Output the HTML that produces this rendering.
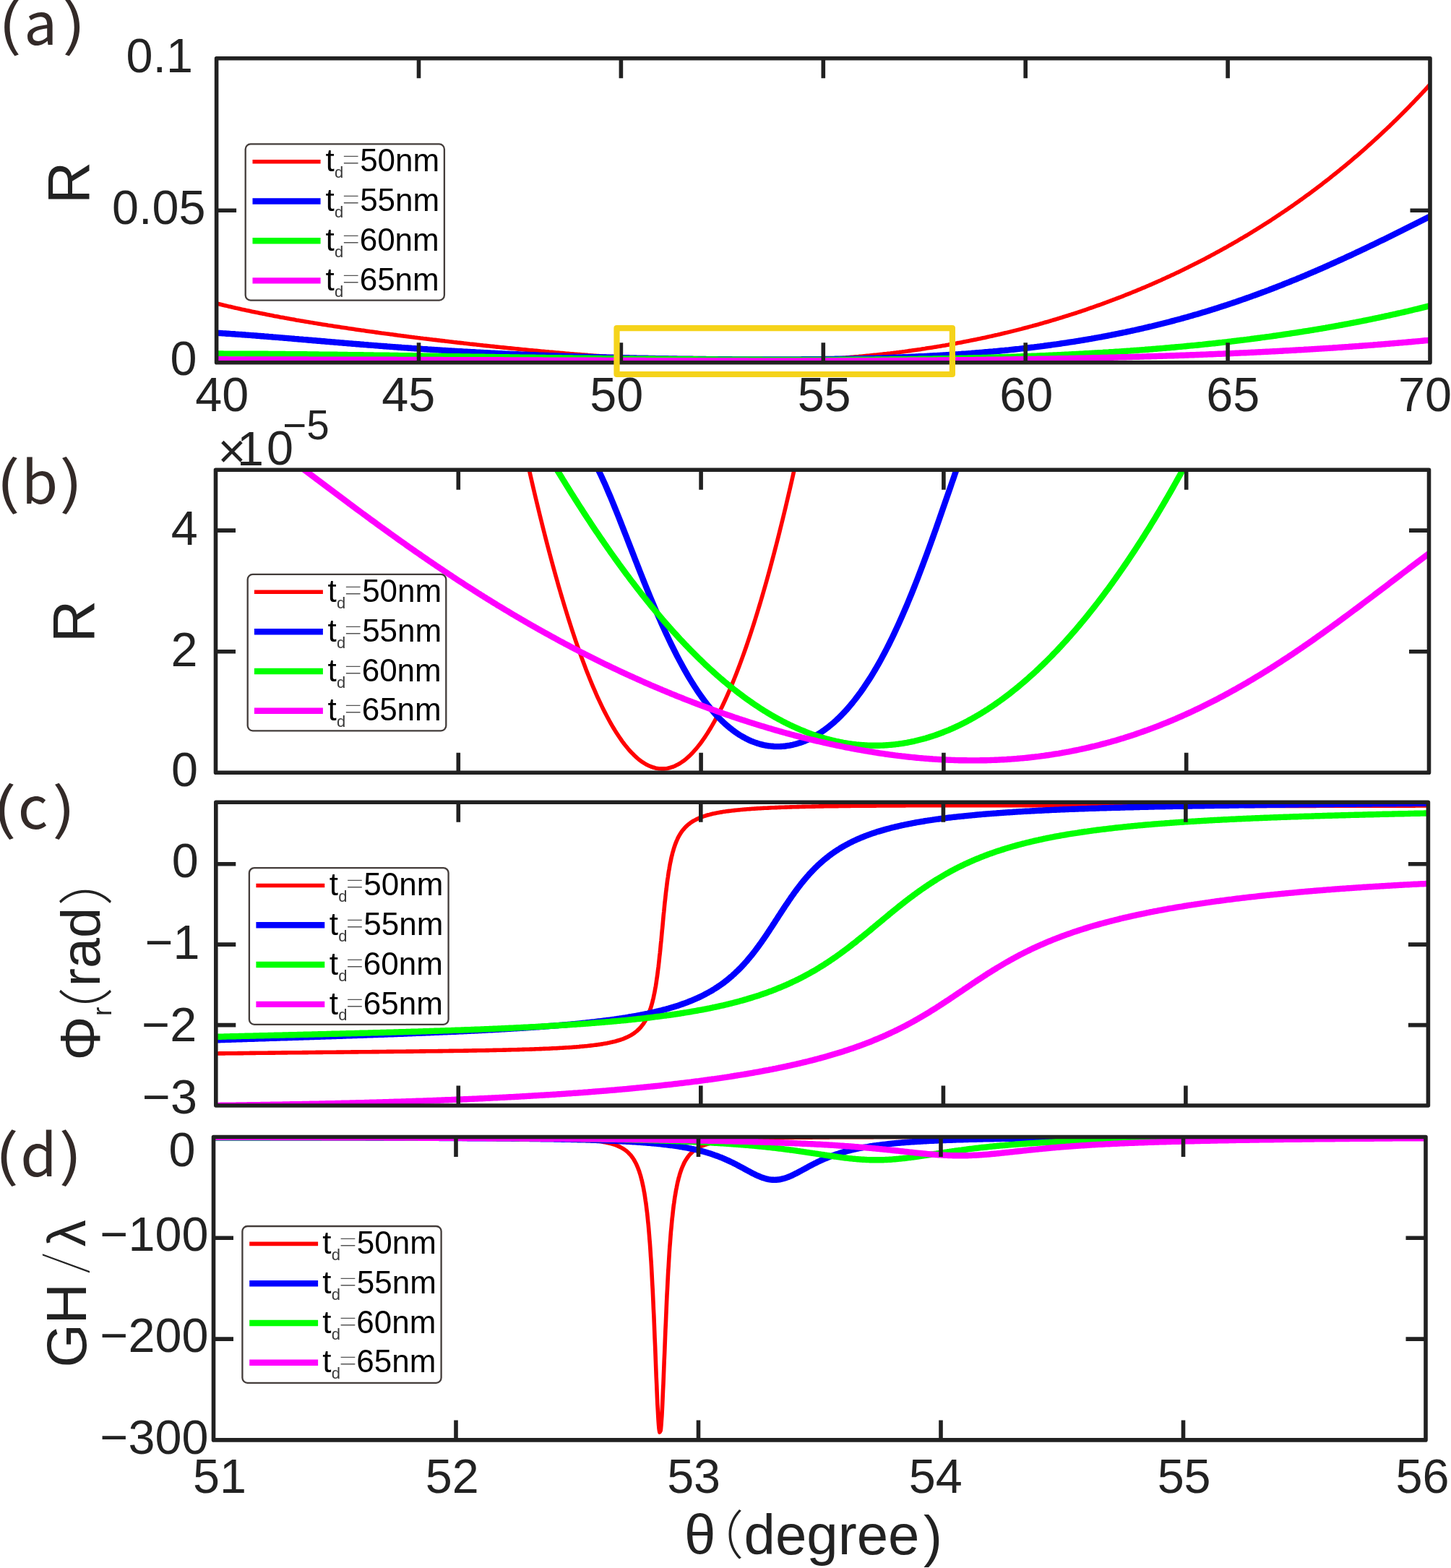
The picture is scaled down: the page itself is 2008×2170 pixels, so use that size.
<!DOCTYPE html>
<html><head><meta charset="utf-8"><title>figure</title>
<style>html,body{margin:0;padding:0;background:#fff;overflow:hidden}svg{display:block}</style>
</head><body>
<svg xmlns="http://www.w3.org/2000/svg" width="2008" height="2170" viewBox="0 0 2008 2170"><rect width="2008" height="2170" fill="#ffffff"/>
<clipPath id="clipa"><rect x="299.6" y="80.8" width="1679.4" height="420.9"/></clipPath>
<g clip-path="url(#clipa)" fill="none" stroke-linejoin="round" stroke-linecap="round">
<path d="M296.0 419.0L298.0 419.5L300.0 420.0L302.0 420.5L304.0 421.0L306.0 421.5L308.0 422.0L310.0 422.5L312.0 422.9L314.0 423.4L316.0 423.9L318.0 424.3L320.0 424.8L322.0 425.3L324.0 425.7L326.0 426.2L328.0 426.6L330.0 427.1L332.0 427.5L334.0 428.0L336.0 428.4L338.0 428.8L340.0 429.3L342.0 429.7L344.0 430.1L346.0 430.5L348.0 431.0L350.0 431.4L352.0 431.8L354.0 432.2L356.0 432.6L358.0 433.0L360.0 433.4L362.0 433.8L364.0 434.2L366.0 434.6L368.0 435.0L370.0 435.4L372.0 435.8L374.0 436.2L376.0 436.6L378.0 437.0L380.0 437.4L382.0 437.7L384.0 438.1L386.0 438.5L388.0 438.9L390.0 439.2L392.0 439.6L394.0 440.0L396.0 440.3L398.0 440.7L400.0 441.1L402.0 441.4L404.0 441.8L406.0 442.1L408.0 442.5L410.0 442.9L412.0 443.2L414.0 443.6L416.0 443.9L418.0 444.2L420.0 444.6L422.0 444.9L424.0 445.3L426.0 445.6L428.0 445.9L430.0 446.3L432.0 446.6L434.0 446.9L436.0 447.3L438.0 447.6L440.0 447.9L442.0 448.2L444.0 448.6L446.0 448.9L448.0 449.2L450.0 449.5L452.0 449.8L454.0 450.2L456.0 450.5L458.0 450.8L460.0 451.1L462.0 451.4L464.0 451.7L466.0 452.0L468.0 452.3L470.0 452.6L472.0 452.9L474.0 453.2L476.0 453.5L478.0 453.8L480.0 454.1L482.0 454.4L484.0 454.7L486.0 455.0L488.0 455.3L490.0 455.6L492.0 455.9L494.0 456.2L496.0 456.5L498.0 456.8L500.0 457.1L502.0 457.3L504.0 457.6L506.0 457.9L508.0 458.2L510.0 458.5L512.0 458.8L514.0 459.0L516.0 459.3L518.0 459.6L520.0 459.9L522.0 460.1L524.0 460.4L526.0 460.7L528.0 461.0L530.0 461.2L532.0 461.5L534.0 461.8L536.0 462.0L538.0 462.3L540.0 462.6L542.0 462.8L544.0 463.1L546.0 463.4L548.0 463.6L550.0 463.9L552.0 464.2L554.0 464.4L556.0 464.7L558.0 464.9L560.0 465.2L562.0 465.4L564.0 465.7L566.0 466.0L568.0 466.2L570.0 466.5L572.0 466.7L574.0 467.0L576.0 467.2L578.0 467.5L580.0 467.7L582.0 468.0L584.0 468.2L586.0 468.5L588.0 468.7L590.0 468.9L592.0 469.2L594.0 469.4L596.0 469.7L598.0 469.9L600.0 470.2L602.0 470.4L604.0 470.6L606.0 470.9L608.0 471.1L610.0 471.4L612.0 471.6L614.0 471.8L616.0 472.1L618.0 472.3L620.0 472.5L622.0 472.8L624.0 473.0L626.0 473.2L628.0 473.5L630.0 473.7L632.0 473.9L634.0 474.2L636.0 474.4L638.0 474.6L640.0 474.8L642.0 475.1L644.0 475.3L646.0 475.5L648.0 475.7L650.0 476.0L652.0 476.2L654.0 476.4L656.0 476.6L658.0 476.8L660.0 477.1L662.0 477.3L664.0 477.5L666.0 477.7L668.0 477.9L670.0 478.2L672.0 478.4L674.0 478.6L676.0 478.8L678.0 479.0L680.0 479.2L682.0 479.4L684.0 479.6L686.0 479.9L688.0 480.1L690.0 480.3L692.0 480.5L694.0 480.7L696.0 480.9L698.0 481.1L700.0 481.3L702.0 481.5L704.0 481.7L706.0 481.9L708.0 482.1L710.0 482.3L712.0 482.5L714.0 482.7L716.0 482.9L718.0 483.1L720.0 483.3L722.0 483.5L724.0 483.7L726.0 483.9L728.0 484.1L730.0 484.3L732.0 484.5L734.0 484.7L736.0 484.8L738.0 485.0L740.0 485.2L742.0 485.4L744.0 485.6L746.0 485.8L748.0 486.0L750.0 486.2L752.0 486.3L754.0 486.5L756.0 486.7L758.0 486.9L760.0 487.1L762.0 487.2L764.0 487.4L766.0 487.6L768.0 487.8L770.0 488.0L772.0 488.1L774.0 488.3L776.0 488.5L778.0 488.6L780.0 488.8L782.0 489.0L784.0 489.2L786.0 489.3L788.0 489.5L790.0 489.7L792.0 489.8L794.0 490.0L796.0 490.2L798.0 490.3L800.0 490.5L802.0 490.6L804.0 490.8L806.0 491.0L808.0 491.1L810.0 491.3L812.0 491.4L814.0 491.6L816.0 491.7L818.0 491.9L820.0 492.0L822.0 492.2L824.0 492.3L826.0 492.5L828.0 492.6L830.0 492.8L832.0 492.9L834.0 493.1L836.0 493.2L838.0 493.3L840.0 493.5L842.0 493.6L844.0 493.8L846.0 493.9L848.0 494.0L850.0 494.2L852.0 494.3L854.0 494.4L856.0 494.6L858.0 494.7L860.0 494.8L862.0 494.9L864.0 495.1L866.0 495.2L868.0 495.3L870.0 495.4L872.0 495.6L874.0 495.7L876.0 495.8L878.0 495.9L880.0 496.0L882.0 496.1L884.0 496.3L886.0 496.4L888.0 496.5L890.0 496.6L892.0 496.7L894.0 496.8L896.0 496.9L898.0 497.0L900.0 497.1L902.0 497.2L904.0 497.3L906.0 497.4L908.0 497.5L910.0 497.6L912.0 497.7L914.0 497.8L916.0 497.9L918.0 498.0L920.0 498.1L922.0 498.2L924.0 498.2L926.0 498.3L928.0 498.4L930.0 498.5L932.0 498.6L934.0 498.7L936.0 498.7L938.0 498.8L940.0 498.9L942.0 499.0L944.0 499.0L946.0 499.1L948.0 499.2L950.0 499.2L952.0 499.3L954.0 499.4L956.0 499.4L958.0 499.5L960.0 499.5L962.0 499.6L964.0 499.6L966.0 499.7L968.0 499.8L970.0 499.8L972.0 499.9L974.0 499.9L976.0 499.9L978.0 500.0L980.0 500.0L982.0 500.1L984.0 500.1L986.0 500.1L988.0 500.2L990.0 500.2L992.0 500.2L994.0 500.3L996.0 500.3L998.0 500.3L1000.0 500.4L1002.0 500.4L1004.0 500.4L1006.0 500.4L1008.0 500.4L1010.0 500.4L1012.0 500.5L1014.0 500.5L1016.0 500.5L1018.0 500.5L1020.0 500.5L1022.0 500.5L1024.0 500.5L1026.0 500.5L1028.0 500.5L1030.0 500.5L1032.0 500.5L1034.0 500.5L1036.0 500.5L1038.0 500.5L1040.0 500.5L1042.0 500.4L1044.0 500.4L1046.0 500.4L1048.0 500.4L1050.0 500.4L1052.0 500.3L1054.0 500.3L1056.0 500.3L1058.0 500.3L1060.0 500.2L1062.0 500.2L1064.0 500.2L1066.0 500.1L1068.0 500.1L1070.0 500.0L1072.0 500.0L1074.0 499.9L1076.0 499.9L1078.0 499.8L1080.0 499.8L1082.0 499.7L1084.0 499.7L1086.0 499.6L1088.0 499.6L1090.0 499.5L1092.0 499.4L1094.0 499.4L1096.0 499.3L1098.0 499.2L1100.0 499.1L1102.0 499.1L1104.0 499.0L1106.0 498.9L1108.0 498.8L1110.0 498.7L1112.0 498.6L1114.0 498.6L1116.0 498.5L1118.0 498.4L1120.0 498.3L1122.0 498.2L1124.0 498.1L1126.0 498.0L1128.0 497.9L1130.0 497.8L1132.0 497.6L1134.0 497.5L1136.0 497.4L1138.0 497.3L1140.0 497.2L1142.0 497.1L1144.0 496.9L1146.0 496.8L1148.0 496.7L1150.0 496.5L1152.0 496.4L1154.0 496.3L1156.0 496.1L1158.0 496.0L1160.0 495.8L1162.0 495.7L1164.0 495.5L1166.0 495.4L1168.0 495.2L1170.0 495.1L1172.0 494.9L1174.0 494.8L1176.0 494.6L1178.0 494.4L1180.0 494.3L1182.0 494.1L1184.0 493.9L1186.0 493.7L1188.0 493.6L1190.0 493.4L1192.0 493.2L1194.0 493.0L1196.0 492.8L1198.0 492.6L1200.0 492.4L1202.0 492.2L1204.0 492.0L1206.0 491.8L1208.0 491.6L1210.0 491.4L1212.0 491.2L1214.0 491.0L1216.0 490.8L1218.0 490.6L1220.0 490.4L1222.0 490.1L1224.0 489.9L1226.0 489.7L1228.0 489.4L1230.0 489.2L1232.0 489.0L1234.0 488.7L1236.0 488.5L1238.0 488.2L1240.0 488.0L1242.0 487.7L1244.0 487.5L1246.0 487.2L1248.0 487.0L1250.0 486.7L1252.0 486.5L1254.0 486.2L1256.0 485.9L1258.0 485.6L1260.0 485.4L1262.0 485.1L1264.0 484.8L1266.0 484.5L1268.0 484.2L1270.0 483.9L1272.0 483.7L1274.0 483.4L1276.0 483.1L1278.0 482.8L1280.0 482.5L1282.0 482.1L1284.0 481.8L1286.0 481.5L1288.0 481.2L1290.0 480.9L1292.0 480.6L1294.0 480.2L1296.0 479.9L1298.0 479.6L1300.0 479.3L1302.0 478.9L1304.0 478.6L1306.0 478.2L1308.0 477.9L1310.0 477.5L1312.0 477.2L1314.0 476.8L1316.0 476.5L1318.0 476.1L1320.0 475.8L1322.0 475.4L1324.0 475.0L1326.0 474.6L1328.0 474.3L1330.0 473.9L1332.0 473.5L1334.0 473.1L1336.0 472.7L1338.0 472.3L1340.0 471.9L1342.0 471.5L1344.0 471.1L1346.0 470.7L1348.0 470.3L1350.0 469.9L1352.0 469.5L1354.0 469.1L1356.0 468.7L1358.0 468.2L1360.0 467.8L1362.0 467.4L1364.0 467.0L1366.0 466.5L1368.0 466.1L1370.0 465.6L1372.0 465.2L1374.0 464.7L1376.0 464.3L1378.0 463.8L1380.0 463.4L1382.0 462.9L1384.0 462.5L1386.0 462.0L1388.0 461.5L1390.0 461.0L1392.0 460.6L1394.0 460.1L1396.0 459.6L1398.0 459.1L1400.0 458.6L1402.0 458.1L1404.0 457.6L1406.0 457.1L1408.0 456.6L1410.0 456.1L1412.0 455.6L1414.0 455.1L1416.0 454.5L1418.0 454.0L1420.0 453.5L1422.0 453.0L1424.0 452.4L1426.0 451.9L1428.0 451.4L1430.0 450.8L1432.0 450.3L1434.0 449.7L1436.0 449.2L1438.0 448.6L1440.0 448.0L1442.0 447.5L1444.0 446.9L1446.0 446.3L1448.0 445.7L1450.0 445.2L1452.0 444.6L1454.0 444.0L1456.0 443.4L1458.0 442.8L1460.0 442.2L1462.0 441.6L1464.0 441.0L1466.0 440.4L1468.0 439.8L1470.0 439.2L1472.0 438.5L1474.0 437.9L1476.0 437.3L1478.0 436.7L1480.0 436.0L1482.0 435.4L1484.0 434.7L1486.0 434.1L1488.0 433.5L1490.0 432.8L1492.0 432.1L1494.0 431.5L1496.0 430.8L1498.0 430.1L1500.0 429.5L1502.0 428.8L1504.0 428.1L1506.0 427.4L1508.0 426.7L1510.0 426.0L1512.0 425.3L1514.0 424.6L1516.0 423.9L1518.0 423.2L1520.0 422.5L1522.0 421.8L1524.0 421.1L1526.0 420.4L1528.0 419.6L1530.0 418.9L1532.0 418.2L1534.0 417.4L1536.0 416.7L1538.0 415.9L1540.0 415.2L1542.0 414.4L1544.0 413.7L1546.0 412.9L1548.0 412.1L1550.0 411.3L1552.0 410.6L1554.0 409.8L1556.0 409.0L1558.0 408.2L1560.0 407.4L1562.0 406.6L1564.0 405.8L1566.0 405.0L1568.0 404.2L1570.0 403.4L1572.0 402.6L1574.0 401.7L1576.0 400.9L1578.0 400.1L1580.0 399.2L1582.0 398.4L1584.0 397.6L1586.0 396.7L1588.0 395.8L1590.0 395.0L1592.0 394.1L1594.0 393.3L1596.0 392.4L1598.0 391.5L1600.0 390.6L1602.0 389.7L1604.0 388.8L1606.0 388.0L1608.0 387.1L1610.0 386.1L1612.0 385.2L1614.0 384.3L1616.0 383.4L1618.0 382.5L1620.0 381.6L1622.0 380.6L1624.0 379.7L1626.0 378.7L1628.0 377.8L1630.0 376.9L1632.0 375.9L1634.0 374.9L1636.0 374.0L1638.0 373.0L1640.0 372.0L1642.0 371.0L1644.0 370.1L1646.0 369.1L1648.0 368.1L1650.0 367.1L1652.0 366.1L1654.0 365.1L1656.0 364.1L1658.0 363.0L1660.0 362.0L1662.0 361.0L1664.0 359.9L1666.0 358.9L1668.0 357.9L1670.0 356.8L1672.0 355.8L1674.0 354.7L1676.0 353.6L1678.0 352.6L1680.0 351.5L1682.0 350.4L1684.0 349.3L1686.0 348.2L1688.0 347.1L1690.0 346.0L1692.0 344.9L1694.0 343.8L1696.0 342.7L1698.0 341.6L1700.0 340.4L1702.0 339.3L1704.0 338.2L1706.0 337.0L1708.0 335.9L1710.0 334.7L1712.0 333.6L1714.0 332.4L1716.0 331.2L1718.0 330.0L1720.0 328.9L1722.0 327.7L1724.0 326.5L1726.0 325.3L1728.0 324.1L1730.0 322.9L1732.0 321.6L1734.0 320.4L1736.0 319.2L1738.0 318.0L1740.0 316.7L1742.0 315.5L1744.0 314.2L1746.0 313.0L1748.0 311.7L1750.0 310.4L1752.0 309.1L1754.0 307.9L1756.0 306.6L1758.0 305.3L1760.0 304.0L1762.0 302.7L1764.0 301.4L1766.0 300.0L1768.0 298.7L1770.0 297.4L1772.0 296.0L1774.0 294.7L1776.0 293.3L1778.0 292.0L1780.0 290.6L1782.0 289.3L1784.0 287.9L1786.0 286.5L1788.0 285.1L1790.0 283.7L1792.0 282.3L1794.0 280.9L1796.0 279.5L1798.0 278.1L1800.0 276.6L1802.0 275.2L1804.0 273.8L1806.0 272.3L1808.0 270.8L1810.0 269.4L1812.0 267.9L1814.0 266.4L1816.0 264.9L1818.0 263.5L1820.0 262.0L1822.0 260.5L1824.0 258.9L1826.0 257.4L1828.0 255.9L1830.0 254.4L1832.0 252.8L1834.0 251.3L1836.0 249.7L1838.0 248.2L1840.0 246.6L1842.0 245.0L1844.0 243.4L1846.0 241.8L1848.0 240.2L1850.0 238.6L1852.0 237.0L1854.0 235.4L1856.0 233.7L1858.0 232.1L1860.0 230.5L1862.0 228.8L1864.0 227.1L1866.0 225.5L1868.0 223.8L1870.0 222.1L1872.0 220.4L1874.0 218.7L1876.0 217.0L1878.0 215.3L1880.0 213.6L1882.0 211.8L1884.0 210.1L1886.0 208.3L1888.0 206.6L1890.0 204.8L1892.0 203.0L1894.0 201.2L1896.0 199.5L1898.0 197.7L1900.0 195.8L1902.0 194.0L1904.0 192.2L1906.0 190.4L1908.0 188.5L1910.0 186.7L1912.0 184.8L1914.0 182.9L1916.0 181.0L1918.0 179.2L1920.0 177.3L1922.0 175.4L1924.0 173.4L1926.0 171.5L1928.0 169.6L1930.0 167.6L1932.0 165.7L1934.0 163.7L1936.0 161.7L1938.0 159.8L1940.0 157.8L1942.0 155.8L1944.0 153.8L1946.0 151.7L1948.0 149.7L1950.0 147.7L1952.0 145.6L1954.0 143.6L1956.0 141.5L1958.0 139.4L1960.0 137.3L1962.0 135.2L1964.0 133.1L1966.0 131.0L1968.0 128.9L1970.0 126.7L1972.0 124.6L1974.0 122.4L1976.0 120.2L1978.0 118.0L1980.0 115.9L1982.0 113.6" stroke="#ff0000" stroke-width="5.6"/>
<path d="M296.0 460.5L298.0 460.7L300.0 460.8L302.0 460.9L304.0 461.0L306.0 461.1L308.0 461.3L310.0 461.4L312.0 461.5L314.0 461.7L316.0 461.8L318.0 461.9L320.0 462.1L322.0 462.2L324.0 462.3L326.0 462.5L328.0 462.6L330.0 462.8L332.0 462.9L334.0 463.0L336.0 463.2L338.0 463.3L340.0 463.5L342.0 463.6L344.0 463.8L346.0 463.9L348.0 464.1L350.0 464.2L352.0 464.4L354.0 464.5L356.0 464.7L358.0 464.9L360.0 465.0L362.0 465.2L364.0 465.3L366.0 465.5L368.0 465.6L370.0 465.8L372.0 466.0L374.0 466.1L376.0 466.3L378.0 466.5L380.0 466.6L382.0 466.8L384.0 466.9L386.0 467.1L388.0 467.3L390.0 467.4L392.0 467.6L394.0 467.8L396.0 467.9L398.0 468.1L400.0 468.3L402.0 468.4L404.0 468.6L406.0 468.8L408.0 469.0L410.0 469.1L412.0 469.3L414.0 469.5L416.0 469.6L418.0 469.8L420.0 470.0L422.0 470.1L424.0 470.3L426.0 470.5L428.0 470.7L430.0 470.8L432.0 471.0L434.0 471.2L436.0 471.3L438.0 471.5L440.0 471.7L442.0 471.8L444.0 472.0L446.0 472.2L448.0 472.3L450.0 472.5L452.0 472.7L454.0 472.9L456.0 473.0L458.0 473.2L460.0 473.4L462.0 473.5L464.0 473.7L466.0 473.9L468.0 474.0L470.0 474.2L472.0 474.4L474.0 474.5L476.0 474.7L478.0 474.9L480.0 475.0L482.0 475.2L484.0 475.4L486.0 475.5L488.0 475.7L490.0 475.9L492.0 476.0L494.0 476.2L496.0 476.3L498.0 476.5L500.0 476.7L502.0 476.8L504.0 477.0L506.0 477.1L508.0 477.3L510.0 477.5L512.0 477.6L514.0 477.8L516.0 477.9L518.0 478.1L520.0 478.2L522.0 478.4L524.0 478.6L526.0 478.7L528.0 478.9L530.0 479.0L532.0 479.2L534.0 479.3L536.0 479.5L538.0 479.6L540.0 479.8L542.0 479.9L544.0 480.1L546.0 480.2L548.0 480.4L550.0 480.5L552.0 480.7L554.0 480.8L556.0 481.0L558.0 481.1L560.0 481.3L562.0 481.4L564.0 481.5L566.0 481.7L568.0 481.8L570.0 482.0L572.0 482.1L574.0 482.2L576.0 482.4L578.0 482.5L580.0 482.7L582.0 482.8L584.0 482.9L586.0 483.1L588.0 483.2L590.0 483.3L592.0 483.5L594.0 483.6L596.0 483.7L598.0 483.9L600.0 484.0L602.0 484.1L604.0 484.2L606.0 484.4L608.0 484.5L610.0 484.6L612.0 484.8L614.0 484.9L616.0 485.0L618.0 485.1L620.0 485.3L622.0 485.4L624.0 485.5L626.0 485.6L628.0 485.7L630.0 485.9L632.0 486.0L634.0 486.1L636.0 486.2L638.0 486.3L640.0 486.4L642.0 486.6L644.0 486.7L646.0 486.8L648.0 486.9L650.0 487.0L652.0 487.1L654.0 487.2L656.0 487.3L658.0 487.4L660.0 487.6L662.0 487.7L664.0 487.8L666.0 487.9L668.0 488.0L670.0 488.1L672.0 488.2L674.0 488.3L676.0 488.4L678.0 488.5L680.0 488.6L682.0 488.7L684.0 488.8L686.0 488.9L688.0 489.0L690.0 489.1L692.0 489.2L694.0 489.3L696.0 489.4L698.0 489.5L700.0 489.6L702.0 489.7L704.0 489.8L706.0 489.9L708.0 489.9L710.0 490.0L712.0 490.1L714.0 490.2L716.0 490.3L718.0 490.4L720.0 490.5L722.0 490.6L724.0 490.7L726.0 490.7L728.0 490.8L730.0 490.9L732.0 491.0L734.0 491.1L736.0 491.2L738.0 491.2L740.0 491.3L742.0 491.4L744.0 491.5L746.0 491.6L748.0 491.6L750.0 491.7L752.0 491.8L754.0 491.9L756.0 491.9L758.0 492.0L760.0 492.1L762.0 492.2L764.0 492.2L766.0 492.3L768.0 492.4L770.0 492.4L772.0 492.5L774.0 492.6L776.0 492.7L778.0 492.7L780.0 492.8L782.0 492.9L784.0 492.9L786.0 493.0L788.0 493.1L790.0 493.1L792.0 493.2L794.0 493.3L796.0 493.3L798.0 493.4L800.0 493.4L802.0 493.5L804.0 493.6L806.0 493.6L808.0 493.7L810.0 493.8L812.0 493.8L814.0 493.9L816.0 493.9L818.0 494.0L820.0 494.0L822.0 494.1L824.0 494.2L826.0 494.2L828.0 494.3L830.0 494.3L832.0 494.4L834.0 494.4L836.0 494.5L838.0 494.5L840.0 494.6L842.0 494.6L844.0 494.7L846.0 494.7L848.0 494.8L850.0 494.8L852.0 494.9L854.0 494.9L856.0 495.0L858.0 495.0L860.0 495.1L862.0 495.1L864.0 495.2L866.0 495.2L868.0 495.3L870.0 495.3L872.0 495.4L874.0 495.4L876.0 495.4L878.0 495.5L880.0 495.5L882.0 495.6L884.0 495.6L886.0 495.6L888.0 495.7L890.0 495.7L892.0 495.8L894.0 495.8L896.0 495.8L898.0 495.9L900.0 495.9L902.0 496.0L904.0 496.0L906.0 496.0L908.0 496.1L910.0 496.1L912.0 496.1L914.0 496.2L916.0 496.2L918.0 496.2L920.0 496.3L922.0 496.3L924.0 496.3L926.0 496.4L928.0 496.4L930.0 496.4L932.0 496.5L934.0 496.5L936.0 496.5L938.0 496.6L940.0 496.6L942.0 496.6L944.0 496.6L946.0 496.7L948.0 496.7L950.0 496.7L952.0 496.8L954.0 496.8L956.0 496.8L958.0 496.8L960.0 496.9L962.0 496.9L964.0 496.9L966.0 496.9L968.0 496.9L970.0 497.0L972.0 497.0L974.0 497.0L976.0 497.0L978.0 497.1L980.0 497.1L982.0 497.1L984.0 497.1L986.0 497.1L988.0 497.2L990.0 497.2L992.0 497.2L994.0 497.2L996.0 497.2L998.0 497.2L1000.0 497.3L1002.0 497.3L1004.0 497.3L1006.0 497.3L1008.0 497.3L1010.0 497.3L1012.0 497.3L1014.0 497.4L1016.0 497.4L1018.0 497.4L1020.0 497.4L1022.0 497.4L1024.0 497.4L1026.0 497.4L1028.0 497.4L1030.0 497.4L1032.0 497.4L1034.0 497.5L1036.0 497.5L1038.0 497.5L1040.0 497.5L1042.0 497.5L1044.0 497.5L1046.0 497.5L1048.0 497.5L1050.0 497.5L1052.0 497.5L1054.0 497.5L1056.0 497.5L1058.0 497.5L1060.0 497.5L1062.0 497.5L1064.0 497.5L1066.0 497.5L1068.0 497.5L1070.0 497.5L1072.0 497.5L1074.0 497.5L1076.0 497.5L1078.0 497.5L1080.0 497.5L1082.0 497.5L1084.0 497.5L1086.0 497.5L1088.0 497.5L1090.0 497.5L1092.0 497.4L1094.0 497.4L1096.0 497.4L1098.0 497.4L1100.0 497.4L1102.0 497.4L1104.0 497.4L1106.0 497.4L1108.0 497.4L1110.0 497.3L1112.0 497.3L1114.0 497.3L1116.0 497.3L1118.0 497.3L1120.0 497.3L1122.0 497.3L1124.0 497.2L1126.0 497.2L1128.0 497.2L1130.0 497.2L1132.0 497.2L1134.0 497.1L1136.0 497.1L1138.0 497.1L1140.0 497.1L1142.0 497.0L1144.0 497.0L1146.0 497.0L1148.0 497.0L1150.0 496.9L1152.0 496.9L1154.0 496.9L1156.0 496.8L1158.0 496.8L1160.0 496.8L1162.0 496.7L1164.0 496.7L1166.0 496.7L1168.0 496.6L1170.0 496.6L1172.0 496.6L1174.0 496.5L1176.0 496.5L1178.0 496.4L1180.0 496.4L1182.0 496.4L1184.0 496.3L1186.0 496.3L1188.0 496.2L1190.0 496.2L1192.0 496.1L1194.0 496.1L1196.0 496.0L1198.0 496.0L1200.0 495.9L1202.0 495.9L1204.0 495.8L1206.0 495.8L1208.0 495.7L1210.0 495.7L1212.0 495.6L1214.0 495.5L1216.0 495.5L1218.0 495.4L1220.0 495.4L1222.0 495.3L1224.0 495.2L1226.0 495.2L1228.0 495.1L1230.0 495.0L1232.0 495.0L1234.0 494.9L1236.0 494.8L1238.0 494.8L1240.0 494.7L1242.0 494.6L1244.0 494.5L1246.0 494.5L1248.0 494.4L1250.0 494.3L1252.0 494.2L1254.0 494.1L1256.0 494.1L1258.0 494.0L1260.0 493.9L1262.0 493.8L1264.0 493.7L1266.0 493.6L1268.0 493.5L1270.0 493.4L1272.0 493.3L1274.0 493.3L1276.0 493.2L1278.0 493.1L1280.0 493.0L1282.0 492.9L1284.0 492.8L1286.0 492.7L1288.0 492.5L1290.0 492.4L1292.0 492.3L1294.0 492.2L1296.0 492.1L1298.0 492.0L1300.0 491.9L1302.0 491.8L1304.0 491.7L1306.0 491.5L1308.0 491.4L1310.0 491.3L1312.0 491.2L1314.0 491.0L1316.0 490.9L1318.0 490.8L1320.0 490.7L1322.0 490.5L1324.0 490.4L1326.0 490.3L1328.0 490.1L1330.0 490.0L1332.0 489.8L1334.0 489.7L1336.0 489.6L1338.0 489.4L1340.0 489.3L1342.0 489.1L1344.0 489.0L1346.0 488.8L1348.0 488.7L1350.0 488.5L1352.0 488.3L1354.0 488.2L1356.0 488.0L1358.0 487.9L1360.0 487.7L1362.0 487.5L1364.0 487.3L1366.0 487.2L1368.0 487.0L1370.0 486.8L1372.0 486.6L1374.0 486.5L1376.0 486.3L1378.0 486.1L1380.0 485.9L1382.0 485.7L1384.0 485.5L1386.0 485.3L1388.0 485.1L1390.0 485.0L1392.0 484.8L1394.0 484.6L1396.0 484.4L1398.0 484.1L1400.0 483.9L1402.0 483.7L1404.0 483.5L1406.0 483.3L1408.0 483.1L1410.0 482.9L1412.0 482.6L1414.0 482.4L1416.0 482.2L1418.0 482.0L1420.0 481.7L1422.0 481.5L1424.0 481.3L1426.0 481.0L1428.0 480.8L1430.0 480.6L1432.0 480.3L1434.0 480.1L1436.0 479.8L1438.0 479.6L1440.0 479.3L1442.0 479.1L1444.0 478.8L1446.0 478.5L1448.0 478.3L1450.0 478.0L1452.0 477.7L1454.0 477.5L1456.0 477.2L1458.0 476.9L1460.0 476.6L1462.0 476.4L1464.0 476.1L1466.0 475.8L1468.0 475.5L1470.0 475.2L1472.0 474.9L1474.0 474.6L1476.0 474.3L1478.0 474.0L1480.0 473.7L1482.0 473.4L1484.0 473.1L1486.0 472.8L1488.0 472.5L1490.0 472.1L1492.0 471.8L1494.0 471.5L1496.0 471.2L1498.0 470.8L1500.0 470.5L1502.0 470.2L1504.0 469.8L1506.0 469.5L1508.0 469.1L1510.0 468.8L1512.0 468.4L1514.0 468.1L1516.0 467.7L1518.0 467.4L1520.0 467.0L1522.0 466.6L1524.0 466.3L1526.0 465.9L1528.0 465.5L1530.0 465.2L1532.0 464.8L1534.0 464.4L1536.0 464.0L1538.0 463.6L1540.0 463.2L1542.0 462.8L1544.0 462.4L1546.0 462.0L1548.0 461.6L1550.0 461.2L1552.0 460.8L1554.0 460.4L1556.0 460.0L1558.0 459.6L1560.0 459.1L1562.0 458.7L1564.0 458.3L1566.0 457.8L1568.0 457.4L1570.0 457.0L1572.0 456.5L1574.0 456.1L1576.0 455.6L1578.0 455.2L1580.0 454.7L1582.0 454.3L1584.0 453.8L1586.0 453.3L1588.0 452.9L1590.0 452.4L1592.0 451.9L1594.0 451.5L1596.0 451.0L1598.0 450.5L1600.0 450.0L1602.0 449.5L1604.0 449.0L1606.0 448.5L1608.0 448.0L1610.0 447.5L1612.0 447.0L1614.0 446.5L1616.0 446.0L1618.0 445.5L1620.0 444.9L1622.0 444.4L1624.0 443.9L1626.0 443.3L1628.0 442.8L1630.0 442.3L1632.0 441.7L1634.0 441.2L1636.0 440.6L1638.0 440.1L1640.0 439.5L1642.0 439.0L1644.0 438.4L1646.0 437.8L1648.0 437.3L1650.0 436.7L1652.0 436.1L1654.0 435.5L1656.0 435.0L1658.0 434.4L1660.0 433.8L1662.0 433.2L1664.0 432.6L1666.0 432.0L1668.0 431.4L1670.0 430.8L1672.0 430.2L1674.0 429.5L1676.0 428.9L1678.0 428.3L1680.0 427.7L1682.0 427.0L1684.0 426.4L1686.0 425.8L1688.0 425.1L1690.0 424.5L1692.0 423.8L1694.0 423.2L1696.0 422.5L1698.0 421.9L1700.0 421.2L1702.0 420.6L1704.0 419.9L1706.0 419.2L1708.0 418.5L1710.0 417.9L1712.0 417.2L1714.0 416.5L1716.0 415.8L1718.0 415.1L1720.0 414.4L1722.0 413.7L1724.0 413.0L1726.0 412.3L1728.0 411.6L1730.0 410.9L1732.0 410.2L1734.0 409.4L1736.0 408.7L1738.0 408.0L1740.0 407.3L1742.0 406.5L1744.0 405.8L1746.0 405.0L1748.0 404.3L1750.0 403.6L1752.0 402.8L1754.0 402.1L1756.0 401.3L1758.0 400.5L1760.0 399.8L1762.0 399.0L1764.0 398.2L1766.0 397.5L1768.0 396.7L1770.0 395.9L1772.0 395.1L1774.0 394.3L1776.0 393.5L1778.0 392.7L1780.0 391.9L1782.0 391.1L1784.0 390.3L1786.0 389.5L1788.0 388.7L1790.0 387.9L1792.0 387.1L1794.0 386.3L1796.0 385.4L1798.0 384.6L1800.0 383.8L1802.0 382.9L1804.0 382.1L1806.0 381.3L1808.0 380.4L1810.0 379.6L1812.0 378.7L1814.0 377.9L1816.0 377.0L1818.0 376.2L1820.0 375.3L1822.0 374.4L1824.0 373.6L1826.0 372.7L1828.0 371.8L1830.0 371.0L1832.0 370.1L1834.0 369.2L1836.0 368.3L1838.0 367.4L1840.0 366.5L1842.0 365.6L1844.0 364.7L1846.0 363.8L1848.0 362.9L1850.0 362.0L1852.0 361.1L1854.0 360.2L1856.0 359.3L1858.0 358.4L1860.0 357.5L1862.0 356.6L1864.0 355.6L1866.0 354.7L1868.0 353.8L1870.0 352.9L1872.0 351.9L1874.0 351.0L1876.0 350.1L1878.0 349.1L1880.0 348.2L1882.0 347.2L1884.0 346.3L1886.0 345.3L1888.0 344.4L1890.0 343.4L1892.0 342.5L1894.0 341.5L1896.0 340.6L1898.0 339.6L1900.0 338.7L1902.0 337.7L1904.0 336.7L1906.0 335.8L1908.0 334.8L1910.0 333.8L1912.0 332.8L1914.0 331.9L1916.0 330.9L1918.0 329.9L1920.0 328.9L1922.0 328.0L1924.0 327.0L1926.0 326.0L1928.0 325.0L1930.0 324.0L1932.0 323.0L1934.0 322.0L1936.0 321.0L1938.0 320.0L1940.0 319.1L1942.0 318.1L1944.0 317.1L1946.0 316.1L1948.0 315.1L1950.0 314.1L1952.0 313.1L1954.0 312.1L1956.0 311.1L1958.0 310.1L1960.0 309.0L1962.0 308.0L1964.0 307.0L1966.0 306.0L1968.0 305.0L1970.0 304.0L1972.0 303.0L1974.0 302.0L1976.0 301.0L1978.0 300.0L1980.0 299.0L1982.0 298.0" stroke="#0000ff" stroke-width="8.4"/>
<path d="M296.0 489.5L298.0 489.5L300.0 489.5L302.0 489.5L304.0 489.5L306.0 489.5L308.0 489.5L310.0 489.6L312.0 489.6L314.0 489.6L316.0 489.6L318.0 489.6L320.0 489.6L322.0 489.6L324.0 489.6L326.0 489.6L328.0 489.6L330.0 489.6L332.0 489.6L334.0 489.6L336.0 489.6L338.0 489.6L340.0 489.7L342.0 489.7L344.0 489.7L346.0 489.7L348.0 489.7L350.0 489.7L352.0 489.7L354.0 489.7L356.0 489.7L358.0 489.8L360.0 489.8L362.0 489.8L364.0 489.8L366.0 489.8L368.0 489.8L370.0 489.8L372.0 489.9L374.0 489.9L376.0 489.9L378.0 489.9L380.0 489.9L382.0 489.9L384.0 490.0L386.0 490.0L388.0 490.0L390.0 490.0L392.0 490.0L394.0 490.0L396.0 490.1L398.0 490.1L400.0 490.1L402.0 490.1L404.0 490.1L406.0 490.2L408.0 490.2L410.0 490.2L412.0 490.2L414.0 490.2L416.0 490.3L418.0 490.3L420.0 490.3L422.0 490.3L424.0 490.3L426.0 490.4L428.0 490.4L430.0 490.4L432.0 490.4L434.0 490.5L436.0 490.5L438.0 490.5L440.0 490.5L442.0 490.6L444.0 490.6L446.0 490.6L448.0 490.6L450.0 490.6L452.0 490.7L454.0 490.7L456.0 490.7L458.0 490.7L460.0 490.8L462.0 490.8L464.0 490.8L466.0 490.8L468.0 490.9L470.0 490.9L472.0 490.9L474.0 491.0L476.0 491.0L478.0 491.0L480.0 491.0L482.0 491.1L484.0 491.1L486.0 491.1L488.0 491.1L490.0 491.2L492.0 491.2L494.0 491.2L496.0 491.3L498.0 491.3L500.0 491.3L502.0 491.3L504.0 491.4L506.0 491.4L508.0 491.4L510.0 491.4L512.0 491.5L514.0 491.5L516.0 491.5L518.0 491.6L520.0 491.6L522.0 491.6L524.0 491.6L526.0 491.7L528.0 491.7L530.0 491.7L532.0 491.8L534.0 491.8L536.0 491.8L538.0 491.8L540.0 491.9L542.0 491.9L544.0 491.9L546.0 492.0L548.0 492.0L550.0 492.0L552.0 492.1L554.0 492.1L556.0 492.1L558.0 492.1L560.0 492.2L562.0 492.2L564.0 492.2L566.0 492.3L568.0 492.3L570.0 492.3L572.0 492.4L574.0 492.4L576.0 492.4L578.0 492.4L580.0 492.5L582.0 492.5L584.0 492.5L586.0 492.6L588.0 492.6L590.0 492.6L592.0 492.7L594.0 492.7L596.0 492.7L598.0 492.7L600.0 492.8L602.0 492.8L604.0 492.8L606.0 492.9L608.0 492.9L610.0 492.9L612.0 493.0L614.0 493.0L616.0 493.0L618.0 493.1L620.0 493.1L622.0 493.1L624.0 493.1L626.0 493.2L628.0 493.2L630.0 493.2L632.0 493.3L634.0 493.3L636.0 493.3L638.0 493.4L640.0 493.4L642.0 493.4L644.0 493.4L646.0 493.5L648.0 493.5L650.0 493.5L652.0 493.6L654.0 493.6L656.0 493.6L658.0 493.7L660.0 493.7L662.0 493.7L664.0 493.7L666.0 493.8L668.0 493.8L670.0 493.8L672.0 493.9L674.0 493.9L676.0 493.9L678.0 493.9L680.0 494.0L682.0 494.0L684.0 494.0L686.0 494.1L688.0 494.1L690.0 494.1L692.0 494.2L694.0 494.2L696.0 494.2L698.0 494.2L700.0 494.3L702.0 494.3L704.0 494.3L706.0 494.4L708.0 494.4L710.0 494.4L712.0 494.4L714.0 494.5L716.0 494.5L718.0 494.5L720.0 494.6L722.0 494.6L724.0 494.6L726.0 494.6L728.0 494.7L730.0 494.7L732.0 494.7L734.0 494.8L736.0 494.8L738.0 494.8L740.0 494.8L742.0 494.9L744.0 494.9L746.0 494.9L748.0 495.0L750.0 495.0L752.0 495.0L754.0 495.0L756.0 495.1L758.0 495.1L760.0 495.1L762.0 495.1L764.0 495.2L766.0 495.2L768.0 495.2L770.0 495.2L772.0 495.3L774.0 495.3L776.0 495.3L778.0 495.4L780.0 495.4L782.0 495.4L784.0 495.4L786.0 495.5L788.0 495.5L790.0 495.5L792.0 495.5L794.0 495.6L796.0 495.6L798.0 495.6L800.0 495.6L802.0 495.7L804.0 495.7L806.0 495.7L808.0 495.7L810.0 495.8L812.0 495.8L814.0 495.8L816.0 495.8L818.0 495.9L820.0 495.9L822.0 495.9L824.0 495.9L826.0 496.0L828.0 496.0L830.0 496.0L832.0 496.0L834.0 496.1L836.0 496.1L838.0 496.1L840.0 496.1L842.0 496.2L844.0 496.2L846.0 496.2L848.0 496.2L850.0 496.2L852.0 496.3L854.0 496.3L856.0 496.3L858.0 496.3L860.0 496.4L862.0 496.4L864.0 496.4L866.0 496.4L868.0 496.4L870.0 496.5L872.0 496.5L874.0 496.5L876.0 496.5L878.0 496.6L880.0 496.6L882.0 496.6L884.0 496.6L886.0 496.6L888.0 496.7L890.0 496.7L892.0 496.7L894.0 496.7L896.0 496.7L898.0 496.8L900.0 496.8L902.0 496.8L904.0 496.8L906.0 496.8L908.0 496.9L910.0 496.9L912.0 496.9L914.0 496.9L916.0 496.9L918.0 497.0L920.0 497.0L922.0 497.0L924.0 497.0L926.0 497.0L928.0 497.0L930.0 497.1L932.0 497.1L934.0 497.1L936.0 497.1L938.0 497.1L940.0 497.2L942.0 497.2L944.0 497.2L946.0 497.2L948.0 497.2L950.0 497.2L952.0 497.3L954.0 497.3L956.0 497.3L958.0 497.3L960.0 497.3L962.0 497.3L964.0 497.3L966.0 497.4L968.0 497.4L970.0 497.4L972.0 497.4L974.0 497.4L976.0 497.4L978.0 497.4L980.0 497.5L982.0 497.5L984.0 497.5L986.0 497.5L988.0 497.5L990.0 497.5L992.0 497.5L994.0 497.6L996.0 497.6L998.0 497.6L1000.0 497.6L1002.0 497.6L1004.0 497.6L1006.0 497.6L1008.0 497.6L1010.0 497.7L1012.0 497.7L1014.0 497.7L1016.0 497.7L1018.0 497.7L1020.0 497.7L1022.0 497.7L1024.0 497.7L1026.0 497.7L1028.0 497.7L1030.0 497.8L1032.0 497.8L1034.0 497.8L1036.0 497.8L1038.0 497.8L1040.0 497.8L1042.0 497.8L1044.0 497.8L1046.0 497.8L1048.0 497.8L1050.0 497.8L1052.0 497.8L1054.0 497.8L1056.0 497.9L1058.0 497.9L1060.0 497.9L1062.0 497.9L1064.0 497.9L1066.0 497.9L1068.0 497.9L1070.0 497.9L1072.0 497.9L1074.0 497.9L1076.0 497.9L1078.0 497.9L1080.0 497.9L1082.0 497.9L1084.0 497.9L1086.0 497.9L1088.0 497.9L1090.0 497.9L1092.0 497.9L1094.0 497.9L1096.0 497.9L1098.0 497.9L1100.0 497.9L1102.0 497.9L1104.0 497.9L1106.0 497.9L1108.0 497.9L1110.0 497.9L1112.0 497.9L1114.0 497.9L1116.0 497.9L1118.0 497.9L1120.0 497.9L1122.0 497.9L1124.0 497.9L1126.0 497.9L1128.0 497.9L1130.0 497.9L1132.0 497.9L1134.0 497.9L1136.0 497.9L1138.0 497.9L1140.0 497.9L1142.0 497.9L1144.0 497.9L1146.0 497.9L1148.0 497.9L1150.0 497.9L1152.0 497.9L1154.0 497.9L1156.0 497.9L1158.0 497.9L1160.0 497.9L1162.0 497.8L1164.0 497.8L1166.0 497.8L1168.0 497.8L1170.0 497.8L1172.0 497.8L1174.0 497.8L1176.0 497.8L1178.0 497.8L1180.0 497.8L1182.0 497.7L1184.0 497.7L1186.0 497.7L1188.0 497.7L1190.0 497.7L1192.0 497.7L1194.0 497.7L1196.0 497.7L1198.0 497.6L1200.0 497.6L1202.0 497.6L1204.0 497.6L1206.0 497.6L1208.0 497.6L1210.0 497.6L1212.0 497.5L1214.0 497.5L1216.0 497.5L1218.0 497.5L1220.0 497.5L1222.0 497.4L1224.0 497.4L1226.0 497.4L1228.0 497.4L1230.0 497.4L1232.0 497.3L1234.0 497.3L1236.0 497.3L1238.0 497.3L1240.0 497.3L1242.0 497.2L1244.0 497.2L1246.0 497.2L1248.0 497.2L1250.0 497.1L1252.0 497.1L1254.0 497.1L1256.0 497.1L1258.0 497.0L1260.0 497.0L1262.0 497.0L1264.0 497.0L1266.0 496.9L1268.0 496.9L1270.0 496.9L1272.0 496.8L1274.0 496.8L1276.0 496.8L1278.0 496.8L1280.0 496.7L1282.0 496.7L1284.0 496.7L1286.0 496.6L1288.0 496.6L1290.0 496.6L1292.0 496.5L1294.0 496.5L1296.0 496.5L1298.0 496.4L1300.0 496.4L1302.0 496.3L1304.0 496.3L1306.0 496.3L1308.0 496.2L1310.0 496.2L1312.0 496.2L1314.0 496.1L1316.0 496.1L1318.0 496.0L1320.0 496.0L1322.0 495.9L1324.0 495.9L1326.0 495.9L1328.0 495.8L1330.0 495.8L1332.0 495.7L1334.0 495.7L1336.0 495.6L1338.0 495.6L1340.0 495.5L1342.0 495.5L1344.0 495.4L1346.0 495.4L1348.0 495.3L1350.0 495.3L1352.0 495.2L1354.0 495.2L1356.0 495.1L1358.0 495.1L1360.0 495.0L1362.0 495.0L1364.0 494.9L1366.0 494.9L1368.0 494.8L1370.0 494.7L1372.0 494.7L1374.0 494.6L1376.0 494.6L1378.0 494.5L1380.0 494.5L1382.0 494.4L1384.0 494.3L1386.0 494.3L1388.0 494.2L1390.0 494.1L1392.0 494.1L1394.0 494.0L1396.0 493.9L1398.0 493.9L1400.0 493.8L1402.0 493.7L1404.0 493.7L1406.0 493.6L1408.0 493.5L1410.0 493.5L1412.0 493.4L1414.0 493.3L1416.0 493.2L1418.0 493.2L1420.0 493.1L1422.0 493.0L1424.0 492.9L1426.0 492.9L1428.0 492.8L1430.0 492.7L1432.0 492.6L1434.0 492.6L1436.0 492.5L1438.0 492.4L1440.0 492.3L1442.0 492.2L1444.0 492.1L1446.0 492.1L1448.0 492.0L1450.0 491.9L1452.0 491.8L1454.0 491.7L1456.0 491.6L1458.0 491.5L1460.0 491.4L1462.0 491.4L1464.0 491.3L1466.0 491.2L1468.0 491.1L1470.0 491.0L1472.0 490.9L1474.0 490.8L1476.0 490.7L1478.0 490.6L1480.0 490.5L1482.0 490.4L1484.0 490.3L1486.0 490.2L1488.0 490.1L1490.0 490.0L1492.0 489.9L1494.0 489.8L1496.0 489.7L1498.0 489.6L1500.0 489.4L1502.0 489.3L1504.0 489.2L1506.0 489.1L1508.0 489.0L1510.0 488.9L1512.0 488.8L1514.0 488.7L1516.0 488.5L1518.0 488.4L1520.0 488.3L1522.0 488.2L1524.0 488.1L1526.0 488.0L1528.0 487.8L1530.0 487.7L1532.0 487.6L1534.0 487.5L1536.0 487.3L1538.0 487.2L1540.0 487.1L1542.0 486.9L1544.0 486.8L1546.0 486.7L1548.0 486.6L1550.0 486.4L1552.0 486.3L1554.0 486.1L1556.0 486.0L1558.0 485.9L1560.0 485.7L1562.0 485.6L1564.0 485.5L1566.0 485.3L1568.0 485.2L1570.0 485.0L1572.0 484.9L1574.0 484.7L1576.0 484.6L1578.0 484.4L1580.0 484.3L1582.0 484.1L1584.0 484.0L1586.0 483.8L1588.0 483.7L1590.0 483.5L1592.0 483.4L1594.0 483.2L1596.0 483.0L1598.0 482.9L1600.0 482.7L1602.0 482.5L1604.0 482.4L1606.0 482.2L1608.0 482.1L1610.0 481.9L1612.0 481.7L1614.0 481.5L1616.0 481.4L1618.0 481.2L1620.0 481.0L1622.0 480.8L1624.0 480.7L1626.0 480.5L1628.0 480.3L1630.0 480.1L1632.0 479.9L1634.0 479.8L1636.0 479.6L1638.0 479.4L1640.0 479.2L1642.0 479.0L1644.0 478.8L1646.0 478.6L1648.0 478.4L1650.0 478.2L1652.0 478.1L1654.0 477.9L1656.0 477.7L1658.0 477.5L1660.0 477.3L1662.0 477.1L1664.0 476.9L1666.0 476.6L1668.0 476.4L1670.0 476.2L1672.0 476.0L1674.0 475.8L1676.0 475.6L1678.0 475.4L1680.0 475.2L1682.0 475.0L1684.0 474.7L1686.0 474.5L1688.0 474.3L1690.0 474.1L1692.0 473.8L1694.0 473.6L1696.0 473.4L1698.0 473.2L1700.0 472.9L1702.0 472.7L1704.0 472.5L1706.0 472.2L1708.0 472.0L1710.0 471.8L1712.0 471.5L1714.0 471.3L1716.0 471.0L1718.0 470.8L1720.0 470.6L1722.0 470.3L1724.0 470.1L1726.0 469.8L1728.0 469.6L1730.0 469.3L1732.0 469.0L1734.0 468.8L1736.0 468.5L1738.0 468.3L1740.0 468.0L1742.0 467.7L1744.0 467.5L1746.0 467.2L1748.0 466.9L1750.0 466.7L1752.0 466.4L1754.0 466.1L1756.0 465.9L1758.0 465.6L1760.0 465.3L1762.0 465.0L1764.0 464.7L1766.0 464.5L1768.0 464.2L1770.0 463.9L1772.0 463.6L1774.0 463.3L1776.0 463.0L1778.0 462.7L1780.0 462.4L1782.0 462.1L1784.0 461.8L1786.0 461.5L1788.0 461.2L1790.0 460.9L1792.0 460.6L1794.0 460.3L1796.0 460.0L1798.0 459.7L1800.0 459.4L1802.0 459.1L1804.0 458.7L1806.0 458.4L1808.0 458.1L1810.0 457.8L1812.0 457.5L1814.0 457.1L1816.0 456.8L1818.0 456.5L1820.0 456.1L1822.0 455.8L1824.0 455.5L1826.0 455.1L1828.0 454.8L1830.0 454.5L1832.0 454.1L1834.0 453.8L1836.0 453.4L1838.0 453.1L1840.0 452.7L1842.0 452.4L1844.0 452.0L1846.0 451.7L1848.0 451.3L1850.0 450.9L1852.0 450.6L1854.0 450.2L1856.0 449.8L1858.0 449.5L1860.0 449.1L1862.0 448.7L1864.0 448.4L1866.0 448.0L1868.0 447.6L1870.0 447.2L1872.0 446.8L1874.0 446.4L1876.0 446.1L1878.0 445.7L1880.0 445.3L1882.0 444.9L1884.0 444.5L1886.0 444.1L1888.0 443.7L1890.0 443.3L1892.0 442.9L1894.0 442.5L1896.0 442.1L1898.0 441.7L1900.0 441.2L1902.0 440.8L1904.0 440.4L1906.0 440.0L1908.0 439.6L1910.0 439.2L1912.0 438.7L1914.0 438.3L1916.0 437.9L1918.0 437.4L1920.0 437.0L1922.0 436.6L1924.0 436.1L1926.0 435.7L1928.0 435.2L1930.0 434.8L1932.0 434.4L1934.0 433.9L1936.0 433.4L1938.0 433.0L1940.0 432.5L1942.0 432.1L1944.0 431.6L1946.0 431.2L1948.0 430.7L1950.0 430.2L1952.0 429.7L1954.0 429.3L1956.0 428.8L1958.0 428.3L1960.0 427.8L1962.0 427.4L1964.0 426.9L1966.0 426.4L1968.0 425.9L1970.0 425.4L1972.0 424.9L1974.0 424.4L1976.0 423.9L1978.0 423.4L1980.0 422.9L1982.0 422.4" stroke="#00ff00" stroke-width="8.4"/>
<path d="M296.0 497.3L298.0 497.3L300.0 497.3L302.0 497.3L304.0 497.3L306.0 497.3L308.0 497.3L310.0 497.3L312.0 497.3L314.0 497.3L316.0 497.4L318.0 497.4L320.0 497.4L322.0 497.4L324.0 497.4L326.0 497.4L328.0 497.4L330.0 497.4L332.0 497.4L334.0 497.4L336.0 497.4L338.0 497.4L340.0 497.4L342.0 497.4L344.0 497.4L346.0 497.4L348.0 497.4L350.0 497.4L352.0 497.4L354.0 497.4L356.0 497.4L358.0 497.4L360.0 497.4L362.0 497.4L364.0 497.4L366.0 497.4L368.0 497.4L370.0 497.4L372.0 497.4L374.0 497.4L376.0 497.5L378.0 497.5L380.0 497.5L382.0 497.5L384.0 497.5L386.0 497.5L388.0 497.5L390.0 497.5L392.0 497.5L394.0 497.5L396.0 497.5L398.0 497.5L400.0 497.5L402.0 497.5L404.0 497.5L406.0 497.5L408.0 497.5L410.0 497.5L412.0 497.5L414.0 497.5L416.0 497.5L418.0 497.5L420.0 497.5L422.0 497.5L424.0 497.5L426.0 497.5L428.0 497.6L430.0 497.6L432.0 497.6L434.0 497.6L436.0 497.6L438.0 497.6L440.0 497.6L442.0 497.6L444.0 497.6L446.0 497.6L448.0 497.6L450.0 497.6L452.0 497.6L454.0 497.6L456.0 497.6L458.0 497.6L460.0 497.6L462.0 497.6L464.0 497.6L466.0 497.6L468.0 497.6L470.0 497.6L472.0 497.6L474.0 497.7L476.0 497.7L478.0 497.7L480.0 497.7L482.0 497.7L484.0 497.7L486.0 497.7L488.0 497.7L490.0 497.7L492.0 497.7L494.0 497.7L496.0 497.7L498.0 497.7L500.0 497.7L502.0 497.7L504.0 497.7L506.0 497.7L508.0 497.7L510.0 497.7L512.0 497.7L514.0 497.8L516.0 497.8L518.0 497.8L520.0 497.8L522.0 497.8L524.0 497.8L526.0 497.8L528.0 497.8L530.0 497.8L532.0 497.8L534.0 497.8L536.0 497.8L538.0 497.8L540.0 497.8L542.0 497.8L544.0 497.8L546.0 497.8L548.0 497.8L550.0 497.9L552.0 497.9L554.0 497.9L556.0 497.9L558.0 497.9L560.0 497.9L562.0 497.9L564.0 497.9L566.0 497.9L568.0 497.9L570.0 497.9L572.0 497.9L574.0 497.9L576.0 497.9L578.0 497.9L580.0 497.9L582.0 498.0L584.0 498.0L586.0 498.0L588.0 498.0L590.0 498.0L592.0 498.0L594.0 498.0L596.0 498.0L598.0 498.0L600.0 498.0L602.0 498.0L604.0 498.0L606.0 498.0L608.0 498.0L610.0 498.0L612.0 498.0L614.0 498.1L616.0 498.1L618.0 498.1L620.0 498.1L622.0 498.1L624.0 498.1L626.0 498.1L628.0 498.1L630.0 498.1L632.0 498.1L634.0 498.1L636.0 498.1L638.0 498.1L640.0 498.1L642.0 498.1L644.0 498.2L646.0 498.2L648.0 498.2L650.0 498.2L652.0 498.2L654.0 498.2L656.0 498.2L658.0 498.2L660.0 498.2L662.0 498.2L664.0 498.2L666.0 498.2L668.0 498.2L670.0 498.2L672.0 498.3L674.0 498.3L676.0 498.3L678.0 498.3L680.0 498.3L682.0 498.3L684.0 498.3L686.0 498.3L688.0 498.3L690.0 498.3L692.0 498.3L694.0 498.3L696.0 498.3L698.0 498.4L700.0 498.4L702.0 498.4L704.0 498.4L706.0 498.4L708.0 498.4L710.0 498.4L712.0 498.4L714.0 498.4L716.0 498.4L718.0 498.4L720.0 498.4L722.0 498.4L724.0 498.4L726.0 498.5L728.0 498.5L730.0 498.5L732.0 498.5L734.0 498.5L736.0 498.5L738.0 498.5L740.0 498.5L742.0 498.5L744.0 498.5L746.0 498.5L748.0 498.5L750.0 498.5L752.0 498.6L754.0 498.6L756.0 498.6L758.0 498.6L760.0 498.6L762.0 498.6L764.0 498.6L766.0 498.6L768.0 498.6L770.0 498.6L772.0 498.6L774.0 498.6L776.0 498.6L778.0 498.6L780.0 498.7L782.0 498.7L784.0 498.7L786.0 498.7L788.0 498.7L790.0 498.7L792.0 498.7L794.0 498.7L796.0 498.7L798.0 498.7L800.0 498.7L802.0 498.7L804.0 498.7L806.0 498.8L808.0 498.8L810.0 498.8L812.0 498.8L814.0 498.8L816.0 498.8L818.0 498.8L820.0 498.8L822.0 498.8L824.0 498.8L826.0 498.8L828.0 498.8L830.0 498.8L832.0 498.8L834.0 498.9L836.0 498.9L838.0 498.9L840.0 498.9L842.0 498.9L844.0 498.9L846.0 498.9L848.0 498.9L850.0 498.9L852.0 498.9L854.0 498.9L856.0 498.9L858.0 498.9L860.0 498.9L862.0 498.9L864.0 499.0L866.0 499.0L868.0 499.0L870.0 499.0L872.0 499.0L874.0 499.0L876.0 499.0L878.0 499.0L880.0 499.0L882.0 499.0L884.0 499.0L886.0 499.0L888.0 499.0L890.0 499.0L892.0 499.0L894.0 499.1L896.0 499.1L898.0 499.1L900.0 499.1L902.0 499.1L904.0 499.1L906.0 499.1L908.0 499.1L910.0 499.1L912.0 499.1L914.0 499.1L916.0 499.1L918.0 499.1L920.0 499.1L922.0 499.1L924.0 499.1L926.0 499.1L928.0 499.1L930.0 499.2L932.0 499.2L934.0 499.2L936.0 499.2L938.0 499.2L940.0 499.2L942.0 499.2L944.0 499.2L946.0 499.2L948.0 499.2L950.0 499.2L952.0 499.2L954.0 499.2L956.0 499.2L958.0 499.2L960.0 499.2L962.0 499.2L964.0 499.2L966.0 499.2L968.0 499.2L970.0 499.2L972.0 499.3L974.0 499.3L976.0 499.3L978.0 499.3L980.0 499.3L982.0 499.3L984.0 499.3L986.0 499.3L988.0 499.3L990.0 499.3L992.0 499.3L994.0 499.3L996.0 499.3L998.0 499.3L1000.0 499.3L1002.0 499.3L1004.0 499.3L1006.0 499.3L1008.0 499.3L1010.0 499.3L1012.0 499.3L1014.0 499.3L1016.0 499.3L1018.0 499.3L1020.0 499.3L1022.0 499.3L1024.0 499.3L1026.0 499.3L1028.0 499.3L1030.0 499.3L1032.0 499.3L1034.0 499.3L1036.0 499.4L1038.0 499.4L1040.0 499.4L1042.0 499.4L1044.0 499.4L1046.0 499.4L1048.0 499.4L1050.0 499.4L1052.0 499.4L1054.0 499.4L1056.0 499.4L1058.0 499.4L1060.0 499.4L1062.0 499.4L1064.0 499.4L1066.0 499.4L1068.0 499.4L1070.0 499.4L1072.0 499.4L1074.0 499.4L1076.0 499.4L1078.0 499.4L1080.0 499.4L1082.0 499.4L1084.0 499.4L1086.0 499.4L1088.0 499.4L1090.0 499.4L1092.0 499.4L1094.0 499.4L1096.0 499.4L1098.0 499.4L1100.0 499.4L1102.0 499.4L1104.0 499.4L1106.0 499.4L1108.0 499.4L1110.0 499.4L1112.0 499.3L1114.0 499.3L1116.0 499.3L1118.0 499.3L1120.0 499.3L1122.0 499.3L1124.0 499.3L1126.0 499.3L1128.0 499.3L1130.0 499.3L1132.0 499.3L1134.0 499.3L1136.0 499.3L1138.0 499.3L1140.0 499.3L1142.0 499.3L1144.0 499.3L1146.0 499.3L1148.0 499.3L1150.0 499.3L1152.0 499.3L1154.0 499.3L1156.0 499.3L1158.0 499.3L1160.0 499.3L1162.0 499.3L1164.0 499.3L1166.0 499.2L1168.0 499.2L1170.0 499.2L1172.0 499.2L1174.0 499.2L1176.0 499.2L1178.0 499.2L1180.0 499.2L1182.0 499.2L1184.0 499.2L1186.0 499.2L1188.0 499.2L1190.0 499.2L1192.0 499.2L1194.0 499.2L1196.0 499.1L1198.0 499.1L1200.0 499.1L1202.0 499.1L1204.0 499.1L1206.0 499.1L1208.0 499.1L1210.0 499.1L1212.0 499.1L1214.0 499.1L1216.0 499.1L1218.0 499.1L1220.0 499.0L1222.0 499.0L1224.0 499.0L1226.0 499.0L1228.0 499.0L1230.0 499.0L1232.0 499.0L1234.0 499.0L1236.0 499.0L1238.0 499.0L1240.0 498.9L1242.0 498.9L1244.0 498.9L1246.0 498.9L1248.0 498.9L1250.0 498.9L1252.0 498.9L1254.0 498.9L1256.0 498.8L1258.0 498.8L1260.0 498.8L1262.0 498.8L1264.0 498.8L1266.0 498.8L1268.0 498.8L1270.0 498.8L1272.0 498.7L1274.0 498.7L1276.0 498.7L1278.0 498.7L1280.0 498.7L1282.0 498.7L1284.0 498.6L1286.0 498.6L1288.0 498.6L1290.0 498.6L1292.0 498.6L1294.0 498.6L1296.0 498.6L1298.0 498.5L1300.0 498.5L1302.0 498.5L1304.0 498.5L1306.0 498.5L1308.0 498.5L1310.0 498.4L1312.0 498.4L1314.0 498.4L1316.0 498.4L1318.0 498.4L1320.0 498.3L1322.0 498.3L1324.0 498.3L1326.0 498.3L1328.0 498.3L1330.0 498.2L1332.0 498.2L1334.0 498.2L1336.0 498.2L1338.0 498.2L1340.0 498.1L1342.0 498.1L1344.0 498.1L1346.0 498.1L1348.0 498.1L1350.0 498.0L1352.0 498.0L1354.0 498.0L1356.0 498.0L1358.0 497.9L1360.0 497.9L1362.0 497.9L1364.0 497.9L1366.0 497.8L1368.0 497.8L1370.0 497.8L1372.0 497.8L1374.0 497.7L1376.0 497.7L1378.0 497.7L1380.0 497.7L1382.0 497.6L1384.0 497.6L1386.0 497.6L1388.0 497.6L1390.0 497.5L1392.0 497.5L1394.0 497.5L1396.0 497.4L1398.0 497.4L1400.0 497.4L1402.0 497.4L1404.0 497.3L1406.0 497.3L1408.0 497.3L1410.0 497.2L1412.0 497.2L1414.0 497.2L1416.0 497.2L1418.0 497.1L1420.0 497.1L1422.0 497.1L1424.0 497.0L1426.0 497.0L1428.0 497.0L1430.0 496.9L1432.0 496.9L1434.0 496.9L1436.0 496.8L1438.0 496.8L1440.0 496.8L1442.0 496.7L1444.0 496.7L1446.0 496.7L1448.0 496.6L1450.0 496.6L1452.0 496.6L1454.0 496.5L1456.0 496.5L1458.0 496.4L1460.0 496.4L1462.0 496.4L1464.0 496.3L1466.0 496.3L1468.0 496.3L1470.0 496.2L1472.0 496.2L1474.0 496.1L1476.0 496.1L1478.0 496.1L1480.0 496.0L1482.0 496.0L1484.0 495.9L1486.0 495.9L1488.0 495.9L1490.0 495.8L1492.0 495.8L1494.0 495.7L1496.0 495.7L1498.0 495.6L1500.0 495.6L1502.0 495.6L1504.0 495.5L1506.0 495.5L1508.0 495.4L1510.0 495.4L1512.0 495.3L1514.0 495.3L1516.0 495.2L1518.0 495.2L1520.0 495.1L1522.0 495.1L1524.0 495.0L1526.0 495.0L1528.0 495.0L1530.0 494.9L1532.0 494.9L1534.0 494.8L1536.0 494.8L1538.0 494.7L1540.0 494.7L1542.0 494.6L1544.0 494.6L1546.0 494.5L1548.0 494.4L1550.0 494.4L1552.0 494.3L1554.0 494.3L1556.0 494.2L1558.0 494.2L1560.0 494.1L1562.0 494.1L1564.0 494.0L1566.0 494.0L1568.0 493.9L1570.0 493.9L1572.0 493.8L1574.0 493.7L1576.0 493.7L1578.0 493.6L1580.0 493.6L1582.0 493.5L1584.0 493.4L1586.0 493.4L1588.0 493.3L1590.0 493.3L1592.0 493.2L1594.0 493.1L1596.0 493.1L1598.0 493.0L1600.0 493.0L1602.0 492.9L1604.0 492.8L1606.0 492.8L1608.0 492.7L1610.0 492.6L1612.0 492.6L1614.0 492.5L1616.0 492.4L1618.0 492.4L1620.0 492.3L1622.0 492.2L1624.0 492.2L1626.0 492.1L1628.0 492.0L1630.0 492.0L1632.0 491.9L1634.0 491.8L1636.0 491.8L1638.0 491.7L1640.0 491.6L1642.0 491.5L1644.0 491.5L1646.0 491.4L1648.0 491.3L1650.0 491.3L1652.0 491.2L1654.0 491.1L1656.0 491.0L1658.0 491.0L1660.0 490.9L1662.0 490.8L1664.0 490.7L1666.0 490.6L1668.0 490.6L1670.0 490.5L1672.0 490.4L1674.0 490.3L1676.0 490.2L1678.0 490.2L1680.0 490.1L1682.0 490.0L1684.0 489.9L1686.0 489.8L1688.0 489.8L1690.0 489.7L1692.0 489.6L1694.0 489.5L1696.0 489.4L1698.0 489.3L1700.0 489.2L1702.0 489.2L1704.0 489.1L1706.0 489.0L1708.0 488.9L1710.0 488.8L1712.0 488.7L1714.0 488.6L1716.0 488.5L1718.0 488.4L1720.0 488.4L1722.0 488.3L1724.0 488.2L1726.0 488.1L1728.0 488.0L1730.0 487.9L1732.0 487.8L1734.0 487.7L1736.0 487.6L1738.0 487.5L1740.0 487.4L1742.0 487.3L1744.0 487.2L1746.0 487.1L1748.0 487.0L1750.0 486.9L1752.0 486.8L1754.0 486.7L1756.0 486.6L1758.0 486.5L1760.0 486.4L1762.0 486.3L1764.0 486.2L1766.0 486.1L1768.0 486.0L1770.0 485.9L1772.0 485.8L1774.0 485.7L1776.0 485.5L1778.0 485.4L1780.0 485.3L1782.0 485.2L1784.0 485.1L1786.0 485.0L1788.0 484.9L1790.0 484.8L1792.0 484.7L1794.0 484.5L1796.0 484.4L1798.0 484.3L1800.0 484.2L1802.0 484.1L1804.0 484.0L1806.0 483.8L1808.0 483.7L1810.0 483.6L1812.0 483.5L1814.0 483.4L1816.0 483.2L1818.0 483.1L1820.0 483.0L1822.0 482.9L1824.0 482.7L1826.0 482.6L1828.0 482.5L1830.0 482.4L1832.0 482.2L1834.0 482.1L1836.0 482.0L1838.0 481.9L1840.0 481.7L1842.0 481.6L1844.0 481.5L1846.0 481.3L1848.0 481.2L1850.0 481.1L1852.0 480.9L1854.0 480.8L1856.0 480.7L1858.0 480.5L1860.0 480.4L1862.0 480.2L1864.0 480.1L1866.0 480.0L1868.0 479.8L1870.0 479.7L1872.0 479.5L1874.0 479.4L1876.0 479.2L1878.0 479.1L1880.0 479.0L1882.0 478.8L1884.0 478.7L1886.0 478.5L1888.0 478.4L1890.0 478.2L1892.0 478.1L1894.0 477.9L1896.0 477.8L1898.0 477.6L1900.0 477.5L1902.0 477.3L1904.0 477.1L1906.0 477.0L1908.0 476.8L1910.0 476.7L1912.0 476.5L1914.0 476.4L1916.0 476.2L1918.0 476.0L1920.0 475.9L1922.0 475.7L1924.0 475.5L1926.0 475.4L1928.0 475.2L1930.0 475.0L1932.0 474.9L1934.0 474.7L1936.0 474.5L1938.0 474.4L1940.0 474.2L1942.0 474.0L1944.0 473.9L1946.0 473.7L1948.0 473.5L1950.0 473.3L1952.0 473.2L1954.0 473.0L1956.0 472.8L1958.0 472.6L1960.0 472.4L1962.0 472.3L1964.0 472.1L1966.0 471.9L1968.0 471.7L1970.0 471.5L1972.0 471.3L1974.0 471.1L1976.0 471.0L1978.0 470.8L1980.0 470.6L1982.0 470.4" stroke="#ff00ff" stroke-width="8.4"/>
</g>
<clipPath id="clipb"><rect x="298.5" y="650.3" width="1679.0" height="419.0"/></clipPath>
<g clip-path="url(#clipb)" fill="none" stroke-linejoin="round" stroke-linecap="round">
<path d="M715.0 571.1L717.0 580.6L719.0 590.0L721.0 599.3L723.0 608.5L725.0 617.7L727.0 626.8L729.0 635.7L731.0 644.6L733.0 653.4L735.0 662.2L737.0 670.8L739.0 679.3L741.0 687.8L743.0 696.1L745.0 704.4L747.0 712.6L749.0 720.7L751.0 728.7L753.0 736.6L755.0 744.5L757.0 752.2L759.0 759.9L761.0 767.4L763.0 774.9L765.0 782.3L767.0 789.5L769.0 796.7L771.0 803.8L773.0 810.9L775.0 817.8L777.0 824.6L779.0 831.3L781.0 838.0L783.0 844.5L785.0 851.0L787.0 857.3L789.0 863.6L791.0 869.8L793.0 875.9L795.0 881.9L797.0 887.8L799.0 893.6L801.0 899.3L803.0 904.9L805.0 910.4L807.0 915.8L809.0 921.1L811.0 926.4L813.0 931.5L815.0 936.5L817.0 941.5L819.0 946.3L821.0 951.1L823.0 955.7L825.0 960.3L827.0 964.8L829.0 969.1L831.0 973.4L833.0 977.6L835.0 981.7L837.0 985.6L839.0 989.5L841.0 993.3L843.0 997.0L845.0 1000.6L847.0 1004.1L849.0 1007.5L851.0 1010.8L853.0 1013.9L855.0 1017.0L857.0 1020.0L859.0 1022.9L861.0 1025.8L863.0 1028.5L865.0 1031.1L867.0 1033.6L869.0 1036.0L871.0 1038.3L873.0 1040.5L875.0 1042.6L877.0 1044.6L879.0 1046.5L881.0 1048.4L883.0 1050.1L885.0 1051.7L887.0 1053.2L889.0 1054.6L891.0 1055.9L893.0 1057.1L895.0 1058.3L897.0 1059.3L899.0 1060.2L901.0 1061.0L903.0 1061.7L905.0 1062.3L907.0 1062.9L909.0 1063.3L911.0 1063.6L913.0 1063.8L915.0 1063.9L917.0 1063.9L919.0 1063.9L921.0 1063.7L923.0 1063.4L925.0 1063.0L927.0 1062.5L929.0 1061.9L931.0 1061.3L933.0 1060.5L935.0 1059.6L937.0 1058.6L939.0 1057.5L941.0 1056.3L943.0 1055.0L945.0 1053.7L947.0 1052.2L949.0 1050.6L951.0 1048.9L953.0 1047.1L955.0 1045.2L957.0 1043.2L959.0 1041.1L961.0 1038.9L963.0 1036.7L965.0 1034.3L967.0 1031.8L969.0 1029.2L971.0 1026.5L973.0 1023.7L975.0 1020.8L977.0 1017.8L979.0 1014.8L981.0 1011.6L983.0 1008.3L985.0 1004.9L987.0 1001.4L989.0 997.8L991.0 994.1L993.0 990.4L995.0 986.5L997.0 982.5L999.0 978.4L1001.0 974.2L1003.0 970.0L1005.0 965.6L1007.0 961.1L1009.0 956.5L1011.0 951.9L1013.0 947.1L1015.0 942.2L1017.0 937.3L1019.0 932.2L1021.0 927.0L1023.0 921.8L1025.0 916.4L1027.0 910.9L1029.0 905.4L1031.0 899.7L1033.0 894.0L1035.0 888.2L1037.0 882.2L1039.0 876.2L1041.0 870.0L1043.0 863.8L1045.0 857.5L1047.0 851.0L1049.0 844.5L1051.0 837.9L1053.0 831.2L1055.0 824.4L1057.0 817.5L1059.0 810.5L1061.0 803.4L1063.0 796.2L1065.0 788.9L1067.0 781.5L1069.0 774.1L1071.0 766.5L1073.0 758.8L1075.0 751.1L1077.0 743.2L1079.0 735.3L1081.0 727.2L1083.0 719.1L1085.0 710.9L1087.0 702.6L1089.0 694.2L1091.0 685.7L1093.0 677.1L1095.0 668.4L1097.0 659.6L1099.0 650.7L1101.0 641.8L1103.0 632.7L1105.0 623.6L1107.0 614.3L1109.0 605.0L1111.0 595.6L1113.0 586.1L1115.0 576.5" stroke="#ff0000" stroke-width="5.6"/>
<path d="M805.0 613.2L807.0 615.5L809.0 618.0L811.0 620.8L813.0 623.6L815.0 626.7L817.0 630.0L819.0 633.3L821.0 636.9L823.0 640.6L825.0 644.4L827.0 648.3L829.0 652.4L831.0 656.5L833.0 660.8L835.0 665.2L837.0 669.6L839.0 674.2L841.0 678.8L843.0 683.5L845.0 688.2L847.0 693.0L849.0 697.9L851.0 702.8L853.0 707.8L855.0 712.8L857.0 717.8L859.0 722.9L861.0 728.0L863.0 733.1L865.0 738.2L867.0 743.3L869.0 748.5L871.0 753.6L873.0 758.8L875.0 763.9L877.0 769.0L879.0 774.2L881.0 779.3L883.0 784.4L885.0 789.5L887.0 794.5L889.0 799.5L891.0 804.6L893.0 809.5L895.0 814.5L897.0 819.4L899.0 824.3L901.0 829.1L903.0 833.9L905.0 838.6L907.0 843.4L909.0 848.0L911.0 852.6L913.0 857.2L915.0 861.7L917.0 866.2L919.0 870.6L921.0 875.0L923.0 879.3L925.0 883.5L927.0 887.7L929.0 891.9L931.0 895.9L933.0 899.9L935.0 903.9L937.0 907.8L939.0 911.6L941.0 915.4L943.0 919.1L945.0 922.8L947.0 926.4L949.0 929.9L951.0 933.4L953.0 936.8L955.0 940.1L957.0 943.4L959.0 946.6L961.0 949.7L963.0 952.8L965.0 955.8L967.0 958.8L969.0 961.7L971.0 964.5L973.0 967.3L975.0 970.0L977.0 972.6L979.0 975.2L981.0 977.7L983.0 980.1L985.0 982.5L987.0 984.9L989.0 987.1L991.0 989.3L993.0 991.5L995.0 993.6L997.0 995.6L999.0 997.6L1001.0 999.5L1003.0 1001.3L1005.0 1003.1L1007.0 1004.9L1009.0 1006.5L1011.0 1008.2L1013.0 1009.7L1015.0 1011.3L1017.0 1012.7L1019.0 1014.1L1021.0 1015.5L1023.0 1016.8L1025.0 1018.0L1027.0 1019.2L1029.0 1020.3L1031.0 1021.4L1033.0 1022.5L1035.0 1023.4L1037.0 1024.4L1039.0 1025.3L1041.0 1026.1L1043.0 1026.9L1045.0 1027.6L1047.0 1028.3L1049.0 1029.0L1051.0 1029.6L1053.0 1030.1L1055.0 1030.6L1057.0 1031.1L1059.0 1031.5L1061.0 1031.8L1063.0 1032.2L1065.0 1032.4L1067.0 1032.6L1069.0 1032.8L1071.0 1033.0L1073.0 1033.1L1075.0 1033.1L1077.0 1033.1L1079.0 1033.1L1081.0 1033.0L1083.0 1032.9L1085.0 1032.7L1087.0 1032.5L1089.0 1032.2L1091.0 1031.9L1093.0 1031.6L1095.0 1031.2L1097.0 1030.8L1099.0 1030.3L1101.0 1029.8L1103.0 1029.2L1105.0 1028.6L1107.0 1028.0L1109.0 1027.3L1111.0 1026.5L1113.0 1025.8L1115.0 1024.9L1117.0 1024.1L1119.0 1023.2L1121.0 1022.2L1123.0 1021.2L1125.0 1020.2L1127.0 1019.1L1129.0 1017.9L1131.0 1016.7L1133.0 1015.5L1135.0 1014.2L1137.0 1012.9L1139.0 1011.5L1141.0 1010.1L1143.0 1008.6L1145.0 1007.1L1147.0 1005.6L1149.0 1003.9L1151.0 1002.3L1153.0 1000.6L1155.0 998.8L1157.0 997.0L1159.0 995.1L1161.0 993.2L1163.0 991.2L1165.0 989.2L1167.0 987.1L1169.0 985.0L1171.0 982.8L1173.0 980.6L1175.0 978.3L1177.0 975.9L1179.0 973.5L1181.0 971.0L1183.0 968.5L1185.0 965.9L1187.0 963.3L1189.0 960.6L1191.0 957.9L1193.0 955.0L1195.0 952.2L1197.0 949.2L1199.0 946.2L1201.0 943.2L1203.0 940.1L1205.0 936.9L1207.0 933.7L1209.0 930.4L1211.0 927.0L1213.0 923.6L1215.0 920.1L1217.0 916.6L1219.0 913.0L1221.0 909.3L1223.0 905.5L1225.0 901.7L1227.0 897.9L1229.0 894.0L1231.0 890.0L1233.0 885.9L1235.0 881.8L1237.0 877.6L1239.0 873.4L1241.0 869.1L1243.0 864.7L1245.0 860.3L1247.0 855.8L1249.0 851.3L1251.0 846.7L1253.0 842.0L1255.0 837.3L1257.0 832.5L1259.0 827.7L1261.0 822.8L1263.0 817.9L1265.0 812.9L1267.0 807.8L1269.0 802.7L1271.0 797.5L1273.0 792.3L1275.0 787.1L1277.0 781.8L1279.0 776.4L1281.0 771.0L1283.0 765.6L1285.0 760.1L1287.0 754.6L1289.0 749.1L1291.0 743.5L1293.0 737.9L1295.0 732.3L1297.0 726.6L1299.0 720.9L1301.0 715.2L1303.0 709.4L1305.0 703.7L1307.0 697.9L1309.0 692.2L1311.0 686.4L1313.0 680.6L1315.0 674.8L1317.0 669.0L1319.0 663.3L1321.0 657.5L1323.0 651.7L1325.0 646.0L1327.0 640.3L1329.0 634.6L1331.0 629.0L1333.0 623.4L1335.0 617.8L1337.0 612.3L1339.0 606.9L1341.0 601.5" stroke="#0000ff" stroke-width="8.4"/>
<path d="M745.0 606.5L747.0 609.9L749.0 613.4L751.0 616.8L753.0 620.2L755.0 623.6L757.0 627.0L759.0 630.4L761.0 633.8L763.0 637.1L765.0 640.5L767.0 643.8L769.0 647.1L771.0 650.5L773.0 653.8L775.0 657.0L777.0 660.3L779.0 663.6L781.0 666.8L783.0 670.1L785.0 673.3L787.0 676.5L789.0 679.7L791.0 682.9L793.0 686.1L795.0 689.3L797.0 692.4L799.0 695.6L801.0 698.7L803.0 701.8L805.0 704.9L807.0 708.0L809.0 711.1L811.0 714.1L813.0 717.2L815.0 720.2L817.0 723.3L819.0 726.3L821.0 729.3L823.0 732.3L825.0 735.3L827.0 738.2L829.0 741.2L831.0 744.1L833.0 747.0L835.0 749.9L837.0 752.8L839.0 755.7L841.0 758.6L843.0 761.4L845.0 764.3L847.0 767.1L849.0 769.9L851.0 772.7L853.0 775.5L855.0 778.3L857.0 781.1L859.0 783.8L861.0 786.5L863.0 789.3L865.0 792.0L867.0 794.7L869.0 797.3L871.0 800.0L873.0 802.7L875.0 805.3L877.0 807.9L879.0 810.5L881.0 813.1L883.0 815.7L885.0 818.3L887.0 820.8L889.0 823.4L891.0 825.9L893.0 828.4L895.0 830.9L897.0 833.4L899.0 835.8L901.0 838.3L903.0 840.7L905.0 843.1L907.0 845.6L909.0 847.9L911.0 850.3L913.0 852.7L915.0 855.0L917.0 857.4L919.0 859.7L921.0 862.0L923.0 864.3L925.0 866.6L927.0 868.8L929.0 871.1L931.0 873.3L933.0 875.5L935.0 877.7L937.0 879.9L939.0 882.1L941.0 884.3L943.0 886.4L945.0 888.5L947.0 890.7L949.0 892.8L951.0 894.8L953.0 896.9L955.0 899.0L957.0 901.0L959.0 903.0L961.0 905.0L963.0 907.0L965.0 909.0L967.0 911.0L969.0 912.9L971.0 914.8L973.0 916.8L975.0 918.7L977.0 920.6L979.0 922.4L981.0 924.3L983.0 926.1L985.0 927.9L987.0 929.8L989.0 931.5L991.0 933.3L993.0 935.1L995.0 936.8L997.0 938.6L999.0 940.3L1001.0 942.0L1003.0 943.7L1005.0 945.3L1007.0 947.0L1009.0 948.6L1011.0 950.3L1013.0 951.9L1015.0 953.5L1017.0 955.0L1019.0 956.6L1021.0 958.1L1023.0 959.7L1025.0 961.2L1027.0 962.7L1029.0 964.2L1031.0 965.6L1033.0 967.1L1035.0 968.5L1037.0 969.9L1039.0 971.3L1041.0 972.7L1043.0 974.1L1045.0 975.5L1047.0 976.8L1049.0 978.1L1051.0 979.4L1053.0 980.7L1055.0 982.0L1057.0 983.3L1059.0 984.5L1061.0 985.7L1063.0 987.0L1065.0 988.1L1067.0 989.3L1069.0 990.5L1071.0 991.6L1073.0 992.8L1075.0 993.9L1077.0 995.0L1079.0 996.1L1081.0 997.1L1083.0 998.2L1085.0 999.2L1087.0 1000.3L1089.0 1001.3L1091.0 1002.2L1093.0 1003.2L1095.0 1004.2L1097.0 1005.1L1099.0 1006.0L1101.0 1006.9L1103.0 1007.8L1105.0 1008.7L1107.0 1009.6L1109.0 1010.4L1111.0 1011.2L1113.0 1012.0L1115.0 1012.8L1117.0 1013.6L1119.0 1014.4L1121.0 1015.1L1123.0 1015.9L1125.0 1016.6L1127.0 1017.3L1129.0 1017.9L1131.0 1018.6L1133.0 1019.3L1135.0 1019.9L1137.0 1020.5L1139.0 1021.1L1141.0 1021.7L1143.0 1022.3L1145.0 1022.8L1147.0 1023.3L1149.0 1023.9L1151.0 1024.4L1153.0 1024.8L1155.0 1025.3L1157.0 1025.8L1159.0 1026.2L1161.0 1026.6L1163.0 1027.0L1165.0 1027.4L1167.0 1027.8L1169.0 1028.1L1171.0 1028.5L1173.0 1028.8L1175.0 1029.1L1177.0 1029.4L1179.0 1029.7L1181.0 1029.9L1183.0 1030.1L1185.0 1030.4L1187.0 1030.6L1189.0 1030.8L1191.0 1030.9L1193.0 1031.1L1195.0 1031.2L1197.0 1031.4L1199.0 1031.5L1201.0 1031.6L1203.0 1031.6L1205.0 1031.7L1207.0 1031.7L1209.0 1031.8L1211.0 1031.8L1213.0 1031.8L1215.0 1031.7L1217.0 1031.7L1219.0 1031.6L1221.0 1031.6L1223.0 1031.5L1225.0 1031.4L1227.0 1031.2L1229.0 1031.1L1231.0 1030.9L1233.0 1030.8L1235.0 1030.6L1237.0 1030.4L1239.0 1030.2L1241.0 1029.9L1243.0 1029.7L1245.0 1029.4L1247.0 1029.1L1249.0 1028.8L1251.0 1028.5L1253.0 1028.1L1255.0 1027.8L1257.0 1027.4L1259.0 1027.0L1261.0 1026.6L1263.0 1026.2L1265.0 1025.8L1267.0 1025.3L1269.0 1024.8L1271.0 1024.3L1273.0 1023.8L1275.0 1023.3L1277.0 1022.8L1279.0 1022.2L1281.0 1021.7L1283.0 1021.1L1285.0 1020.5L1287.0 1019.8L1289.0 1019.2L1291.0 1018.6L1293.0 1017.9L1295.0 1017.2L1297.0 1016.5L1299.0 1015.8L1301.0 1015.0L1303.0 1014.3L1305.0 1013.5L1307.0 1012.7L1309.0 1011.9L1311.0 1011.1L1313.0 1010.3L1315.0 1009.4L1317.0 1008.6L1319.0 1007.7L1321.0 1006.8L1323.0 1005.8L1325.0 1004.9L1327.0 1004.0L1329.0 1003.0L1331.0 1002.0L1333.0 1001.0L1335.0 1000.0L1337.0 998.9L1339.0 997.9L1341.0 996.8L1343.0 995.7L1345.0 994.6L1347.0 993.5L1349.0 992.4L1351.0 991.2L1353.0 990.0L1355.0 988.9L1357.0 987.7L1359.0 986.4L1361.0 985.2L1363.0 983.9L1365.0 982.7L1367.0 981.4L1369.0 980.1L1371.0 978.8L1373.0 977.4L1375.0 976.1L1377.0 974.7L1379.0 973.3L1381.0 971.9L1383.0 970.5L1385.0 969.0L1387.0 967.6L1389.0 966.1L1391.0 964.6L1393.0 963.1L1395.0 961.6L1397.0 960.1L1399.0 958.5L1401.0 956.9L1403.0 955.3L1405.0 953.7L1407.0 952.1L1409.0 950.5L1411.0 948.8L1413.0 947.1L1415.0 945.4L1417.0 943.7L1419.0 942.0L1421.0 940.3L1423.0 938.5L1425.0 936.7L1427.0 934.9L1429.0 933.1L1431.0 931.3L1433.0 929.5L1435.0 927.6L1437.0 925.7L1439.0 923.8L1441.0 921.9L1443.0 920.0L1445.0 918.0L1447.0 916.1L1449.0 914.1L1451.0 912.1L1453.0 910.1L1455.0 908.1L1457.0 906.0L1459.0 903.9L1461.0 901.9L1463.0 899.8L1465.0 897.6L1467.0 895.5L1469.0 893.4L1471.0 891.2L1473.0 889.0L1475.0 886.8L1477.0 884.6L1479.0 882.3L1481.0 880.1L1483.0 877.8L1485.0 875.5L1487.0 873.2L1489.0 870.9L1491.0 868.6L1493.0 866.2L1495.0 863.8L1497.0 861.4L1499.0 859.0L1501.0 856.6L1503.0 854.1L1505.0 851.7L1507.0 849.2L1509.0 846.7L1511.0 844.2L1513.0 841.7L1515.0 839.1L1517.0 836.5L1519.0 834.0L1521.0 831.4L1523.0 828.7L1525.0 826.1L1527.0 823.5L1529.0 820.8L1531.0 818.1L1533.0 815.4L1535.0 812.7L1537.0 809.9L1539.0 807.2L1541.0 804.4L1543.0 801.6L1545.0 798.8L1547.0 795.9L1549.0 793.1L1551.0 790.2L1553.0 787.3L1555.0 784.4L1557.0 781.5L1559.0 778.6L1561.0 775.6L1563.0 772.7L1565.0 769.7L1567.0 766.7L1569.0 763.6L1571.0 760.6L1573.0 757.5L1575.0 754.4L1577.0 751.3L1579.0 748.2L1581.0 745.1L1583.0 741.9L1585.0 738.8L1587.0 735.6L1589.0 732.4L1591.0 729.2L1593.0 725.9L1595.0 722.6L1597.0 719.4L1599.0 716.1L1601.0 712.8L1603.0 709.4L1605.0 706.1L1607.0 702.7L1609.0 699.3L1611.0 695.9L1613.0 692.5L1615.0 689.0L1617.0 685.6L1619.0 682.1L1621.0 678.6L1623.0 675.1L1625.0 671.5L1627.0 668.0L1629.0 664.4L1631.0 660.8L1633.0 657.2L1635.0 653.5L1637.0 649.9L1639.0 646.2L1641.0 642.5L1643.0 638.8L1645.0 635.1L1647.0 631.4L1649.0 627.6L1651.0 623.8L1653.0 620.0L1655.0 616.2L1657.0 612.4L1659.0 608.5L1661.0 604.6" stroke="#00ff00" stroke-width="8.4"/>
<path d="M395.0 630.5L397.0 632.0L399.0 633.5L401.0 635.0L403.0 636.5L405.0 638.0L407.0 639.5L409.0 641.0L411.0 642.5L413.0 644.0L415.0 645.5L417.0 647.1L419.0 648.6L421.0 650.1L423.0 651.6L425.0 653.1L427.0 654.6L429.0 656.1L431.0 657.6L433.0 659.1L435.0 660.6L437.0 662.1L439.0 663.7L441.0 665.2L443.0 666.7L445.0 668.2L447.0 669.7L449.0 671.2L451.0 672.7L453.0 674.2L455.0 675.7L457.0 677.2L459.0 678.7L461.0 680.2L463.0 681.7L465.0 683.2L467.0 684.7L469.0 686.2L471.0 687.7L473.0 689.2L475.0 690.7L477.0 692.2L479.0 693.7L481.0 695.2L483.0 696.7L485.0 698.1L487.0 699.6L489.0 701.1L491.0 702.6L493.0 704.1L495.0 705.6L497.0 707.0L499.0 708.5L501.0 710.0L503.0 711.5L505.0 712.9L507.0 714.4L509.0 715.9L511.0 717.3L513.0 718.8L515.0 720.3L517.0 721.7L519.0 723.2L521.0 724.7L523.0 726.1L525.0 727.6L527.0 729.0L529.0 730.5L531.0 731.9L533.0 733.4L535.0 734.8L537.0 736.2L539.0 737.7L541.0 739.1L543.0 740.5L545.0 742.0L547.0 743.4L549.0 744.8L551.0 746.3L553.0 747.7L555.0 749.1L557.0 750.5L559.0 751.9L561.0 753.3L563.0 754.8L565.0 756.2L567.0 757.6L569.0 759.0L571.0 760.4L573.0 761.8L575.0 763.2L577.0 764.6L579.0 765.9L581.0 767.3L583.0 768.7L585.0 770.1L587.0 771.5L589.0 772.8L591.0 774.2L593.0 775.6L595.0 777.0L597.0 778.3L599.0 779.7L601.0 781.0L603.0 782.4L605.0 783.7L607.0 785.1L609.0 786.4L611.0 787.8L613.0 789.1L615.0 790.5L617.0 791.8L619.0 793.1L621.0 794.5L623.0 795.8L625.0 797.1L627.0 798.4L629.0 799.7L631.0 801.1L633.0 802.4L635.0 803.7L637.0 805.0L639.0 806.3L641.0 807.6L643.0 808.9L645.0 810.2L647.0 811.5L649.0 812.7L651.0 814.0L653.0 815.3L655.0 816.6L657.0 817.9L659.0 819.1L661.0 820.4L663.0 821.7L665.0 822.9L667.0 824.2L669.0 825.4L671.0 826.7L673.0 827.9L675.0 829.2L677.0 830.4L679.0 831.6L681.0 832.9L683.0 834.1L685.0 835.3L687.0 836.6L689.0 837.8L691.0 839.0L693.0 840.2L695.0 841.4L697.0 842.6L699.0 843.8L701.0 845.0L703.0 846.2L705.0 847.4L707.0 848.6L709.0 849.8L711.0 851.0L713.0 852.2L715.0 853.4L717.0 854.5L719.0 855.7L721.0 856.9L723.0 858.0L725.0 859.2L727.0 860.4L729.0 861.5L731.0 862.7L733.0 863.8L735.0 865.0L737.0 866.1L739.0 867.2L741.0 868.4L743.0 869.5L745.0 870.6L747.0 871.8L749.0 872.9L751.0 874.0L753.0 875.1L755.0 876.2L757.0 877.3L759.0 878.4L761.0 879.5L763.0 880.6L765.0 881.7L767.0 882.8L769.0 883.9L771.0 885.0L773.0 886.1L775.0 887.2L777.0 888.2L779.0 889.3L781.0 890.4L783.0 891.4L785.0 892.5L787.0 893.5L789.0 894.6L791.0 895.7L793.0 896.7L795.0 897.7L797.0 898.8L799.0 899.8L801.0 900.9L803.0 901.9L805.0 902.9L807.0 903.9L809.0 905.0L811.0 906.0L813.0 907.0L815.0 908.0L817.0 909.0L819.0 910.0L821.0 911.0L823.0 912.0L825.0 913.0L827.0 914.0L829.0 915.0L831.0 916.0L833.0 916.9L835.0 917.9L837.0 918.9L839.0 919.9L841.0 920.8L843.0 921.8L845.0 922.7L847.0 923.7L849.0 924.7L851.0 925.6L853.0 926.5L855.0 927.5L857.0 928.4L859.0 929.4L861.0 930.3L863.0 931.2L865.0 932.2L867.0 933.1L869.0 934.0L871.0 934.9L873.0 935.8L875.0 936.7L877.0 937.6L879.0 938.5L881.0 939.4L883.0 940.3L885.0 941.2L887.0 942.1L889.0 943.0L891.0 943.9L893.0 944.8L895.0 945.7L897.0 946.5L899.0 947.4L901.0 948.3L903.0 949.1L905.0 950.0L907.0 950.8L909.0 951.7L911.0 952.5L913.0 953.4L915.0 954.2L917.0 955.1L919.0 955.9L921.0 956.7L923.0 957.6L925.0 958.4L927.0 959.2L929.0 960.1L931.0 960.9L933.0 961.7L935.0 962.5L937.0 963.3L939.0 964.1L941.0 964.9L943.0 965.7L945.0 966.5L947.0 967.3L949.0 968.1L951.0 968.9L953.0 969.6L955.0 970.4L957.0 971.2L959.0 972.0L961.0 972.7L963.0 973.5L965.0 974.3L967.0 975.0L969.0 975.8L971.0 976.5L973.0 977.3L975.0 978.0L977.0 978.7L979.0 979.5L981.0 980.2L983.0 981.0L985.0 981.7L987.0 982.4L989.0 983.1L991.0 983.8L993.0 984.6L995.0 985.3L997.0 986.0L999.0 986.7L1001.0 987.4L1003.0 988.1L1005.0 988.8L1007.0 989.5L1009.0 990.1L1011.0 990.8L1013.0 991.5L1015.0 992.2L1017.0 992.9L1019.0 993.5L1021.0 994.2L1023.0 994.9L1025.0 995.5L1027.0 996.2L1029.0 996.8L1031.0 997.5L1033.0 998.1L1035.0 998.8L1037.0 999.4L1039.0 1000.1L1041.0 1000.7L1043.0 1001.3L1045.0 1001.9L1047.0 1002.6L1049.0 1003.2L1051.0 1003.8L1053.0 1004.4L1055.0 1005.0L1057.0 1005.6L1059.0 1006.2L1061.0 1006.8L1063.0 1007.4L1065.0 1008.0L1067.0 1008.6L1069.0 1009.2L1071.0 1009.8L1073.0 1010.4L1075.0 1010.9L1077.0 1011.5L1079.0 1012.1L1081.0 1012.6L1083.0 1013.2L1085.0 1013.8L1087.0 1014.3L1089.0 1014.9L1091.0 1015.4L1093.0 1015.9L1095.0 1016.5L1097.0 1017.0L1099.0 1017.6L1101.0 1018.1L1103.0 1018.6L1105.0 1019.1L1107.0 1019.6L1109.0 1020.2L1111.0 1020.7L1113.0 1021.2L1115.0 1021.7L1117.0 1022.2L1119.0 1022.7L1121.0 1023.2L1123.0 1023.7L1125.0 1024.1L1127.0 1024.6L1129.0 1025.1L1131.0 1025.6L1133.0 1026.0L1135.0 1026.5L1137.0 1027.0L1139.0 1027.4L1141.0 1027.9L1143.0 1028.3L1145.0 1028.8L1147.0 1029.2L1149.0 1029.7L1151.0 1030.1L1153.0 1030.5L1155.0 1031.0L1157.0 1031.4L1159.0 1031.8L1161.0 1032.2L1163.0 1032.6L1165.0 1033.0L1167.0 1033.5L1169.0 1033.9L1171.0 1034.3L1173.0 1034.6L1175.0 1035.0L1177.0 1035.4L1179.0 1035.8L1181.0 1036.2L1183.0 1036.6L1185.0 1036.9L1187.0 1037.3L1189.0 1037.6L1191.0 1038.0L1193.0 1038.4L1195.0 1038.7L1197.0 1039.1L1199.0 1039.4L1201.0 1039.7L1203.0 1040.1L1205.0 1040.4L1207.0 1040.7L1209.0 1041.0L1211.0 1041.4L1213.0 1041.7L1215.0 1042.0L1217.0 1042.3L1219.0 1042.6L1221.0 1042.9L1223.0 1043.2L1225.0 1043.5L1227.0 1043.7L1229.0 1044.0L1231.0 1044.3L1233.0 1044.6L1235.0 1044.8L1237.0 1045.1L1239.0 1045.4L1241.0 1045.6L1243.0 1045.9L1245.0 1046.1L1247.0 1046.3L1249.0 1046.6L1251.0 1046.8L1253.0 1047.0L1255.0 1047.3L1257.0 1047.5L1259.0 1047.7L1261.0 1047.9L1263.0 1048.1L1265.0 1048.3L1267.0 1048.5L1269.0 1048.7L1271.0 1048.9L1273.0 1049.1L1275.0 1049.2L1277.0 1049.4L1279.0 1049.6L1281.0 1049.7L1283.0 1049.9L1285.0 1050.0L1287.0 1050.2L1289.0 1050.3L1291.0 1050.5L1293.0 1050.6L1295.0 1050.7L1297.0 1050.9L1299.0 1051.0L1301.0 1051.1L1303.0 1051.2L1305.0 1051.3L1307.0 1051.4L1309.0 1051.5L1311.0 1051.6L1313.0 1051.7L1315.0 1051.8L1317.0 1051.9L1319.0 1051.9L1321.0 1052.0L1323.0 1052.1L1325.0 1052.1L1327.0 1052.2L1329.0 1052.2L1331.0 1052.3L1333.0 1052.3L1335.0 1052.3L1337.0 1052.3L1339.0 1052.4L1341.0 1052.4L1343.0 1052.4L1345.0 1052.4L1347.0 1052.4L1349.0 1052.4L1351.0 1052.4L1353.0 1052.4L1355.0 1052.4L1357.0 1052.3L1359.0 1052.3L1361.0 1052.3L1363.0 1052.2L1365.0 1052.2L1367.0 1052.1L1369.0 1052.1L1371.0 1052.0L1373.0 1051.9L1375.0 1051.9L1377.0 1051.8L1379.0 1051.7L1381.0 1051.6L1383.0 1051.5L1385.0 1051.4L1387.0 1051.3L1389.0 1051.2L1391.0 1051.1L1393.0 1051.0L1395.0 1050.8L1397.0 1050.7L1399.0 1050.6L1401.0 1050.4L1403.0 1050.3L1405.0 1050.1L1407.0 1050.0L1409.0 1049.8L1411.0 1049.6L1413.0 1049.4L1415.0 1049.3L1417.0 1049.1L1419.0 1048.9L1421.0 1048.7L1423.0 1048.5L1425.0 1048.3L1427.0 1048.0L1429.0 1047.8L1431.0 1047.6L1433.0 1047.3L1435.0 1047.1L1437.0 1046.9L1439.0 1046.6L1441.0 1046.3L1443.0 1046.1L1445.0 1045.8L1447.0 1045.5L1449.0 1045.2L1451.0 1045.0L1453.0 1044.7L1455.0 1044.4L1457.0 1044.0L1459.0 1043.7L1461.0 1043.4L1463.0 1043.1L1465.0 1042.8L1467.0 1042.4L1469.0 1042.1L1471.0 1041.7L1473.0 1041.4L1475.0 1041.0L1477.0 1040.6L1479.0 1040.3L1481.0 1039.9L1483.0 1039.5L1485.0 1039.1L1487.0 1038.7L1489.0 1038.3L1491.0 1037.9L1493.0 1037.5L1495.0 1037.0L1497.0 1036.6L1499.0 1036.2L1501.0 1035.7L1503.0 1035.3L1505.0 1034.8L1507.0 1034.4L1509.0 1033.9L1511.0 1033.4L1513.0 1032.9L1515.0 1032.5L1517.0 1032.0L1519.0 1031.5L1521.0 1031.0L1523.0 1030.4L1525.0 1029.9L1527.0 1029.4L1529.0 1028.9L1531.0 1028.3L1533.0 1027.8L1535.0 1027.2L1537.0 1026.7L1539.0 1026.1L1541.0 1025.5L1543.0 1025.0L1545.0 1024.4L1547.0 1023.8L1549.0 1023.2L1551.0 1022.6L1553.0 1022.0L1555.0 1021.4L1557.0 1020.7L1559.0 1020.1L1561.0 1019.5L1563.0 1018.8L1565.0 1018.2L1567.0 1017.5L1569.0 1016.9L1571.0 1016.2L1573.0 1015.5L1575.0 1014.8L1577.0 1014.1L1579.0 1013.4L1581.0 1012.7L1583.0 1012.0L1585.0 1011.3L1587.0 1010.6L1589.0 1009.9L1591.0 1009.1L1593.0 1008.4L1595.0 1007.6L1597.0 1006.9L1599.0 1006.1L1601.0 1005.4L1603.0 1004.6L1605.0 1003.8L1607.0 1003.0L1609.0 1002.2L1611.0 1001.4L1613.0 1000.6L1615.0 999.8L1617.0 999.0L1619.0 998.2L1621.0 997.3L1623.0 996.5L1625.0 995.6L1627.0 994.8L1629.0 993.9L1631.0 993.0L1633.0 992.2L1635.0 991.3L1637.0 990.4L1639.0 989.5L1641.0 988.6L1643.0 987.7L1645.0 986.8L1647.0 985.9L1649.0 985.0L1651.0 984.0L1653.0 983.1L1655.0 982.1L1657.0 981.2L1659.0 980.2L1661.0 979.3L1663.0 978.3L1665.0 977.3L1667.0 976.3L1669.0 975.3L1671.0 974.3L1673.0 973.3L1675.0 972.3L1677.0 971.3L1679.0 970.3L1681.0 969.3L1683.0 968.2L1685.0 967.2L1687.0 966.1L1689.0 965.1L1691.0 964.0L1693.0 963.0L1695.0 961.9L1697.0 960.8L1699.0 959.7L1701.0 958.6L1703.0 957.5L1705.0 956.4L1707.0 955.3L1709.0 954.2L1711.0 953.1L1713.0 951.9L1715.0 950.8L1717.0 949.7L1719.0 948.5L1721.0 947.4L1723.0 946.2L1725.0 945.1L1727.0 943.9L1729.0 942.7L1731.0 941.5L1733.0 940.3L1735.0 939.1L1737.0 937.9L1739.0 936.7L1741.0 935.5L1743.0 934.3L1745.0 933.1L1747.0 931.9L1749.0 930.6L1751.0 929.4L1753.0 928.2L1755.0 926.9L1757.0 925.7L1759.0 924.4L1761.0 923.1L1763.0 921.9L1765.0 920.6L1767.0 919.3L1769.0 918.0L1771.0 916.7L1773.0 915.4L1775.0 914.1L1777.0 912.8L1779.0 911.5L1781.0 910.2L1783.0 908.9L1785.0 907.5L1787.0 906.2L1789.0 904.9L1791.0 903.5L1793.0 902.2L1795.0 900.8L1797.0 899.5L1799.0 898.1L1801.0 896.7L1803.0 895.4L1805.0 894.0L1807.0 892.6L1809.0 891.2L1811.0 889.9L1813.0 888.5L1815.0 887.1L1817.0 885.7L1819.0 884.3L1821.0 882.9L1823.0 881.4L1825.0 880.0L1827.0 878.6L1829.0 877.2L1831.0 875.8L1833.0 874.3L1835.0 872.9L1837.0 871.5L1839.0 870.0L1841.0 868.6L1843.0 867.1L1845.0 865.7L1847.0 864.2L1849.0 862.8L1851.0 861.3L1853.0 859.8L1855.0 858.4L1857.0 856.9L1859.0 855.4L1861.0 853.9L1863.0 852.5L1865.0 851.0L1867.0 849.5L1869.0 848.0L1871.0 846.5L1873.0 845.0L1875.0 843.5L1877.0 842.1L1879.0 840.6L1881.0 839.1L1883.0 837.6L1885.0 836.0L1887.0 834.5L1889.0 833.0L1891.0 831.5L1893.0 830.0L1895.0 828.5L1897.0 827.0L1899.0 825.5L1901.0 824.0L1903.0 822.4L1905.0 820.9L1907.0 819.4L1909.0 817.9L1911.0 816.4L1913.0 814.8L1915.0 813.3L1917.0 811.8L1919.0 810.3L1921.0 808.8L1923.0 807.2L1925.0 805.7L1927.0 804.2L1929.0 802.7L1931.0 801.1L1933.0 799.6L1935.0 798.1L1937.0 796.6L1939.0 795.0L1941.0 793.5L1943.0 792.0L1945.0 790.5L1947.0 789.0L1949.0 787.5L1951.0 785.9L1953.0 784.4L1955.0 782.9L1957.0 781.4L1959.0 779.9L1961.0 778.4L1963.0 776.9L1965.0 775.4L1967.0 773.9L1969.0 772.4L1971.0 770.9L1973.0 769.4L1975.0 767.9L1977.0 766.4L1979.0 764.9L1981.0 763.4L1983.0 762.0" stroke="#ff00ff" stroke-width="8.4"/>
</g>
<clipPath id="clipc"><rect x="298.8" y="1110.3" width="1677.6" height="419.7"/></clipPath>
<g clip-path="url(#clipc)" fill="none" stroke-linejoin="round" stroke-linecap="round">
<path d="M292.1 1458.1L293.8 1458.1L295.5 1458.1L297.2 1458.0L298.9 1458.0L300.5 1458.0L302.2 1458.0L303.9 1457.9L305.6 1457.9L307.3 1457.9L309.0 1457.9L310.7 1457.9L312.4 1457.8L314.1 1457.8L315.8 1457.8L317.5 1457.8L319.2 1457.8L320.8 1457.7L322.5 1457.7L324.2 1457.7L325.9 1457.7L327.6 1457.7L329.3 1457.6L331.0 1457.6L332.7 1457.6L334.4 1457.6L336.1 1457.6L337.8 1457.5L339.5 1457.5L341.1 1457.5L342.8 1457.5L344.5 1457.5L346.2 1457.4L347.9 1457.4L349.6 1457.4L351.3 1457.4L353.0 1457.4L354.7 1457.3L356.4 1457.3L358.1 1457.3L359.7 1457.3L361.4 1457.3L363.1 1457.2L364.8 1457.2L366.5 1457.2L368.2 1457.2L369.9 1457.2L371.6 1457.1L373.3 1457.1L375.0 1457.1L376.7 1457.1L378.4 1457.1L380.0 1457.1L381.7 1457.0L383.4 1457.0L385.1 1457.0L386.8 1457.0L388.5 1457.0L390.2 1456.9L391.9 1456.9L393.6 1456.9L395.3 1456.9L397.0 1456.9L398.7 1456.8L400.3 1456.8L402.0 1456.8L403.7 1456.8L405.4 1456.8L407.1 1456.8L408.8 1456.7L410.5 1456.7L412.2 1456.7L413.9 1456.7L415.6 1456.7L417.3 1456.7L418.9 1456.6L420.6 1456.6L422.3 1456.6L424.0 1456.6L425.7 1456.6L427.4 1456.5L429.1 1456.5L430.8 1456.5L432.5 1456.5L434.2 1456.5L435.9 1456.5L437.6 1456.4L439.2 1456.4L440.9 1456.4L442.6 1456.4L444.3 1456.4L446.0 1456.4L447.7 1456.3L449.4 1456.3L451.1 1456.3L452.8 1456.3L454.5 1456.3L456.2 1456.2L457.9 1456.2L459.5 1456.2L461.2 1456.2L462.9 1456.2L464.6 1456.2L466.3 1456.1L468.0 1456.1L469.7 1456.1L471.4 1456.1L473.1 1456.1L474.8 1456.1L476.5 1456.0L478.1 1456.0L479.8 1456.0L481.5 1456.0L483.2 1456.0L484.9 1456.0L486.6 1455.9L488.3 1455.9L490.0 1455.9L491.7 1455.9L493.4 1455.9L495.1 1455.9L496.8 1455.8L498.4 1455.8L500.1 1455.8L501.8 1455.8L503.5 1455.8L505.2 1455.8L506.9 1455.7L508.6 1455.7L510.3 1455.7L512.0 1455.7L513.7 1455.7L515.4 1455.6L517.1 1455.6L518.7 1455.6L520.4 1455.6L522.1 1455.6L523.8 1455.6L525.5 1455.5L527.2 1455.5L528.9 1455.5L530.6 1455.5L532.3 1455.5L534.0 1455.5L535.7 1455.4L537.3 1455.4L539.0 1455.4L540.7 1455.4L542.4 1455.4L544.1 1455.4L545.8 1455.3L547.5 1455.3L549.2 1455.3L550.9 1455.3L552.6 1455.3L554.3 1455.2L556.0 1455.2L557.6 1455.2L559.3 1455.2L561.0 1455.2L562.7 1455.1L564.4 1455.1L566.1 1455.1L567.8 1455.1L569.5 1455.1L571.2 1455.1L572.9 1455.0L574.6 1455.0L576.3 1455.0L577.9 1455.0L579.6 1455.0L581.3 1454.9L583.0 1454.9L584.7 1454.9L586.4 1454.9L588.1 1454.9L589.8 1454.8L591.5 1454.8L593.2 1454.8L594.9 1454.8L596.5 1454.8L598.2 1454.7L599.9 1454.7L601.6 1454.7L603.3 1454.7L605.0 1454.7L606.7 1454.6L608.4 1454.6L610.1 1454.6L611.8 1454.6L613.5 1454.5L615.2 1454.5L616.8 1454.5L618.5 1454.5L620.2 1454.5L621.9 1454.4L623.6 1454.4L625.3 1454.4L627.0 1454.4L628.7 1454.3L630.4 1454.3L632.1 1454.3L633.8 1454.3L635.5 1454.2L637.1 1454.2L638.8 1454.2L640.5 1454.2L642.2 1454.1L643.9 1454.1L645.6 1454.1L647.3 1454.1L649.0 1454.0L650.7 1454.0L652.4 1454.0L654.1 1453.9L655.7 1453.9L657.4 1453.9L659.1 1453.9L660.8 1453.8L662.5 1453.8L664.2 1453.8L665.9 1453.7L667.6 1453.7L669.3 1453.7L671.0 1453.7L672.7 1453.6L674.4 1453.6L676.0 1453.6L677.7 1453.5L679.4 1453.5L681.1 1453.5L682.8 1453.4L684.5 1453.4L686.2 1453.4L687.9 1453.3L689.6 1453.3L691.3 1453.2L693.0 1453.2L694.7 1453.2L696.3 1453.1L698.0 1453.1L699.7 1453.1L701.4 1453.0L703.1 1453.0L704.8 1452.9L706.5 1452.9L708.2 1452.8L709.9 1452.8L711.6 1452.8L713.3 1452.7L715.0 1452.7L716.6 1452.6L718.3 1452.6L720.0 1452.5L721.7 1452.5L723.4 1452.4L725.1 1452.4L726.8 1452.3L728.5 1452.3L730.2 1452.2L731.9 1452.2L733.6 1452.1L735.2 1452.1L736.9 1452.0L738.6 1452.0L740.3 1451.9L742.0 1451.8L743.7 1451.8L745.4 1451.7L747.1 1451.6L748.8 1451.6L750.5 1451.5L752.2 1451.4L753.9 1451.4L755.5 1451.3L757.2 1451.2L758.9 1451.2L760.6 1451.1L762.3 1451.0L764.0 1450.9L765.7 1450.8L767.4 1450.8L769.1 1450.7L770.8 1450.6L772.5 1450.5L774.2 1450.4L775.8 1450.3L777.5 1450.2L779.2 1450.1L780.9 1450.0L782.6 1449.9L784.3 1449.8L786.0 1449.7L787.7 1449.6L789.4 1449.5L791.1 1449.4L792.8 1449.2L794.4 1449.1L796.1 1449.0L797.8 1448.9L799.5 1448.7L801.2 1448.6L802.9 1448.4L804.6 1448.3L806.3 1448.1L808.0 1448.0L809.7 1447.8L811.4 1447.7L813.1 1447.5L814.7 1447.3L816.4 1447.1L818.1 1446.9L819.8 1446.7L821.5 1446.5L823.2 1446.3L824.9 1446.1L826.6 1445.9L828.3 1445.6L830.0 1445.4L831.7 1445.1L833.4 1444.9L835.0 1444.6L836.7 1444.3L838.4 1444.0L840.1 1443.7L841.8 1443.3L843.5 1443.0L845.2 1442.6L846.9 1442.2L848.6 1441.8L850.3 1441.4L852.0 1441.0L853.6 1440.5L855.3 1440.0L857.0 1439.5L858.7 1439.0L860.4 1438.4L862.1 1437.8L863.8 1437.1L865.5 1436.4L867.2 1435.7L868.9 1434.9L870.6 1434.0L872.3 1433.1L873.9 1432.2L875.6 1431.1L876.9 1430.3L878.2 1429.4L879.4 1428.4L880.7 1427.4L882.0 1426.3L883.2 1425.1L884.5 1423.9L885.8 1422.6L887.1 1421.1L888.3 1419.6L889.6 1417.9L890.9 1416.1L891.7 1414.7L892.6 1413.4L893.4 1411.9L894.2 1410.3L895.1 1408.7L895.9 1406.9L896.8 1405.0L897.6 1403.0L898.5 1400.8L899.3 1398.5L900.2 1396.0L901.0 1393.3L901.9 1390.4L902.3 1388.9L902.7 1387.3L903.1 1385.7L903.5 1383.9L904.0 1382.2L904.4 1380.3L904.8 1378.4L905.2 1376.3L905.7 1374.2L906.1 1372.1L906.5 1369.8L906.9 1367.4L907.4 1365.0L907.8 1362.4L908.2 1359.7L908.6 1356.9L909.0 1354.0L909.5 1351.0L909.9 1347.9L910.3 1344.7L910.7 1341.3L911.2 1337.9L911.6 1334.3L912.0 1330.6L912.4 1326.7L912.8 1322.8L913.3 1318.8L913.7 1314.7L914.1 1310.5L914.5 1306.2L915.0 1301.8L915.4 1297.4L915.8 1292.9L916.2 1288.5L916.7 1284.0L917.1 1279.5L917.5 1275.0L917.9 1270.5L918.3 1266.1L918.8 1261.8L919.2 1257.5L919.6 1253.3L920.0 1249.2L920.5 1245.2L920.9 1241.3L921.3 1237.5L921.7 1233.8L922.2 1230.2L922.6 1226.7L923.0 1223.4L923.4 1220.2L923.8 1217.1L924.3 1214.1L924.7 1211.2L925.1 1208.4L925.5 1205.8L926.0 1203.2L926.4 1200.8L926.8 1198.4L927.2 1196.1L927.6 1194.0L928.1 1191.9L928.5 1189.9L928.9 1187.9L929.3 1186.1L929.8 1184.3L930.2 1182.6L930.6 1180.9L931.0 1179.4L931.5 1177.8L931.9 1176.4L932.7 1173.6L933.6 1171.0L934.4 1168.6L935.3 1166.4L936.1 1164.3L937.0 1162.4L937.8 1160.5L938.6 1158.8L939.5 1157.2L940.3 1155.7L941.2 1154.3L942.0 1153.0L942.9 1151.7L944.1 1149.9L945.4 1148.3L946.7 1146.8L947.9 1145.4L949.2 1144.1L950.5 1142.9L951.8 1141.7L953.0 1140.7L954.3 1139.7L955.6 1138.7L956.8 1137.9L958.1 1137.0L959.8 1136.0L961.5 1135.1L963.2 1134.2L964.9 1133.3L966.6 1132.6L968.2 1131.8L969.9 1131.2L971.6 1130.5L973.3 1129.9L975.0 1129.4L976.7 1128.8L978.4 1128.3L980.1 1127.8L981.8 1127.4L983.5 1126.9L985.2 1126.5L986.9 1126.1L988.5 1125.8L990.2 1125.4L991.9 1125.1L993.6 1124.8L995.3 1124.4L997.0 1124.1L998.7 1123.9L1000.4 1123.6L1002.1 1123.3L1003.8 1123.1L1005.5 1122.8L1007.1 1122.6L1008.8 1122.4L1010.5 1122.2L1012.2 1122.0L1013.9 1121.8L1015.6 1121.6L1017.3 1121.4L1019.0 1121.2L1020.7 1121.0L1022.4 1120.9L1024.1 1120.7L1025.8 1120.5L1027.4 1120.4L1029.1 1120.2L1030.8 1120.1L1032.5 1120.0L1034.2 1119.8L1035.9 1119.7L1037.6 1119.6L1039.3 1119.5L1041.0 1119.3L1042.7 1119.2L1044.4 1119.1L1046.1 1119.0L1047.7 1118.9L1049.4 1118.8L1051.1 1118.7L1052.8 1118.6L1054.5 1118.5L1056.2 1118.4L1057.9 1118.3L1059.6 1118.2L1061.3 1118.2L1063.0 1118.1L1064.7 1118.0L1066.3 1117.9L1068.0 1117.8L1069.7 1117.8L1071.4 1117.7L1073.1 1117.6L1074.8 1117.6L1076.5 1117.5L1078.2 1117.4L1079.9 1117.4L1081.6 1117.3L1083.3 1117.2L1085.0 1117.2L1086.6 1117.1L1088.3 1117.1L1090.0 1117.0L1091.7 1117.0L1093.4 1116.9L1095.1 1116.9L1096.8 1116.8L1098.5 1116.8L1100.2 1116.7L1101.9 1116.7L1103.6 1116.6L1105.3 1116.6L1106.9 1116.5L1108.6 1116.5L1110.3 1116.4L1112.0 1116.4L1113.7 1116.4L1115.4 1116.3L1117.1 1116.3L1118.8 1116.2L1120.5 1116.2L1122.2 1116.2L1123.9 1116.1L1125.5 1116.1L1127.2 1116.1L1128.9 1116.0L1130.6 1116.0L1132.3 1116.0L1134.0 1115.9L1135.7 1115.9L1137.4 1115.9L1139.1 1115.9L1140.8 1115.8L1142.5 1115.8L1144.2 1115.8L1145.8 1115.7L1147.5 1115.7L1149.2 1115.7L1150.9 1115.7L1152.6 1115.6L1154.3 1115.6L1156.0 1115.6L1157.7 1115.6L1159.4 1115.6L1161.1 1115.5L1162.8 1115.5L1164.5 1115.5L1166.1 1115.5L1167.8 1115.4L1169.5 1115.4L1171.2 1115.4L1172.9 1115.4L1174.6 1115.4L1176.3 1115.4L1178.0 1115.3L1179.7 1115.3L1181.4 1115.3L1183.1 1115.3L1184.7 1115.3L1186.4 1115.3L1188.1 1115.2L1189.8 1115.2L1191.5 1115.2L1193.2 1115.2L1194.9 1115.2L1196.6 1115.2L1198.3 1115.2L1200.0 1115.1L1201.7 1115.1L1203.4 1115.1L1205.0 1115.1L1206.7 1115.1L1208.4 1115.1L1210.1 1115.1L1211.8 1115.1L1213.5 1115.0L1215.2 1115.0L1216.9 1115.0L1218.6 1115.0L1220.3 1115.0L1222.0 1115.0L1223.7 1115.0L1225.3 1115.0L1227.0 1115.0L1228.7 1115.0L1230.4 1114.9L1232.1 1114.9L1233.8 1114.9L1235.5 1114.9L1237.2 1114.9L1238.9 1114.9L1240.6 1114.9L1242.3 1114.9L1243.9 1114.9L1245.6 1114.9L1247.3 1114.9L1249.0 1114.9L1250.7 1114.9L1252.4 1114.9L1254.1 1114.8L1255.8 1114.8L1257.5 1114.8L1259.2 1114.8L1260.9 1114.8L1262.6 1114.8L1264.2 1114.8L1265.9 1114.8L1267.6 1114.8L1269.3 1114.8L1271.0 1114.8L1272.7 1114.8L1274.4 1114.8L1276.1 1114.8L1277.8 1114.8L1279.5 1114.8L1281.2 1114.8L1282.9 1114.8L1284.5 1114.8L1286.2 1114.8L1287.9 1114.8L1289.6 1114.8L1291.3 1114.8L1293.0 1114.8L1294.7 1114.8L1296.4 1114.8L1298.1 1114.8L1299.8 1114.7L1301.5 1114.7L1303.2 1114.7L1304.8 1114.7L1306.5 1114.7L1308.2 1114.7L1309.9 1114.7L1311.6 1114.7L1313.3 1114.7L1315.0 1114.7L1316.7 1114.7L1318.4 1114.7L1320.1 1114.7L1321.8 1114.7L1323.4 1114.7L1325.1 1114.7L1326.8 1114.7L1328.5 1114.7L1330.2 1114.7L1331.9 1114.7L1333.6 1114.7L1335.3 1114.7L1337.0 1114.7L1338.7 1114.7L1340.4 1114.7L1342.1 1114.7L1343.7 1114.7L1345.4 1114.7L1347.1 1114.7L1348.8 1114.7L1350.5 1114.7L1352.2 1114.7L1353.9 1114.7L1355.6 1114.7L1357.3 1114.7L1359.0 1114.7L1360.7 1114.7L1362.4 1114.7L1364.0 1114.7L1365.7 1114.7L1367.4 1114.7L1369.1 1114.7L1370.8 1114.7L1372.5 1114.7L1374.2 1114.7L1375.9 1114.8L1377.6 1114.8L1379.3 1114.8L1381.0 1114.8L1382.6 1114.8L1384.3 1114.8L1386.0 1114.8L1387.7 1114.8L1389.4 1114.8L1391.1 1114.8L1392.8 1114.8L1394.5 1114.8L1396.2 1114.8L1397.9 1114.8L1399.6 1114.8L1401.3 1114.8L1402.9 1114.8L1404.6 1114.8L1406.3 1114.8L1408.0 1114.8L1409.7 1114.8L1411.4 1114.8L1413.1 1114.8L1414.8 1114.8L1416.5 1114.8L1418.2 1114.8L1419.9 1114.8L1421.6 1114.8L1423.2 1114.8L1424.9 1114.8L1426.6 1114.8L1428.3 1114.8L1430.0 1114.8L1431.7 1114.8L1433.4 1114.8L1435.1 1114.8L1436.8 1114.8L1438.5 1114.8L1440.2 1114.8L1441.8 1114.8L1443.5 1114.9L1445.2 1114.9L1446.9 1114.9L1448.6 1114.9L1450.3 1114.9L1452.0 1114.9L1453.7 1114.9L1455.4 1114.9L1457.1 1114.9L1458.8 1114.9L1460.5 1114.9L1462.1 1114.9L1463.8 1114.9L1465.5 1114.9L1467.2 1114.9L1468.9 1114.9L1470.6 1114.9L1472.3 1114.9L1474.0 1114.9L1475.7 1114.9L1477.4 1114.9L1479.1 1114.9L1480.8 1114.9L1482.4 1114.9L1484.1 1114.9L1485.8 1114.9L1487.5 1114.9L1489.2 1114.9L1490.9 1114.9L1492.6 1114.9L1494.3 1115.0L1496.0 1115.0L1497.7 1115.0L1499.4 1115.0L1501.0 1115.0L1502.7 1115.0L1504.4 1115.0L1506.1 1115.0L1507.8 1115.0L1509.5 1115.0L1511.2 1115.0L1512.9 1115.0L1514.6 1115.0L1516.3 1115.0L1518.0 1115.0L1519.7 1115.0L1521.3 1115.0L1523.0 1115.0L1524.7 1115.0L1526.4 1115.0L1528.1 1115.0L1529.8 1115.0L1531.5 1115.0L1533.2 1115.0L1534.9 1115.0L1536.6 1115.0L1538.3 1115.0L1540.0 1115.1L1541.6 1115.1L1543.3 1115.1L1545.0 1115.1L1546.7 1115.1L1548.4 1115.1L1550.1 1115.1L1551.8 1115.1L1553.5 1115.1L1555.2 1115.1L1556.9 1115.1L1558.6 1115.1L1560.2 1115.1L1561.9 1115.1L1563.6 1115.1L1565.3 1115.1L1567.0 1115.1L1568.7 1115.1L1570.4 1115.1L1572.1 1115.1L1573.8 1115.1L1575.5 1115.1L1577.2 1115.1L1578.9 1115.1L1580.5 1115.1L1582.2 1115.1L1583.9 1115.1L1585.6 1115.1L1587.3 1115.2L1589.0 1115.2L1590.7 1115.2L1592.4 1115.2L1594.1 1115.2L1595.8 1115.2L1597.5 1115.2L1599.2 1115.2L1600.8 1115.2L1602.5 1115.2L1604.2 1115.2L1605.9 1115.2L1607.6 1115.2L1609.3 1115.2L1611.0 1115.2L1612.7 1115.2L1614.4 1115.2L1616.1 1115.2L1617.8 1115.2L1619.5 1115.2L1621.1 1115.2L1622.8 1115.2L1624.5 1115.2L1626.2 1115.2L1627.9 1115.2L1629.6 1115.2L1631.3 1115.2L1633.0 1115.2L1634.7 1115.2L1636.4 1115.2L1638.1 1115.2L1639.7 1115.2L1641.4 1115.3L1643.1 1115.3L1644.8 1115.3L1646.5 1115.3L1648.2 1115.3L1649.9 1115.3L1651.6 1115.3L1653.3 1115.3L1655.0 1115.3L1656.7 1115.3L1658.4 1115.3L1660.0 1115.3L1661.7 1115.3L1663.4 1115.3L1665.1 1115.3L1666.8 1115.3L1668.5 1115.3L1670.2 1115.3L1671.9 1115.3L1673.6 1115.3L1675.3 1115.3L1677.0 1115.3L1678.7 1115.3L1680.3 1115.3L1682.0 1115.3L1683.7 1115.3L1685.4 1115.3L1687.1 1115.3L1688.8 1115.3L1690.5 1115.3L1692.2 1115.3L1693.9 1115.3L1695.6 1115.3L1697.3 1115.3L1698.9 1115.3L1700.6 1115.3L1702.3 1115.3L1704.0 1115.3L1705.7 1115.3L1707.4 1115.3L1709.1 1115.3L1710.8 1115.3L1712.5 1115.3L1714.2 1115.3L1715.9 1115.3L1717.6 1115.3L1719.2 1115.3L1720.9 1115.3L1722.6 1115.4L1724.3 1115.4L1726.0 1115.4L1727.7 1115.4L1729.4 1115.4L1731.1 1115.4L1732.8 1115.4L1734.5 1115.4L1736.2 1115.4L1737.9 1115.4L1739.5 1115.4L1741.2 1115.4L1742.9 1115.4L1744.6 1115.4L1746.3 1115.4L1748.0 1115.4L1749.7 1115.4L1751.4 1115.4L1753.1 1115.4L1754.8 1115.4L1756.5 1115.4L1758.1 1115.4L1759.8 1115.4L1761.5 1115.4L1763.2 1115.4L1764.9 1115.4L1766.6 1115.4L1768.3 1115.4L1770.0 1115.4L1771.7 1115.4L1773.4 1115.4L1775.1 1115.4L1776.8 1115.4L1778.4 1115.4L1780.1 1115.4L1781.8 1115.4L1783.5 1115.4L1785.2 1115.4L1786.9 1115.4L1788.6 1115.4L1790.3 1115.4L1792.0 1115.4L1793.7 1115.4L1795.4 1115.4L1797.1 1115.4L1798.7 1115.4L1800.4 1115.4L1802.1 1115.4L1803.8 1115.4L1805.5 1115.4L1807.2 1115.4L1808.9 1115.4L1810.6 1115.4L1812.3 1115.4L1814.0 1115.4L1815.7 1115.4L1817.3 1115.4L1819.0 1115.4L1820.7 1115.4L1822.4 1115.3L1824.1 1115.3L1825.8 1115.3L1827.5 1115.3L1829.2 1115.3L1830.9 1115.3L1832.6 1115.3L1834.3 1115.3L1836.0 1115.3L1837.6 1115.3L1839.3 1115.3L1841.0 1115.3L1842.7 1115.3L1844.4 1115.3L1846.1 1115.3L1847.8 1115.3L1849.5 1115.3L1851.2 1115.3L1852.9 1115.3L1854.6 1115.3L1856.3 1115.3L1857.9 1115.3L1859.6 1115.3L1861.3 1115.3L1863.0 1115.3L1864.7 1115.3L1866.4 1115.3L1868.1 1115.3L1869.8 1115.3L1871.5 1115.3L1873.2 1115.3L1874.9 1115.3L1876.5 1115.3L1878.2 1115.3L1879.9 1115.3L1881.6 1115.3L1883.3 1115.3L1885.0 1115.3L1886.7 1115.3L1888.4 1115.3L1890.1 1115.2L1891.8 1115.2L1893.5 1115.2L1895.2 1115.2L1896.8 1115.2L1898.5 1115.2L1900.2 1115.2L1901.9 1115.2L1903.6 1115.2L1905.3 1115.2L1907.0 1115.2L1908.7 1115.2L1910.4 1115.2L1912.1 1115.2L1913.8 1115.2L1915.5 1115.2L1917.1 1115.2L1918.8 1115.2L1920.5 1115.2L1922.2 1115.2L1923.9 1115.2L1925.6 1115.2L1927.3 1115.2L1929.0 1115.1L1930.7 1115.1L1932.4 1115.1L1934.1 1115.1L1935.7 1115.1L1937.4 1115.1L1939.1 1115.1L1940.8 1115.1L1942.5 1115.1L1944.2 1115.1L1945.9 1115.1L1947.6 1115.1L1949.3 1115.1L1951.0 1115.1L1952.7 1115.1L1954.4 1115.1L1956.0 1115.1L1957.7 1115.1L1959.4 1115.0L1961.1 1115.0L1962.8 1115.0L1964.5 1115.0L1966.2 1115.0L1967.9 1115.0L1969.6 1115.0L1971.3 1115.0L1973.0 1115.0L1974.7 1115.0L1976.3 1115.0L1978.0 1115.0L1979.7 1115.0L1981.4 1115.0L1983.1 1114.9" stroke="#ff0000" stroke-width="5.6"/>
<path d="M292.1 1439.6L293.8 1439.5L295.5 1439.5L297.2 1439.4L298.9 1439.4L300.5 1439.3L302.2 1439.3L303.9 1439.2L305.6 1439.1L307.3 1439.1L309.0 1439.0L310.7 1439.0L312.4 1438.9L314.1 1438.9L315.8 1438.8L317.5 1438.8L319.2 1438.7L320.8 1438.6L322.5 1438.6L324.2 1438.5L325.9 1438.5L327.6 1438.4L329.3 1438.4L331.0 1438.3L332.7 1438.3L334.4 1438.2L336.1 1438.1L337.8 1438.1L339.5 1438.0L341.1 1438.0L342.8 1437.9L344.5 1437.9L346.2 1437.8L347.9 1437.8L349.6 1437.7L351.3 1437.7L353.0 1437.6L354.7 1437.5L356.4 1437.5L358.1 1437.4L359.7 1437.4L361.4 1437.3L363.1 1437.3L364.8 1437.2L366.5 1437.2L368.2 1437.1L369.9 1437.1L371.6 1437.0L373.3 1436.9L375.0 1436.9L376.7 1436.8L378.4 1436.8L380.0 1436.7L381.7 1436.7L383.4 1436.6L385.1 1436.6L386.8 1436.5L388.5 1436.4L390.2 1436.4L391.9 1436.3L393.6 1436.3L395.3 1436.2L397.0 1436.2L398.7 1436.1L400.3 1436.1L402.0 1436.0L403.7 1436.0L405.4 1435.9L407.1 1435.8L408.8 1435.8L410.5 1435.7L412.2 1435.7L413.9 1435.6L415.6 1435.6L417.3 1435.5L418.9 1435.5L420.6 1435.4L422.3 1435.3L424.0 1435.3L425.7 1435.2L427.4 1435.2L429.1 1435.1L430.8 1435.1L432.5 1435.0L434.2 1435.0L435.9 1434.9L437.6 1434.8L439.2 1434.8L440.9 1434.7L442.6 1434.7L444.3 1434.6L446.0 1434.6L447.7 1434.5L449.4 1434.5L451.1 1434.4L452.8 1434.3L454.5 1434.3L456.2 1434.2L457.9 1434.2L459.5 1434.1L461.2 1434.1L462.9 1434.0L464.6 1434.0L466.3 1433.9L468.0 1433.8L469.7 1433.8L471.4 1433.7L473.1 1433.7L474.8 1433.6L476.5 1433.6L478.1 1433.5L479.8 1433.4L481.5 1433.4L483.2 1433.3L484.9 1433.3L486.6 1433.2L488.3 1433.1L490.0 1433.1L491.7 1433.0L493.4 1433.0L495.1 1432.9L496.8 1432.9L498.4 1432.8L500.1 1432.7L501.8 1432.7L503.5 1432.6L505.2 1432.6L506.9 1432.5L508.6 1432.4L510.3 1432.4L512.0 1432.3L513.7 1432.3L515.4 1432.2L517.1 1432.1L518.7 1432.1L520.4 1432.0L522.1 1432.0L523.8 1431.9L525.5 1431.8L527.2 1431.8L528.9 1431.7L530.6 1431.7L532.3 1431.6L534.0 1431.5L535.7 1431.5L537.3 1431.4L539.0 1431.4L540.7 1431.3L542.4 1431.2L544.1 1431.2L545.8 1431.1L547.5 1431.0L549.2 1431.0L550.9 1430.9L552.6 1430.9L554.3 1430.8L556.0 1430.7L557.6 1430.7L559.3 1430.6L561.0 1430.5L562.7 1430.5L564.4 1430.4L566.1 1430.3L567.8 1430.3L569.5 1430.2L571.2 1430.1L572.9 1430.1L574.6 1430.0L576.3 1429.9L577.9 1429.9L579.6 1429.8L581.3 1429.7L583.0 1429.7L584.7 1429.6L586.4 1429.5L588.1 1429.5L589.8 1429.4L591.5 1429.3L593.2 1429.3L594.9 1429.2L596.5 1429.1L598.2 1429.1L599.9 1429.0L601.6 1428.9L603.3 1428.8L605.0 1428.8L606.7 1428.7L608.4 1428.6L610.1 1428.6L611.8 1428.5L613.5 1428.4L615.2 1428.3L616.8 1428.3L618.5 1428.2L620.2 1428.1L621.9 1428.0L623.6 1428.0L625.3 1427.9L627.0 1427.8L628.7 1427.7L630.4 1427.7L632.1 1427.6L633.8 1427.5L635.5 1427.4L637.1 1427.4L638.8 1427.3L640.5 1427.2L642.2 1427.1L643.9 1427.0L645.6 1427.0L647.3 1426.9L649.0 1426.8L650.7 1426.7L652.4 1426.6L654.1 1426.6L655.7 1426.5L657.4 1426.4L659.1 1426.3L660.8 1426.2L662.5 1426.1L664.2 1426.0L665.9 1426.0L667.6 1425.9L669.3 1425.8L671.0 1425.7L672.7 1425.6L674.4 1425.5L676.0 1425.4L677.7 1425.3L679.4 1425.3L681.1 1425.2L682.8 1425.1L684.5 1425.0L686.2 1424.9L687.9 1424.8L689.6 1424.7L691.3 1424.6L693.0 1424.5L694.7 1424.4L696.3 1424.3L698.0 1424.2L699.7 1424.1L701.4 1424.0L703.1 1423.9L704.8 1423.8L706.5 1423.7L708.2 1423.6L709.9 1423.5L711.6 1423.4L713.3 1423.3L715.0 1423.2L716.6 1423.1L718.3 1423.0L720.0 1422.9L721.7 1422.8L723.4 1422.7L725.1 1422.6L726.8 1422.5L728.5 1422.3L730.2 1422.2L731.9 1422.1L733.6 1422.0L735.2 1421.9L736.9 1421.8L738.6 1421.7L740.3 1421.5L742.0 1421.4L743.7 1421.3L745.4 1421.2L747.1 1421.1L748.8 1420.9L750.5 1420.8L752.2 1420.7L753.9 1420.6L755.5 1420.4L757.2 1420.3L758.9 1420.2L760.6 1420.0L762.3 1419.9L764.0 1419.8L765.7 1419.6L767.4 1419.5L769.1 1419.4L770.8 1419.2L772.5 1419.1L774.2 1418.9L775.8 1418.8L777.5 1418.6L779.2 1418.5L780.9 1418.4L782.6 1418.2L784.3 1418.1L786.0 1417.9L787.7 1417.8L789.4 1417.6L791.1 1417.4L792.8 1417.3L794.4 1417.1L796.1 1417.0L797.8 1416.8L799.5 1416.6L801.2 1416.5L802.9 1416.3L804.6 1416.1L806.3 1415.9L808.0 1415.8L809.7 1415.6L811.4 1415.4L813.1 1415.2L814.7 1415.1L816.4 1414.9L818.1 1414.7L819.8 1414.5L821.5 1414.3L823.2 1414.1L824.9 1413.9L826.6 1413.7L828.3 1413.5L830.0 1413.3L831.7 1413.1L833.4 1412.9L835.0 1412.7L836.7 1412.5L838.4 1412.3L840.1 1412.0L841.8 1411.8L843.5 1411.6L845.2 1411.4L846.9 1411.1L848.6 1410.9L850.3 1410.7L852.0 1410.4L853.6 1410.2L855.3 1409.9L857.0 1409.7L858.7 1409.4L860.4 1409.2L862.1 1408.9L863.8 1408.6L865.5 1408.4L867.2 1408.1L868.9 1407.8L870.6 1407.5L872.3 1407.2L873.9 1407.0L875.6 1406.7L877.3 1406.4L879.0 1406.1L880.7 1405.8L882.4 1405.5L884.1 1405.1L885.8 1404.8L887.5 1404.5L889.2 1404.2L890.9 1403.8L892.6 1403.5L894.2 1403.1L895.9 1402.8L897.6 1402.4L899.3 1402.1L901.0 1401.7L902.7 1401.3L904.4 1400.9L906.1 1400.5L907.8 1400.1L909.5 1399.7L911.2 1399.3L912.8 1398.9L914.5 1398.5L916.2 1398.1L917.9 1397.6L919.6 1397.2L921.3 1396.7L923.0 1396.2L924.7 1395.8L926.4 1395.3L928.1 1394.8L929.8 1394.3L931.5 1393.8L933.1 1393.3L934.8 1392.7L936.5 1392.2L938.2 1391.7L939.9 1391.1L941.6 1390.5L943.3 1389.9L945.0 1389.4L946.7 1388.7L948.4 1388.1L950.1 1387.5L951.8 1386.9L953.4 1386.2L955.1 1385.5L956.8 1384.8L958.5 1384.1L960.2 1383.4L961.9 1382.7L963.6 1381.9L965.3 1381.2L967.0 1380.4L968.7 1379.6L970.4 1378.8L972.0 1378.0L973.7 1377.1L975.4 1376.2L977.1 1375.3L978.8 1374.4L980.5 1373.5L982.2 1372.5L983.9 1371.6L985.6 1370.6L987.3 1369.5L989.0 1368.5L990.2 1367.7L991.5 1366.9L992.8 1366.1L994.0 1365.2L995.3 1364.4L996.6 1363.5L997.8 1362.6L999.1 1361.7L1000.4 1360.8L1001.7 1359.8L1002.9 1358.9L1004.2 1357.9L1005.5 1356.9L1006.7 1355.9L1008.0 1354.9L1009.3 1353.8L1010.5 1352.7L1011.8 1351.7L1013.1 1350.6L1014.3 1349.4L1015.6 1348.3L1016.9 1347.1L1018.1 1345.9L1019.4 1344.7L1020.7 1343.5L1021.9 1342.3L1023.2 1341.0L1024.5 1339.7L1025.8 1338.4L1027.0 1337.1L1028.3 1335.7L1029.6 1334.3L1030.8 1332.9L1032.1 1331.5L1033.4 1330.1L1034.6 1328.6L1035.9 1327.1L1037.2 1325.6L1038.4 1324.0L1039.7 1322.5L1041.0 1320.9L1042.2 1319.3L1043.5 1317.7L1044.8 1316.0L1046.1 1314.3L1047.3 1312.6L1048.6 1310.9L1049.9 1309.2L1051.1 1307.4L1052.4 1305.7L1053.7 1303.9L1054.9 1302.1L1056.2 1300.3L1057.5 1298.4L1058.7 1296.6L1059.6 1295.3L1060.4 1294.1L1061.3 1292.8L1062.1 1291.5L1063.0 1290.3L1063.8 1289.0L1064.7 1287.7L1065.5 1286.4L1066.3 1285.1L1067.2 1283.9L1068.0 1282.6L1068.9 1281.3L1069.7 1280.0L1070.6 1278.7L1071.4 1277.4L1072.3 1276.1L1073.1 1274.7L1074.0 1273.4L1074.8 1272.1L1075.7 1270.8L1076.5 1269.5L1077.3 1268.2L1078.2 1266.9L1079.0 1265.6L1079.9 1264.3L1080.7 1263.0L1081.6 1261.7L1082.4 1260.4L1083.3 1259.1L1084.1 1257.8L1085.0 1256.5L1085.8 1255.2L1086.6 1254.0L1087.5 1252.7L1088.3 1251.4L1089.2 1250.2L1090.0 1248.9L1090.9 1247.7L1091.7 1246.4L1093.0 1244.6L1094.3 1242.7L1095.5 1240.9L1096.8 1239.1L1098.1 1237.3L1099.3 1235.5L1100.6 1233.8L1101.9 1232.1L1103.1 1230.4L1104.4 1228.7L1105.7 1227.0L1106.9 1225.4L1108.2 1223.7L1109.5 1222.1L1110.7 1220.6L1112.0 1219.0L1113.3 1217.5L1114.6 1215.9L1115.8 1214.5L1117.1 1213.0L1118.4 1211.6L1119.6 1210.1L1120.9 1208.7L1122.2 1207.4L1123.4 1206.0L1124.7 1204.7L1126.0 1203.4L1127.2 1202.1L1128.5 1200.8L1129.8 1199.6L1131.0 1198.4L1132.3 1197.2L1133.6 1196.0L1134.9 1194.8L1136.1 1193.7L1137.4 1192.6L1138.7 1191.5L1139.9 1190.4L1141.2 1189.3L1142.5 1188.3L1143.7 1187.3L1145.0 1186.3L1146.3 1185.3L1147.5 1184.3L1148.8 1183.4L1150.1 1182.4L1151.3 1181.5L1152.6 1180.6L1153.9 1179.7L1155.1 1178.8L1156.4 1178.0L1157.7 1177.1L1159.0 1176.3L1160.2 1175.5L1161.9 1174.5L1163.6 1173.4L1165.3 1172.4L1167.0 1171.4L1168.7 1170.5L1170.4 1169.5L1172.1 1168.6L1173.8 1167.7L1175.4 1166.8L1177.1 1166.0L1178.8 1165.1L1180.5 1164.3L1182.2 1163.5L1183.9 1162.7L1185.6 1161.9L1187.3 1161.2L1189.0 1160.5L1190.7 1159.7L1192.4 1159.0L1194.1 1158.3L1195.7 1157.7L1197.4 1157.0L1199.1 1156.4L1200.8 1155.7L1202.5 1155.1L1204.2 1154.5L1205.9 1153.9L1207.6 1153.3L1209.3 1152.8L1211.0 1152.2L1212.7 1151.6L1214.3 1151.1L1216.0 1150.6L1217.7 1150.1L1219.4 1149.6L1221.1 1149.1L1222.8 1148.6L1224.5 1148.1L1226.2 1147.6L1227.9 1147.2L1229.6 1146.7L1231.3 1146.3L1233.0 1145.8L1234.6 1145.4L1236.3 1145.0L1238.0 1144.6L1239.7 1144.2L1241.4 1143.8L1243.1 1143.4L1244.8 1143.0L1246.5 1142.6L1248.2 1142.2L1249.9 1141.9L1251.6 1141.5L1253.3 1141.1L1254.9 1140.8L1256.6 1140.5L1258.3 1140.1L1260.0 1139.8L1261.7 1139.5L1263.4 1139.1L1265.1 1138.8L1266.8 1138.5L1268.5 1138.2L1270.2 1137.9L1271.9 1137.6L1273.5 1137.3L1275.2 1137.0L1276.9 1136.8L1278.6 1136.5L1280.3 1136.2L1282.0 1135.9L1283.7 1135.7L1285.4 1135.4L1287.1 1135.2L1288.8 1134.9L1290.5 1134.7L1292.2 1134.4L1293.8 1134.2L1295.5 1133.9L1297.2 1133.7L1298.9 1133.5L1300.6 1133.2L1302.3 1133.0L1304.0 1132.8L1305.7 1132.6L1307.4 1132.4L1309.1 1132.2L1310.8 1131.9L1312.5 1131.7L1314.1 1131.5L1315.8 1131.3L1317.5 1131.1L1319.2 1130.9L1320.9 1130.7L1322.6 1130.6L1324.3 1130.4L1326.0 1130.2L1327.7 1130.0L1329.4 1129.8L1331.1 1129.6L1332.8 1129.5L1334.4 1129.3L1336.1 1129.1L1337.8 1129.0L1339.5 1128.8L1341.2 1128.6L1342.9 1128.5L1344.6 1128.3L1346.3 1128.1L1348.0 1128.0L1349.7 1127.8L1351.4 1127.7L1353.0 1127.5L1354.7 1127.4L1356.4 1127.2L1358.1 1127.1L1359.8 1126.9L1361.5 1126.8L1363.2 1126.7L1364.9 1126.5L1366.6 1126.4L1368.3 1126.2L1370.0 1126.1L1371.7 1126.0L1373.3 1125.9L1375.0 1125.7L1376.7 1125.6L1378.4 1125.5L1380.1 1125.3L1381.8 1125.2L1383.5 1125.1L1385.2 1125.0L1386.9 1124.9L1388.6 1124.7L1390.3 1124.6L1392.0 1124.5L1393.6 1124.4L1395.3 1124.3L1397.0 1124.2L1398.7 1124.1L1400.4 1124.0L1402.1 1123.8L1403.8 1123.7L1405.5 1123.6L1407.2 1123.5L1408.9 1123.4L1410.6 1123.3L1412.2 1123.2L1413.9 1123.1L1415.6 1123.0L1417.3 1122.9L1419.0 1122.8L1420.7 1122.7L1422.4 1122.6L1424.1 1122.6L1425.8 1122.5L1427.5 1122.4L1429.2 1122.3L1430.9 1122.2L1432.5 1122.1L1434.2 1122.0L1435.9 1121.9L1437.6 1121.8L1439.3 1121.8L1441.0 1121.7L1442.7 1121.6L1444.4 1121.5L1446.1 1121.4L1447.8 1121.3L1449.5 1121.3L1451.2 1121.2L1452.8 1121.1L1454.5 1121.0L1456.2 1120.9L1457.9 1120.9L1459.6 1120.8L1461.3 1120.7L1463.0 1120.6L1464.7 1120.6L1466.4 1120.5L1468.1 1120.4L1469.8 1120.4L1471.4 1120.3L1473.1 1120.2L1474.8 1120.1L1476.5 1120.1L1478.2 1120.0L1479.9 1119.9L1481.6 1119.9L1483.3 1119.8L1485.0 1119.7L1486.7 1119.7L1488.4 1119.6L1490.1 1119.6L1491.7 1119.5L1493.4 1119.4L1495.1 1119.4L1496.8 1119.3L1498.5 1119.2L1500.2 1119.2L1501.9 1119.1L1503.6 1119.1L1505.3 1119.0L1507.0 1118.9L1508.7 1118.9L1510.4 1118.8L1512.0 1118.8L1513.7 1118.7L1515.4 1118.7L1517.1 1118.6L1518.8 1118.6L1520.5 1118.5L1522.2 1118.4L1523.9 1118.4L1525.6 1118.3L1527.3 1118.3L1529.0 1118.2L1530.6 1118.2L1532.3 1118.1L1534.0 1118.1L1535.7 1118.0L1537.4 1118.0L1539.1 1117.9L1540.8 1117.9L1542.5 1117.8L1544.2 1117.8L1545.9 1117.7L1547.6 1117.7L1549.3 1117.7L1550.9 1117.6L1552.6 1117.6L1554.3 1117.5L1556.0 1117.5L1557.7 1117.4L1559.4 1117.4L1561.1 1117.3L1562.8 1117.3L1564.5 1117.2L1566.2 1117.2L1567.9 1117.2L1569.6 1117.1L1571.2 1117.1L1572.9 1117.0L1574.6 1117.0L1576.3 1117.0L1578.0 1116.9L1579.7 1116.9L1581.4 1116.8L1583.1 1116.8L1584.8 1116.8L1586.5 1116.7L1588.2 1116.7L1589.8 1116.6L1591.5 1116.6L1593.2 1116.6L1594.9 1116.5L1596.6 1116.5L1598.3 1116.4L1600.0 1116.4L1601.7 1116.4L1603.4 1116.3L1605.1 1116.3L1606.8 1116.3L1608.5 1116.2L1610.1 1116.2L1611.8 1116.2L1613.5 1116.1L1615.2 1116.1L1616.9 1116.1L1618.6 1116.0L1620.3 1116.0L1622.0 1116.0L1623.7 1115.9L1625.4 1115.9L1627.1 1115.9L1628.8 1115.8L1630.4 1115.8L1632.1 1115.8L1633.8 1115.7L1635.5 1115.7L1637.2 1115.7L1638.9 1115.6L1640.6 1115.6L1642.3 1115.6L1644.0 1115.5L1645.7 1115.5L1647.4 1115.5L1649.1 1115.5L1650.7 1115.4L1652.4 1115.4L1654.1 1115.4L1655.8 1115.3L1657.5 1115.3L1659.2 1115.3L1660.9 1115.3L1662.6 1115.2L1664.3 1115.2L1666.0 1115.2L1667.7 1115.1L1669.3 1115.1L1671.0 1115.1L1672.7 1115.1L1674.4 1115.0L1676.1 1115.0L1677.8 1115.0L1679.5 1115.0L1681.2 1114.9L1682.9 1114.9L1684.6 1114.9L1686.3 1114.9L1688.0 1114.8L1689.6 1114.8L1691.3 1114.8L1693.0 1114.7L1694.7 1114.7L1696.4 1114.7L1698.1 1114.7L1699.8 1114.7L1701.5 1114.6L1703.2 1114.6L1704.9 1114.6L1706.6 1114.6L1708.3 1114.5L1709.9 1114.5L1711.6 1114.5L1713.3 1114.5L1715.0 1114.4L1716.7 1114.4L1718.4 1114.4L1720.1 1114.4L1721.8 1114.3L1723.5 1114.3L1725.2 1114.3L1726.9 1114.3L1728.5 1114.3L1730.2 1114.2L1731.9 1114.2L1733.6 1114.2L1735.3 1114.2L1737.0 1114.1L1738.7 1114.1L1740.4 1114.1L1742.1 1114.1L1743.8 1114.1L1745.5 1114.0L1747.2 1114.0L1748.8 1114.0L1750.5 1114.0L1752.2 1114.0L1753.9 1113.9L1755.6 1113.9L1757.3 1113.9L1759.0 1113.9L1760.7 1113.9L1762.4 1113.8L1764.1 1113.8L1765.8 1113.8L1767.5 1113.8L1769.1 1113.8L1770.8 1113.7L1772.5 1113.7L1774.2 1113.7L1775.9 1113.7L1777.6 1113.7L1779.3 1113.6L1781.0 1113.6L1782.7 1113.6L1784.4 1113.6L1786.1 1113.6L1787.7 1113.5L1789.4 1113.5L1791.1 1113.5L1792.8 1113.5L1794.5 1113.5L1796.2 1113.5L1797.9 1113.4L1799.6 1113.4L1801.3 1113.4L1803.0 1113.4L1804.7 1113.4L1806.4 1113.3L1808.0 1113.3L1809.7 1113.3L1811.4 1113.3L1813.1 1113.3L1814.8 1113.3L1816.5 1113.2L1818.2 1113.2L1819.9 1113.2L1821.6 1113.2L1823.3 1113.2L1825.0 1113.2L1826.7 1113.1L1828.3 1113.1L1830.0 1113.1L1831.7 1113.1L1833.4 1113.1L1835.1 1113.1L1836.8 1113.0L1838.5 1113.0L1840.2 1113.0L1841.9 1113.0L1843.6 1113.0L1845.3 1113.0L1846.9 1112.9L1848.6 1112.9L1850.3 1112.9L1852.0 1112.9L1853.7 1112.9L1855.4 1112.9L1857.1 1112.8L1858.8 1112.8L1860.5 1112.8L1862.2 1112.8L1863.9 1112.8L1865.6 1112.8L1867.2 1112.7L1868.9 1112.7L1870.6 1112.7L1872.3 1112.7L1874.0 1112.7L1875.7 1112.7L1877.4 1112.6L1879.1 1112.6L1880.8 1112.6L1882.5 1112.6L1884.2 1112.6L1885.9 1112.6L1887.5 1112.6L1889.2 1112.5L1890.9 1112.5L1892.6 1112.5L1894.3 1112.5L1896.0 1112.5L1897.7 1112.5L1899.4 1112.4L1901.1 1112.4L1902.8 1112.4L1904.5 1112.4L1906.1 1112.4L1907.8 1112.4L1909.5 1112.4L1911.2 1112.3L1912.9 1112.3L1914.6 1112.3L1916.3 1112.3L1918.0 1112.3L1919.7 1112.3L1921.4 1112.2L1923.1 1112.2L1924.8 1112.2L1926.4 1112.2L1928.1 1112.2L1929.8 1112.2L1931.5 1112.2L1933.2 1112.1L1934.9 1112.1L1936.6 1112.1L1938.3 1112.1L1940.0 1112.1L1941.7 1112.1L1943.4 1112.1L1945.1 1112.0L1946.7 1112.0L1948.4 1112.0L1950.1 1112.0L1951.8 1112.0L1953.5 1112.0L1955.2 1111.9L1956.9 1111.9L1958.6 1111.9L1960.3 1111.9L1962.0 1111.9L1963.7 1111.9L1965.4 1111.9L1967.0 1111.8L1968.7 1111.8L1970.4 1111.8L1972.1 1111.8L1973.8 1111.8L1975.5 1111.8L1977.2 1111.8L1978.9 1111.7L1980.6 1111.7L1982.3 1111.7L1983.1 1111.7" stroke="#0000ff" stroke-width="8.4"/>
<path d="M292.1 1435.0L293.8 1435.0L295.5 1434.9L297.2 1434.9L298.9 1434.8L300.5 1434.8L302.2 1434.7L303.9 1434.7L305.6 1434.7L307.3 1434.6L309.0 1434.6L310.7 1434.5L312.4 1434.5L314.1 1434.4L315.8 1434.4L317.5 1434.4L319.2 1434.3L320.8 1434.3L322.5 1434.2L324.2 1434.2L325.9 1434.2L327.6 1434.1L329.3 1434.1L331.0 1434.0L332.7 1434.0L334.4 1433.9L336.1 1433.9L337.8 1433.9L339.5 1433.8L341.1 1433.8L342.8 1433.7L344.5 1433.7L346.2 1433.6L347.9 1433.6L349.6 1433.6L351.3 1433.5L353.0 1433.5L354.7 1433.4L356.4 1433.4L358.1 1433.4L359.7 1433.3L361.4 1433.3L363.1 1433.2L364.8 1433.2L366.5 1433.1L368.2 1433.1L369.9 1433.1L371.6 1433.0L373.3 1433.0L375.0 1432.9L376.7 1432.9L378.4 1432.9L380.0 1432.8L381.7 1432.8L383.4 1432.7L385.1 1432.7L386.8 1432.6L388.5 1432.6L390.2 1432.6L391.9 1432.5L393.6 1432.5L395.3 1432.4L397.0 1432.4L398.7 1432.4L400.3 1432.3L402.0 1432.3L403.7 1432.2L405.4 1432.2L407.1 1432.2L408.8 1432.1L410.5 1432.1L412.2 1432.0L413.9 1432.0L415.6 1431.9L417.3 1431.9L418.9 1431.9L420.6 1431.8L422.3 1431.8L424.0 1431.7L425.7 1431.7L427.4 1431.6L429.1 1431.6L430.8 1431.6L432.5 1431.5L434.2 1431.5L435.9 1431.4L437.6 1431.4L439.2 1431.4L440.9 1431.3L442.6 1431.3L444.3 1431.2L446.0 1431.2L447.7 1431.1L449.4 1431.1L451.1 1431.1L452.8 1431.0L454.5 1431.0L456.2 1430.9L457.9 1430.9L459.5 1430.8L461.2 1430.8L462.9 1430.8L464.6 1430.7L466.3 1430.7L468.0 1430.6L469.7 1430.6L471.4 1430.5L473.1 1430.5L474.8 1430.4L476.5 1430.4L478.1 1430.4L479.8 1430.3L481.5 1430.3L483.2 1430.2L484.9 1430.2L486.6 1430.1L488.3 1430.1L490.0 1430.1L491.7 1430.0L493.4 1430.0L495.1 1429.9L496.8 1429.9L498.4 1429.8L500.1 1429.8L501.8 1429.7L503.5 1429.7L505.2 1429.6L506.9 1429.6L508.6 1429.6L510.3 1429.5L512.0 1429.5L513.7 1429.4L515.4 1429.4L517.1 1429.3L518.7 1429.3L520.4 1429.2L522.1 1429.2L523.8 1429.1L525.5 1429.1L527.2 1429.0L528.9 1429.0L530.6 1429.0L532.3 1428.9L534.0 1428.9L535.7 1428.8L537.3 1428.8L539.0 1428.7L540.7 1428.7L542.4 1428.6L544.1 1428.6L545.8 1428.5L547.5 1428.5L549.2 1428.4L550.9 1428.4L552.6 1428.3L554.3 1428.3L556.0 1428.2L557.6 1428.2L559.3 1428.1L561.0 1428.1L562.7 1428.0L564.4 1428.0L566.1 1427.9L567.8 1427.9L569.5 1427.8L571.2 1427.8L572.9 1427.7L574.6 1427.7L576.3 1427.6L577.9 1427.6L579.6 1427.5L581.3 1427.5L583.0 1427.4L584.7 1427.4L586.4 1427.3L588.1 1427.2L589.8 1427.2L591.5 1427.1L593.2 1427.1L594.9 1427.0L596.5 1427.0L598.2 1426.9L599.9 1426.9L601.6 1426.8L603.3 1426.8L605.0 1426.7L606.7 1426.6L608.4 1426.6L610.1 1426.5L611.8 1426.5L613.5 1426.4L615.2 1426.4L616.8 1426.3L618.5 1426.2L620.2 1426.2L621.9 1426.1L623.6 1426.1L625.3 1426.0L627.0 1425.9L628.7 1425.9L630.4 1425.8L632.1 1425.8L633.8 1425.7L635.5 1425.6L637.1 1425.6L638.8 1425.5L640.5 1425.5L642.2 1425.4L643.9 1425.3L645.6 1425.3L647.3 1425.2L649.0 1425.1L650.7 1425.1L652.4 1425.0L654.1 1425.0L655.7 1424.9L657.4 1424.8L659.1 1424.8L660.8 1424.7L662.5 1424.6L664.2 1424.6L665.9 1424.5L667.6 1424.4L669.3 1424.4L671.0 1424.3L672.7 1424.2L674.4 1424.1L676.0 1424.1L677.7 1424.0L679.4 1423.9L681.1 1423.9L682.8 1423.8L684.5 1423.7L686.2 1423.6L687.9 1423.6L689.6 1423.5L691.3 1423.4L693.0 1423.4L694.7 1423.3L696.3 1423.2L698.0 1423.1L699.7 1423.0L701.4 1423.0L703.1 1422.9L704.8 1422.8L706.5 1422.7L708.2 1422.7L709.9 1422.6L711.6 1422.5L713.3 1422.4L715.0 1422.3L716.6 1422.3L718.3 1422.2L720.0 1422.1L721.7 1422.0L723.4 1421.9L725.1 1421.8L726.8 1421.8L728.5 1421.7L730.2 1421.6L731.9 1421.5L733.6 1421.4L735.2 1421.3L736.9 1421.2L738.6 1421.1L740.3 1421.1L742.0 1421.0L743.7 1420.9L745.4 1420.8L747.1 1420.7L748.8 1420.6L750.5 1420.5L752.2 1420.4L753.9 1420.3L755.5 1420.2L757.2 1420.1L758.9 1420.0L760.6 1419.9L762.3 1419.8L764.0 1419.7L765.7 1419.6L767.4 1419.5L769.1 1419.4L770.8 1419.3L772.5 1419.2L774.2 1419.1L775.8 1419.0L777.5 1418.9L779.2 1418.8L780.9 1418.7L782.6 1418.6L784.3 1418.5L786.0 1418.4L787.7 1418.2L789.4 1418.1L791.1 1418.0L792.8 1417.9L794.4 1417.8L796.1 1417.7L797.8 1417.6L799.5 1417.4L801.2 1417.3L802.9 1417.2L804.6 1417.1L806.3 1417.0L808.0 1416.8L809.7 1416.7L811.4 1416.6L813.1 1416.5L814.7 1416.3L816.4 1416.2L818.1 1416.1L819.8 1415.9L821.5 1415.8L823.2 1415.7L824.9 1415.5L826.6 1415.4L828.3 1415.3L830.0 1415.1L831.7 1415.0L833.4 1414.9L835.0 1414.7L836.7 1414.6L838.4 1414.4L840.1 1414.3L841.8 1414.1L843.5 1414.0L845.2 1413.8L846.9 1413.7L848.6 1413.5L850.3 1413.4L852.0 1413.2L853.6 1413.1L855.3 1412.9L857.0 1412.8L858.7 1412.6L860.4 1412.4L862.1 1412.3L863.8 1412.1L865.5 1412.0L867.2 1411.8L868.9 1411.6L870.6 1411.4L872.3 1411.3L873.9 1411.1L875.6 1410.9L877.3 1410.7L879.0 1410.6L880.7 1410.4L882.4 1410.2L884.1 1410.0L885.8 1409.8L887.5 1409.6L889.2 1409.5L890.9 1409.3L892.6 1409.1L894.2 1408.9L895.9 1408.7L897.6 1408.5L899.3 1408.3L901.0 1408.1L902.7 1407.9L904.4 1407.7L906.1 1407.4L907.8 1407.2L909.5 1407.0L911.2 1406.8L912.8 1406.6L914.5 1406.4L916.2 1406.1L917.9 1405.9L919.6 1405.7L921.3 1405.5L923.0 1405.2L924.7 1405.0L926.4 1404.8L928.1 1404.5L929.8 1404.3L931.5 1404.0L933.1 1403.8L934.8 1403.5L936.5 1403.3L938.2 1403.0L939.9 1402.8L941.6 1402.5L943.3 1402.2L945.0 1402.0L946.7 1401.7L948.4 1401.4L950.1 1401.2L951.8 1400.9L953.4 1400.6L955.1 1400.3L956.8 1400.0L958.5 1399.7L960.2 1399.4L961.9 1399.1L963.6 1398.8L965.3 1398.5L967.0 1398.2L968.7 1397.9L970.4 1397.6L972.0 1397.3L973.7 1397.0L975.4 1396.6L977.1 1396.3L978.8 1396.0L980.5 1395.6L982.2 1395.3L983.9 1394.9L985.6 1394.6L987.3 1394.2L989.0 1393.9L990.7 1393.5L992.3 1393.2L994.0 1392.8L995.7 1392.4L997.4 1392.0L999.1 1391.6L1000.8 1391.3L1002.5 1390.9L1004.2 1390.5L1005.9 1390.1L1007.6 1389.7L1009.3 1389.2L1011.0 1388.8L1012.6 1388.4L1014.3 1388.0L1016.0 1387.5L1017.7 1387.1L1019.4 1386.7L1021.1 1386.2L1022.8 1385.8L1024.5 1385.3L1026.2 1384.8L1027.9 1384.4L1029.6 1383.9L1031.3 1383.4L1032.9 1382.9L1034.6 1382.4L1036.3 1381.9L1038.0 1381.4L1039.7 1380.9L1041.4 1380.4L1043.1 1379.8L1044.8 1379.3L1046.5 1378.8L1048.2 1378.2L1049.9 1377.7L1051.5 1377.1L1053.2 1376.5L1054.9 1375.9L1056.6 1375.4L1058.3 1374.8L1060.0 1374.2L1061.7 1373.6L1063.4 1372.9L1065.1 1372.3L1066.8 1371.7L1068.5 1371.1L1070.2 1370.4L1071.8 1369.8L1073.5 1369.1L1075.2 1368.4L1076.9 1367.7L1078.6 1367.0L1080.3 1366.3L1082.0 1365.6L1083.7 1364.9L1085.4 1364.2L1087.1 1363.5L1088.8 1362.7L1090.5 1362.0L1092.1 1361.2L1093.8 1360.4L1095.5 1359.6L1097.2 1358.8L1098.9 1358.0L1100.6 1357.2L1102.3 1356.4L1104.0 1355.6L1105.7 1354.7L1107.4 1353.9L1109.1 1353.0L1110.7 1352.1L1112.4 1351.2L1114.1 1350.4L1115.8 1349.4L1117.5 1348.5L1119.2 1347.6L1120.9 1346.7L1122.6 1345.7L1124.3 1344.7L1126.0 1343.8L1127.7 1342.8L1129.4 1341.8L1131.0 1340.8L1132.7 1339.8L1134.4 1338.7L1136.1 1337.7L1137.8 1336.6L1139.5 1335.6L1140.8 1334.8L1142.0 1333.9L1143.3 1333.1L1144.6 1332.3L1145.8 1331.5L1147.1 1330.6L1148.4 1329.8L1149.7 1328.9L1150.9 1328.1L1152.2 1327.2L1153.5 1326.3L1154.7 1325.5L1156.0 1324.6L1157.3 1323.7L1158.5 1322.8L1159.8 1321.9L1161.1 1321.0L1162.3 1320.1L1163.6 1319.2L1164.9 1318.2L1166.1 1317.3L1167.4 1316.4L1168.7 1315.4L1169.9 1314.5L1171.2 1313.5L1172.5 1312.6L1173.8 1311.6L1175.0 1310.7L1176.3 1309.7L1177.6 1308.7L1178.8 1307.7L1180.1 1306.7L1181.4 1305.7L1182.6 1304.8L1183.9 1303.8L1185.2 1302.8L1186.4 1301.7L1187.7 1300.7L1189.0 1299.7L1190.2 1298.7L1191.5 1297.7L1192.8 1296.7L1194.1 1295.6L1195.3 1294.6L1196.6 1293.6L1197.9 1292.5L1199.1 1291.5L1200.4 1290.5L1201.7 1289.4L1202.9 1288.4L1204.2 1287.3L1205.5 1286.3L1206.7 1285.2L1208.0 1284.2L1209.3 1283.1L1210.5 1282.1L1211.8 1281.0L1213.1 1280.0L1214.3 1278.9L1215.6 1277.8L1216.9 1276.8L1218.2 1275.7L1219.4 1274.7L1220.7 1273.6L1222.0 1272.6L1223.2 1271.5L1224.5 1270.5L1225.8 1269.4L1227.0 1268.4L1228.3 1267.3L1229.6 1266.3L1230.8 1265.2L1232.1 1264.2L1233.4 1263.1L1234.6 1262.1L1235.9 1261.1L1237.2 1260.0L1238.5 1259.0L1239.7 1258.0L1241.0 1257.0L1242.3 1255.9L1243.5 1254.9L1244.8 1253.9L1246.1 1252.9L1247.3 1251.9L1248.6 1250.9L1249.9 1249.9L1251.1 1248.9L1252.4 1247.9L1253.7 1246.9L1254.9 1245.9L1256.2 1245.0L1257.5 1244.0L1258.7 1243.0L1260.0 1242.1L1261.3 1241.1L1262.6 1240.2L1263.8 1239.2L1265.1 1238.3L1266.4 1237.4L1267.6 1236.4L1268.9 1235.5L1270.2 1234.6L1271.4 1233.7L1272.7 1232.8L1274.0 1231.9L1275.2 1231.0L1276.5 1230.1L1277.8 1229.2L1279.0 1228.4L1280.3 1227.5L1281.6 1226.6L1282.9 1225.8L1284.1 1224.9L1285.4 1224.1L1286.7 1223.2L1287.9 1222.4L1289.2 1221.6L1290.5 1220.8L1291.7 1220.0L1293.0 1219.2L1294.7 1218.1L1296.4 1217.0L1298.1 1216.0L1299.8 1215.0L1301.5 1214.0L1303.2 1213.0L1304.8 1212.0L1306.5 1211.0L1308.2 1210.0L1309.9 1209.0L1311.6 1208.1L1313.3 1207.2L1315.0 1206.2L1316.7 1205.3L1318.4 1204.4L1320.1 1203.5L1321.8 1202.6L1323.4 1201.8L1325.1 1200.9L1326.8 1200.0L1328.5 1199.2L1330.2 1198.4L1331.9 1197.6L1333.6 1196.7L1335.3 1195.9L1337.0 1195.2L1338.7 1194.4L1340.4 1193.6L1342.1 1192.8L1343.7 1192.1L1345.4 1191.4L1347.1 1190.6L1348.8 1189.9L1350.5 1189.2L1352.2 1188.5L1353.9 1187.8L1355.6 1187.1L1357.3 1186.4L1359.0 1185.7L1360.7 1185.1L1362.4 1184.4L1364.0 1183.8L1365.7 1183.2L1367.4 1182.5L1369.1 1181.9L1370.8 1181.3L1372.5 1180.7L1374.2 1180.1L1375.9 1179.5L1377.6 1178.9L1379.3 1178.3L1381.0 1177.8L1382.6 1177.2L1384.3 1176.7L1386.0 1176.1L1387.7 1175.6L1389.4 1175.1L1391.1 1174.5L1392.8 1174.0L1394.5 1173.5L1396.2 1173.0L1397.9 1172.5L1399.6 1172.0L1401.3 1171.5L1402.9 1171.0L1404.6 1170.6L1406.3 1170.1L1408.0 1169.6L1409.7 1169.2L1411.4 1168.7L1413.1 1168.3L1414.8 1167.8L1416.5 1167.4L1418.2 1167.0L1419.9 1166.5L1421.6 1166.1L1423.2 1165.7L1424.9 1165.3L1426.6 1164.9L1428.3 1164.5L1430.0 1164.1L1431.7 1163.7L1433.4 1163.3L1435.1 1162.9L1436.8 1162.6L1438.5 1162.2L1440.2 1161.8L1441.8 1161.5L1443.5 1161.1L1445.2 1160.7L1446.9 1160.4L1448.6 1160.0L1450.3 1159.7L1452.0 1159.4L1453.7 1159.0L1455.4 1158.7L1457.1 1158.4L1458.8 1158.0L1460.5 1157.7L1462.1 1157.4L1463.8 1157.1L1465.5 1156.8L1467.2 1156.5L1468.9 1156.2L1470.6 1155.9L1472.3 1155.6L1474.0 1155.3L1475.7 1155.0L1477.4 1154.7L1479.1 1154.4L1480.8 1154.2L1482.4 1153.9L1484.1 1153.6L1485.8 1153.3L1487.5 1153.1L1489.2 1152.8L1490.9 1152.6L1492.6 1152.3L1494.3 1152.0L1496.0 1151.8L1497.7 1151.5L1499.4 1151.3L1501.0 1151.0L1502.7 1150.8L1504.4 1150.6L1506.1 1150.3L1507.8 1150.1L1509.5 1149.9L1511.2 1149.6L1512.9 1149.4L1514.6 1149.2L1516.3 1149.0L1518.0 1148.7L1519.7 1148.5L1521.3 1148.3L1523.0 1148.1L1524.7 1147.9L1526.4 1147.7L1528.1 1147.5L1529.8 1147.3L1531.5 1147.1L1533.2 1146.9L1534.9 1146.7L1536.6 1146.5L1538.3 1146.3L1540.0 1146.1L1541.6 1145.9L1543.3 1145.7L1545.0 1145.5L1546.7 1145.3L1548.4 1145.1L1550.1 1145.0L1551.8 1144.8L1553.5 1144.6L1555.2 1144.4L1556.9 1144.3L1558.6 1144.1L1560.2 1143.9L1561.9 1143.7L1563.6 1143.6L1565.3 1143.4L1567.0 1143.2L1568.7 1143.1L1570.4 1142.9L1572.1 1142.8L1573.8 1142.6L1575.5 1142.4L1577.2 1142.3L1578.9 1142.1L1580.5 1142.0L1582.2 1141.8L1583.9 1141.7L1585.6 1141.5L1587.3 1141.4L1589.0 1141.2L1590.7 1141.1L1592.4 1141.0L1594.1 1140.8L1595.8 1140.7L1597.5 1140.5L1599.2 1140.4L1600.8 1140.3L1602.5 1140.1L1604.2 1140.0L1605.9 1139.9L1607.6 1139.7L1609.3 1139.6L1611.0 1139.5L1612.7 1139.3L1614.4 1139.2L1616.1 1139.1L1617.8 1139.0L1619.5 1138.8L1621.1 1138.7L1622.8 1138.6L1624.5 1138.5L1626.2 1138.4L1627.9 1138.2L1629.6 1138.1L1631.3 1138.0L1633.0 1137.9L1634.7 1137.8L1636.4 1137.7L1638.1 1137.6L1639.7 1137.4L1641.4 1137.3L1643.1 1137.2L1644.8 1137.1L1646.5 1137.0L1648.2 1136.9L1649.9 1136.8L1651.6 1136.7L1653.3 1136.6L1655.0 1136.5L1656.7 1136.4L1658.4 1136.3L1660.0 1136.2L1661.7 1136.1L1663.4 1136.0L1665.1 1135.9L1666.8 1135.8L1668.5 1135.7L1670.2 1135.6L1671.9 1135.5L1673.6 1135.4L1675.3 1135.3L1677.0 1135.2L1678.7 1135.1L1680.3 1135.0L1682.0 1134.9L1683.7 1134.9L1685.4 1134.8L1687.1 1134.7L1688.8 1134.6L1690.5 1134.5L1692.2 1134.4L1693.9 1134.3L1695.6 1134.2L1697.3 1134.2L1698.9 1134.1L1700.6 1134.0L1702.3 1133.9L1704.0 1133.8L1705.7 1133.7L1707.4 1133.7L1709.1 1133.6L1710.8 1133.5L1712.5 1133.4L1714.2 1133.3L1715.9 1133.3L1717.6 1133.2L1719.2 1133.1L1720.9 1133.0L1722.6 1133.0L1724.3 1132.9L1726.0 1132.8L1727.7 1132.7L1729.4 1132.7L1731.1 1132.6L1732.8 1132.5L1734.5 1132.4L1736.2 1132.4L1737.9 1132.3L1739.5 1132.2L1741.2 1132.2L1742.9 1132.1L1744.6 1132.0L1746.3 1132.0L1748.0 1131.9L1749.7 1131.8L1751.4 1131.8L1753.1 1131.7L1754.8 1131.6L1756.5 1131.6L1758.1 1131.5L1759.8 1131.4L1761.5 1131.4L1763.2 1131.3L1764.9 1131.2L1766.6 1131.2L1768.3 1131.1L1770.0 1131.0L1771.7 1131.0L1773.4 1130.9L1775.1 1130.9L1776.8 1130.8L1778.4 1130.7L1780.1 1130.7L1781.8 1130.6L1783.5 1130.6L1785.2 1130.5L1786.9 1130.4L1788.6 1130.4L1790.3 1130.3L1792.0 1130.3L1793.7 1130.2L1795.4 1130.2L1797.1 1130.1L1798.7 1130.0L1800.4 1130.0L1802.1 1129.9L1803.8 1129.9L1805.5 1129.8L1807.2 1129.8L1808.9 1129.7L1810.6 1129.7L1812.3 1129.6L1814.0 1129.6L1815.7 1129.5L1817.3 1129.5L1819.0 1129.4L1820.7 1129.3L1822.4 1129.3L1824.1 1129.2L1825.8 1129.2L1827.5 1129.1L1829.2 1129.1L1830.9 1129.0L1832.6 1129.0L1834.3 1128.9L1836.0 1128.9L1837.6 1128.8L1839.3 1128.8L1841.0 1128.7L1842.7 1128.7L1844.4 1128.6L1846.1 1128.6L1847.8 1128.5L1849.5 1128.5L1851.2 1128.5L1852.9 1128.4L1854.6 1128.4L1856.3 1128.3L1857.9 1128.3L1859.6 1128.2L1861.3 1128.2L1863.0 1128.1L1864.7 1128.1L1866.4 1128.0L1868.1 1128.0L1869.8 1127.9L1871.5 1127.9L1873.2 1127.9L1874.9 1127.8L1876.5 1127.8L1878.2 1127.7L1879.9 1127.7L1881.6 1127.6L1883.3 1127.6L1885.0 1127.6L1886.7 1127.5L1888.4 1127.5L1890.1 1127.4L1891.8 1127.4L1893.5 1127.3L1895.2 1127.3L1896.8 1127.3L1898.5 1127.2L1900.2 1127.2L1901.9 1127.1L1903.6 1127.1L1905.3 1127.0L1907.0 1127.0L1908.7 1127.0L1910.4 1126.9L1912.1 1126.9L1913.8 1126.8L1915.5 1126.8L1917.1 1126.8L1918.8 1126.7L1920.5 1126.7L1922.2 1126.6L1923.9 1126.6L1925.6 1126.6L1927.3 1126.5L1929.0 1126.5L1930.7 1126.4L1932.4 1126.4L1934.1 1126.4L1935.7 1126.3L1937.4 1126.3L1939.1 1126.2L1940.8 1126.2L1942.5 1126.2L1944.2 1126.1L1945.9 1126.1L1947.6 1126.1L1949.3 1126.0L1951.0 1126.0L1952.7 1125.9L1954.4 1125.9L1956.0 1125.9L1957.7 1125.8L1959.4 1125.8L1961.1 1125.8L1962.8 1125.7L1964.5 1125.7L1966.2 1125.6L1967.9 1125.6L1969.6 1125.6L1971.3 1125.5L1973.0 1125.5L1974.7 1125.5L1976.3 1125.4L1978.0 1125.4L1979.7 1125.4L1981.4 1125.3L1983.1 1125.3" stroke="#00ff00" stroke-width="8.4"/>
<path d="M292.1 1530.0L293.8 1530.0L295.5 1530.0L297.2 1529.9L298.9 1529.9L300.5 1529.9L302.2 1529.9L303.9 1529.9L305.6 1529.8L307.3 1529.8L309.0 1529.8L310.7 1529.8L312.4 1529.8L314.1 1529.7L315.8 1529.7L317.5 1529.7L319.2 1529.7L320.8 1529.6L322.5 1529.6L324.2 1529.6L325.9 1529.6L327.6 1529.5L329.3 1529.5L331.0 1529.5L332.7 1529.5L334.4 1529.5L336.1 1529.4L337.8 1529.4L339.5 1529.4L341.1 1529.4L342.8 1529.3L344.5 1529.3L346.2 1529.3L347.9 1529.3L349.6 1529.2L351.3 1529.2L353.0 1529.2L354.7 1529.2L356.4 1529.1L358.1 1529.1L359.7 1529.1L361.4 1529.0L363.1 1529.0L364.8 1529.0L366.5 1529.0L368.2 1528.9L369.9 1528.9L371.6 1528.9L373.3 1528.9L375.0 1528.8L376.7 1528.8L378.4 1528.8L380.0 1528.7L381.7 1528.7L383.4 1528.7L385.1 1528.7L386.8 1528.6L388.5 1528.6L390.2 1528.6L391.9 1528.5L393.6 1528.5L395.3 1528.5L397.0 1528.4L398.7 1528.4L400.3 1528.4L402.0 1528.3L403.7 1528.3L405.4 1528.3L407.1 1528.3L408.8 1528.2L410.5 1528.2L412.2 1528.2L413.9 1528.1L415.6 1528.1L417.3 1528.1L418.9 1528.0L420.6 1528.0L422.3 1528.0L424.0 1527.9L425.7 1527.9L427.4 1527.9L429.1 1527.8L430.8 1527.8L432.5 1527.7L434.2 1527.7L435.9 1527.7L437.6 1527.6L439.2 1527.6L440.9 1527.6L442.6 1527.5L444.3 1527.5L446.0 1527.5L447.7 1527.4L449.4 1527.4L451.1 1527.3L452.8 1527.3L454.5 1527.3L456.2 1527.2L457.9 1527.2L459.5 1527.2L461.2 1527.1L462.9 1527.1L464.6 1527.0L466.3 1527.0L468.0 1527.0L469.7 1526.9L471.4 1526.9L473.1 1526.8L474.8 1526.8L476.5 1526.8L478.1 1526.7L479.8 1526.7L481.5 1526.6L483.2 1526.6L484.9 1526.5L486.6 1526.5L488.3 1526.5L490.0 1526.4L491.7 1526.4L493.4 1526.3L495.1 1526.3L496.8 1526.2L498.4 1526.2L500.1 1526.2L501.8 1526.1L503.5 1526.1L505.2 1526.0L506.9 1526.0L508.6 1525.9L510.3 1525.9L512.0 1525.8L513.7 1525.8L515.4 1525.7L517.1 1525.7L518.7 1525.6L520.4 1525.6L522.1 1525.5L523.8 1525.5L525.5 1525.4L527.2 1525.4L528.9 1525.4L530.6 1525.3L532.3 1525.3L534.0 1525.2L535.7 1525.2L537.3 1525.1L539.0 1525.0L540.7 1525.0L542.4 1524.9L544.1 1524.9L545.8 1524.8L547.5 1524.8L549.2 1524.7L550.9 1524.7L552.6 1524.6L554.3 1524.6L556.0 1524.5L557.6 1524.5L559.3 1524.4L561.0 1524.4L562.7 1524.3L564.4 1524.2L566.1 1524.2L567.8 1524.1L569.5 1524.1L571.2 1524.0L572.9 1524.0L574.6 1523.9L576.3 1523.8L577.9 1523.8L579.6 1523.7L581.3 1523.7L583.0 1523.6L584.7 1523.6L586.4 1523.5L588.1 1523.4L589.8 1523.4L591.5 1523.3L593.2 1523.2L594.9 1523.2L596.5 1523.1L598.2 1523.1L599.9 1523.0L601.6 1522.9L603.3 1522.9L605.0 1522.8L606.7 1522.7L608.4 1522.7L610.1 1522.6L611.8 1522.5L613.5 1522.5L615.2 1522.4L616.8 1522.3L618.5 1522.3L620.2 1522.2L621.9 1522.1L623.6 1522.1L625.3 1522.0L627.0 1521.9L628.7 1521.9L630.4 1521.8L632.1 1521.7L633.8 1521.7L635.5 1521.6L637.1 1521.5L638.8 1521.5L640.5 1521.4L642.2 1521.3L643.9 1521.2L645.6 1521.2L647.3 1521.1L649.0 1521.0L650.7 1520.9L652.4 1520.9L654.1 1520.8L655.7 1520.7L657.4 1520.6L659.1 1520.6L660.8 1520.5L662.5 1520.4L664.2 1520.3L665.9 1520.3L667.6 1520.2L669.3 1520.1L671.0 1520.0L672.7 1519.9L674.4 1519.9L676.0 1519.8L677.7 1519.7L679.4 1519.6L681.1 1519.5L682.8 1519.4L684.5 1519.4L686.2 1519.3L687.9 1519.2L689.6 1519.1L691.3 1519.0L693.0 1518.9L694.7 1518.9L696.3 1518.8L698.0 1518.7L699.7 1518.6L701.4 1518.5L703.1 1518.4L704.8 1518.3L706.5 1518.2L708.2 1518.1L709.9 1518.1L711.6 1518.0L713.3 1517.9L715.0 1517.8L716.6 1517.7L718.3 1517.6L720.0 1517.5L721.7 1517.4L723.4 1517.3L725.1 1517.2L726.8 1517.1L728.5 1517.0L730.2 1516.9L731.9 1516.8L733.6 1516.7L735.2 1516.6L736.9 1516.5L738.6 1516.4L740.3 1516.3L742.0 1516.2L743.7 1516.1L745.4 1516.0L747.1 1515.9L748.8 1515.8L750.5 1515.7L752.2 1515.6L753.9 1515.5L755.5 1515.4L757.2 1515.3L758.9 1515.2L760.6 1515.1L762.3 1515.0L764.0 1514.9L765.7 1514.8L767.4 1514.7L769.1 1514.6L770.8 1514.4L772.5 1514.3L774.2 1514.2L775.8 1514.1L777.5 1514.0L779.2 1513.9L780.9 1513.8L782.6 1513.6L784.3 1513.5L786.0 1513.4L787.7 1513.3L789.4 1513.2L791.1 1513.1L792.8 1512.9L794.4 1512.8L796.1 1512.7L797.8 1512.6L799.5 1512.5L801.2 1512.3L802.9 1512.2L804.6 1512.1L806.3 1512.0L808.0 1511.8L809.7 1511.7L811.4 1511.6L813.1 1511.5L814.7 1511.3L816.4 1511.2L818.1 1511.1L819.8 1510.9L821.5 1510.8L823.2 1510.7L824.9 1510.5L826.6 1510.4L828.3 1510.3L830.0 1510.1L831.7 1510.0L833.4 1509.9L835.0 1509.7L836.7 1509.6L838.4 1509.5L840.1 1509.3L841.8 1509.2L843.5 1509.0L845.2 1508.9L846.9 1508.7L848.6 1508.6L850.3 1508.5L852.0 1508.3L853.6 1508.2L855.3 1508.0L857.0 1507.9L858.7 1507.7L860.4 1507.6L862.1 1507.4L863.8 1507.3L865.5 1507.1L867.2 1507.0L868.9 1506.8L870.6 1506.7L872.3 1506.5L873.9 1506.3L875.6 1506.2L877.3 1506.0L879.0 1505.9L880.7 1505.7L882.4 1505.5L884.1 1505.4L885.8 1505.2L887.5 1505.0L889.2 1504.9L890.9 1504.7L892.6 1504.5L894.2 1504.4L895.9 1504.2L897.6 1504.0L899.3 1503.9L901.0 1503.7L902.7 1503.5L904.4 1503.3L906.1 1503.2L907.8 1503.0L909.5 1502.8L911.2 1502.6L912.8 1502.5L914.5 1502.3L916.2 1502.1L917.9 1501.9L919.6 1501.7L921.3 1501.5L923.0 1501.4L924.7 1501.2L926.4 1501.0L928.1 1500.8L929.8 1500.6L931.5 1500.4L933.1 1500.2L934.8 1500.0L936.5 1499.8L938.2 1499.6L939.9 1499.4L941.6 1499.2L943.3 1499.0L945.0 1498.8L946.7 1498.6L948.4 1498.4L950.1 1498.2L951.8 1498.0L953.4 1497.8L955.1 1497.6L956.8 1497.4L958.5 1497.1L960.2 1496.9L961.9 1496.7L963.6 1496.5L965.3 1496.3L967.0 1496.1L968.7 1495.8L970.4 1495.6L972.0 1495.4L973.7 1495.2L975.4 1494.9L977.1 1494.7L978.8 1494.5L980.5 1494.2L982.2 1494.0L983.9 1493.8L985.6 1493.5L987.3 1493.3L989.0 1493.1L990.7 1492.8L992.3 1492.6L994.0 1492.3L995.7 1492.1L997.4 1491.8L999.1 1491.6L1000.8 1491.3L1002.5 1491.1L1004.2 1490.8L1005.9 1490.6L1007.6 1490.3L1009.3 1490.1L1011.0 1489.8L1012.6 1489.5L1014.3 1489.3L1016.0 1489.0L1017.7 1488.7L1019.4 1488.5L1021.1 1488.2L1022.8 1487.9L1024.5 1487.7L1026.2 1487.4L1027.9 1487.1L1029.6 1486.8L1031.3 1486.5L1032.9 1486.3L1034.6 1486.0L1036.3 1485.7L1038.0 1485.4L1039.7 1485.1L1041.4 1484.8L1043.1 1484.5L1044.8 1484.2L1046.5 1483.9L1048.2 1483.6L1049.9 1483.3L1051.5 1483.0L1053.2 1482.7L1054.9 1482.4L1056.6 1482.0L1058.3 1481.7L1060.0 1481.4L1061.7 1481.1L1063.4 1480.8L1065.1 1480.4L1066.8 1480.1L1068.5 1479.8L1070.2 1479.4L1071.8 1479.1L1073.5 1478.8L1075.2 1478.4L1076.9 1478.1L1078.6 1477.7L1080.3 1477.4L1082.0 1477.0L1083.7 1476.7L1085.4 1476.3L1087.1 1476.0L1088.8 1475.6L1090.5 1475.2L1092.1 1474.9L1093.8 1474.5L1095.5 1474.1L1097.2 1473.7L1098.9 1473.4L1100.6 1473.0L1102.3 1472.6L1104.0 1472.2L1105.7 1471.8L1107.4 1471.4L1109.1 1471.0L1110.7 1470.6L1112.4 1470.2L1114.1 1469.8L1115.8 1469.4L1117.5 1469.0L1119.2 1468.5L1120.9 1468.1L1122.6 1467.7L1124.3 1467.3L1126.0 1466.8L1127.7 1466.4L1129.4 1465.9L1131.0 1465.5L1132.7 1465.0L1134.4 1464.6L1136.1 1464.1L1137.8 1463.7L1139.5 1463.2L1141.2 1462.7L1142.9 1462.3L1144.6 1461.8L1146.3 1461.3L1148.0 1460.8L1149.7 1460.3L1151.3 1459.8L1153.0 1459.3L1154.7 1458.8L1156.4 1458.3L1158.1 1457.8L1159.8 1457.3L1161.5 1456.8L1163.2 1456.2L1164.9 1455.7L1166.6 1455.2L1168.3 1454.6L1169.9 1454.1L1171.6 1453.5L1173.3 1453.0L1175.0 1452.4L1176.7 1451.8L1178.4 1451.3L1180.1 1450.7L1181.8 1450.1L1183.5 1449.5L1185.2 1448.9L1186.9 1448.3L1188.6 1447.7L1190.2 1447.1L1191.9 1446.5L1193.6 1445.9L1195.3 1445.2L1197.0 1444.6L1198.7 1443.9L1200.4 1443.3L1202.1 1442.6L1203.8 1442.0L1205.5 1441.3L1207.2 1440.6L1208.9 1439.9L1210.5 1439.2L1212.2 1438.5L1213.9 1437.8L1215.6 1437.1L1217.3 1436.4L1219.0 1435.7L1220.7 1435.0L1222.4 1434.2L1224.1 1433.5L1225.8 1432.7L1227.5 1431.9L1229.1 1431.2L1230.8 1430.4L1232.5 1429.6L1234.2 1428.8L1235.9 1428.0L1237.6 1427.2L1239.3 1426.4L1241.0 1425.6L1242.7 1424.7L1244.4 1423.9L1246.1 1423.0L1247.8 1422.2L1249.4 1421.3L1251.1 1420.5L1252.8 1419.6L1254.5 1418.7L1256.2 1417.8L1257.9 1416.9L1259.6 1416.0L1261.3 1415.0L1263.0 1414.1L1264.7 1413.2L1266.4 1412.2L1268.1 1411.3L1269.7 1410.3L1271.4 1409.3L1273.1 1408.4L1274.8 1407.4L1276.5 1406.4L1278.2 1405.4L1279.9 1404.4L1281.6 1403.4L1283.3 1402.3L1285.0 1401.3L1286.7 1400.3L1288.3 1399.2L1290.0 1398.2L1291.7 1397.1L1293.4 1396.1L1294.7 1395.3L1296.0 1394.5L1297.2 1393.6L1298.5 1392.8L1299.8 1392.0L1301.0 1391.2L1302.3 1390.4L1303.6 1389.6L1304.8 1388.7L1306.1 1387.9L1307.4 1387.1L1308.6 1386.2L1309.9 1385.4L1311.2 1384.6L1312.5 1383.7L1313.7 1382.9L1315.0 1382.0L1316.3 1381.2L1317.5 1380.3L1318.8 1379.5L1320.1 1378.6L1321.3 1377.8L1322.6 1376.9L1323.9 1376.1L1325.1 1375.2L1326.4 1374.4L1327.7 1373.5L1328.9 1372.7L1330.2 1371.8L1331.5 1371.0L1332.8 1370.1L1334.0 1369.2L1335.3 1368.4L1336.6 1367.5L1337.8 1366.7L1339.1 1365.8L1340.4 1365.0L1341.6 1364.1L1342.9 1363.3L1344.2 1362.4L1345.4 1361.6L1346.7 1360.7L1348.0 1359.9L1349.2 1359.0L1350.5 1358.2L1351.8 1357.3L1353.0 1356.5L1354.3 1355.7L1355.6 1354.8L1356.9 1354.0L1358.1 1353.2L1359.4 1352.3L1360.7 1351.5L1361.9 1350.7L1363.2 1349.9L1364.5 1349.1L1365.7 1348.2L1367.0 1347.4L1368.3 1346.6L1369.5 1345.8L1371.2 1344.8L1372.9 1343.7L1374.6 1342.6L1376.3 1341.6L1378.0 1340.6L1379.7 1339.5L1381.4 1338.5L1383.1 1337.5L1384.8 1336.5L1386.5 1335.5L1388.1 1334.5L1389.8 1333.5L1391.5 1332.5L1393.2 1331.5L1394.9 1330.6L1396.6 1329.6L1398.3 1328.6L1400.0 1327.7L1401.7 1326.8L1403.4 1325.9L1405.1 1324.9L1406.8 1324.0L1408.4 1323.1L1410.1 1322.2L1411.8 1321.3L1413.5 1320.5L1415.2 1319.6L1416.9 1318.7L1418.6 1317.9L1420.3 1317.0L1422.0 1316.2L1423.7 1315.4L1425.4 1314.6L1427.0 1313.7L1428.7 1312.9L1430.4 1312.1L1432.1 1311.4L1433.8 1310.6L1435.5 1309.8L1437.2 1309.0L1438.9 1308.3L1440.6 1307.5L1442.3 1306.8L1444.0 1306.1L1445.7 1305.3L1447.3 1304.6L1449.0 1303.9L1450.7 1303.2L1452.4 1302.5L1454.1 1301.8L1455.8 1301.1L1457.5 1300.4L1459.2 1299.7L1460.9 1299.1L1462.6 1298.4L1464.3 1297.8L1466.0 1297.1L1467.6 1296.5L1469.3 1295.8L1471.0 1295.2L1472.7 1294.6L1474.4 1294.0L1476.1 1293.4L1477.8 1292.8L1479.5 1292.2L1481.2 1291.6L1482.9 1291.0L1484.6 1290.4L1486.2 1289.8L1487.9 1289.3L1489.6 1288.7L1491.3 1288.1L1493.0 1287.6L1494.7 1287.0L1496.4 1286.5L1498.1 1286.0L1499.8 1285.4L1501.5 1284.9L1503.2 1284.4L1504.9 1283.9L1506.5 1283.3L1508.2 1282.8L1509.9 1282.3L1511.6 1281.8L1513.3 1281.3L1515.0 1280.8L1516.7 1280.3L1518.4 1279.9L1520.1 1279.4L1521.8 1278.9L1523.5 1278.4L1525.2 1278.0L1526.8 1277.5L1528.5 1277.1L1530.2 1276.6L1531.9 1276.2L1533.6 1275.7L1535.3 1275.3L1537.0 1274.8L1538.7 1274.4L1540.4 1274.0L1542.1 1273.5L1543.8 1273.1L1545.4 1272.7L1547.1 1272.3L1548.8 1271.9L1550.5 1271.4L1552.2 1271.0L1553.9 1270.6L1555.6 1270.2L1557.3 1269.8L1559.0 1269.4L1560.7 1269.1L1562.4 1268.7L1564.1 1268.3L1565.7 1267.9L1567.4 1267.5L1569.1 1267.2L1570.8 1266.8L1572.5 1266.4L1574.2 1266.0L1575.9 1265.7L1577.6 1265.3L1579.3 1265.0L1581.0 1264.6L1582.7 1264.3L1584.4 1263.9L1586.0 1263.6L1587.7 1263.2L1589.4 1262.9L1591.1 1262.5L1592.8 1262.2L1594.5 1261.9L1596.2 1261.5L1597.9 1261.2L1599.6 1260.9L1601.3 1260.6L1603.0 1260.2L1604.6 1259.9L1606.3 1259.6L1608.0 1259.3L1609.7 1259.0L1611.4 1258.7L1613.1 1258.4L1614.8 1258.1L1616.5 1257.7L1618.2 1257.4L1619.9 1257.1L1621.6 1256.9L1623.3 1256.6L1624.9 1256.3L1626.6 1256.0L1628.3 1255.7L1630.0 1255.4L1631.7 1255.1L1633.4 1254.8L1635.1 1254.6L1636.8 1254.3L1638.5 1254.0L1640.2 1253.7L1641.9 1253.5L1643.6 1253.2L1645.2 1252.9L1646.9 1252.6L1648.6 1252.4L1650.3 1252.1L1652.0 1251.9L1653.7 1251.6L1655.4 1251.3L1657.1 1251.1L1658.8 1250.8L1660.5 1250.6L1662.2 1250.3L1663.9 1250.1L1665.5 1249.8L1667.2 1249.6L1668.9 1249.3L1670.6 1249.1L1672.3 1248.9L1674.0 1248.6L1675.7 1248.4L1677.4 1248.1L1679.1 1247.9L1680.8 1247.7L1682.5 1247.4L1684.1 1247.2L1685.8 1247.0L1687.5 1246.8L1689.2 1246.5L1690.9 1246.3L1692.6 1246.1L1694.3 1245.9L1696.0 1245.6L1697.7 1245.4L1699.4 1245.2L1701.1 1245.0L1702.8 1244.8L1704.4 1244.6L1706.1 1244.3L1707.8 1244.1L1709.5 1243.9L1711.2 1243.7L1712.9 1243.5L1714.6 1243.3L1716.3 1243.1L1718.0 1242.9L1719.7 1242.7L1721.4 1242.5L1723.1 1242.3L1724.7 1242.1L1726.4 1241.9L1728.1 1241.7L1729.8 1241.5L1731.5 1241.3L1733.2 1241.1L1734.9 1241.0L1736.6 1240.8L1738.3 1240.6L1740.0 1240.4L1741.7 1240.2L1743.3 1240.0L1745.0 1239.8L1746.7 1239.7L1748.4 1239.5L1750.1 1239.3L1751.8 1239.1L1753.5 1238.9L1755.2 1238.8L1756.9 1238.6L1758.6 1238.4L1760.3 1238.2L1762.0 1238.1L1763.6 1237.9L1765.3 1237.7L1767.0 1237.6L1768.7 1237.4L1770.4 1237.2L1772.1 1237.1L1773.8 1236.9L1775.5 1236.7L1777.2 1236.6L1778.9 1236.4L1780.6 1236.2L1782.3 1236.1L1783.9 1235.9L1785.6 1235.8L1787.3 1235.6L1789.0 1235.5L1790.7 1235.3L1792.4 1235.1L1794.1 1235.0L1795.8 1234.8L1797.5 1234.7L1799.2 1234.5L1800.9 1234.4L1802.5 1234.2L1804.2 1234.1L1805.9 1233.9L1807.6 1233.8L1809.3 1233.7L1811.0 1233.5L1812.7 1233.4L1814.4 1233.2L1816.1 1233.1L1817.8 1232.9L1819.5 1232.8L1821.2 1232.7L1822.8 1232.5L1824.5 1232.4L1826.2 1232.3L1827.9 1232.1L1829.6 1232.0L1831.3 1231.8L1833.0 1231.7L1834.7 1231.6L1836.4 1231.4L1838.1 1231.3L1839.8 1231.2L1841.5 1231.1L1843.1 1230.9L1844.8 1230.8L1846.5 1230.7L1848.2 1230.5L1849.9 1230.4L1851.6 1230.3L1853.3 1230.2L1855.0 1230.0L1856.7 1229.9L1858.4 1229.8L1860.1 1229.7L1861.7 1229.6L1863.4 1229.4L1865.1 1229.3L1866.8 1229.2L1868.5 1229.1L1870.2 1229.0L1871.9 1228.9L1873.6 1228.7L1875.3 1228.6L1877.0 1228.5L1878.7 1228.4L1880.4 1228.3L1882.0 1228.2L1883.7 1228.1L1885.4 1227.9L1887.1 1227.8L1888.8 1227.7L1890.5 1227.6L1892.2 1227.5L1893.9 1227.4L1895.6 1227.3L1897.3 1227.2L1899.0 1227.1L1900.7 1227.0L1902.3 1226.9L1904.0 1226.8L1905.7 1226.7L1907.4 1226.6L1909.1 1226.5L1910.8 1226.4L1912.5 1226.3L1914.2 1226.2L1915.9 1226.1L1917.6 1226.0L1919.3 1225.9L1920.9 1225.8L1922.6 1225.7L1924.3 1225.6L1926.0 1225.5L1927.7 1225.4L1929.4 1225.3L1931.1 1225.2L1932.8 1225.1L1934.5 1225.0L1936.2 1224.9L1937.9 1224.8L1939.6 1224.7L1941.2 1224.6L1942.9 1224.5L1944.6 1224.4L1946.3 1224.4L1948.0 1224.3L1949.7 1224.2L1951.4 1224.1L1953.1 1224.0L1954.8 1223.9L1956.5 1223.8L1958.2 1223.7L1959.9 1223.7L1961.5 1223.6L1963.2 1223.5L1964.9 1223.4L1966.6 1223.3L1968.3 1223.2L1970.0 1223.2L1971.7 1223.1L1973.4 1223.0L1975.1 1222.9L1976.8 1222.8L1978.5 1222.8L1980.2 1222.7L1981.8 1222.6L1983.1 1222.5" stroke="#ff00ff" stroke-width="8.4"/>
</g>
<clipPath id="clipd"><rect x="295.5" y="1573.5" width="1677.5" height="419.4"/></clipPath>
<g clip-path="url(#clipd)" fill="none" stroke-linejoin="round" stroke-linecap="round">
<path d="M288.8 1573.8L290.5 1573.8L292.2 1573.8L293.9 1573.8L295.6 1573.8L297.2 1573.8L298.9 1573.8L300.6 1573.8L302.3 1573.8L304.0 1573.8L305.7 1573.8L307.4 1573.8L309.1 1573.8L310.8 1573.8L312.5 1573.8L314.2 1573.8L315.9 1573.8L317.5 1573.8L319.2 1573.8L320.9 1573.8L322.6 1573.8L324.3 1573.8L326.0 1573.8L327.7 1573.8L329.4 1573.8L331.1 1573.8L332.8 1573.8L334.5 1573.8L336.1 1573.8L337.8 1573.8L339.5 1573.8L341.2 1573.8L342.9 1573.8L344.6 1573.7L346.3 1573.7L348.0 1573.7L349.7 1573.7L351.4 1573.7L353.1 1573.7L354.8 1573.7L356.4 1573.7L358.1 1573.7L359.8 1573.7L361.5 1573.7L363.2 1573.7L364.9 1573.7L366.6 1573.7L368.3 1573.7L370.0 1573.7L371.7 1573.7L373.4 1573.7L375.0 1573.7L376.7 1573.7L378.4 1573.7L380.1 1573.7L381.8 1573.7L383.5 1573.7L385.2 1573.7L386.9 1573.7L388.6 1573.7L390.3 1573.7L392.0 1573.7L393.7 1573.7L395.3 1573.7L397.0 1573.7L398.7 1573.7L400.4 1573.7L402.1 1573.7L403.8 1573.7L405.5 1573.7L407.2 1573.7L408.9 1573.7L410.6 1573.7L412.3 1573.7L413.9 1573.7L415.6 1573.7L417.3 1573.7L419.0 1573.7L420.7 1573.7L422.4 1573.7L424.1 1573.7L425.8 1573.7L427.5 1573.7L429.2 1573.7L430.9 1573.7L432.6 1573.7L434.2 1573.7L435.9 1573.7L437.6 1573.7L439.3 1573.7L441.0 1573.7L442.7 1573.7L444.4 1573.7L446.1 1573.7L447.8 1573.7L449.5 1573.7L451.2 1573.7L452.9 1573.7L454.5 1573.7L456.2 1573.7L457.9 1573.7L459.6 1573.7L461.3 1573.7L463.0 1573.7L464.7 1573.7L466.4 1573.7L468.1 1573.7L469.8 1573.7L471.5 1573.7L473.1 1573.7L474.8 1573.7L476.5 1573.7L478.2 1573.7L479.9 1573.7L481.6 1573.7L483.3 1573.7L485.0 1573.7L486.7 1573.7L488.4 1573.7L490.1 1573.7L491.8 1573.7L493.4 1573.7L495.1 1573.7L496.8 1573.7L498.5 1573.7L500.2 1573.7L501.9 1573.7L503.6 1573.7L505.3 1573.7L507.0 1573.7L508.7 1573.7L510.4 1573.7L512.0 1573.7L513.7 1573.7L515.4 1573.7L517.1 1573.7L518.8 1573.7L520.5 1573.7L522.2 1573.7L523.9 1573.7L525.6 1573.7L527.3 1573.7L529.0 1573.7L530.7 1573.7L532.3 1573.7L534.0 1573.7L535.7 1573.7L537.4 1573.7L539.1 1573.7L540.8 1573.7L542.5 1573.7L544.2 1573.7L545.9 1573.7L547.6 1573.7L549.3 1573.7L550.9 1573.7L552.6 1573.7L554.3 1573.7L556.0 1573.7L557.7 1573.7L559.4 1573.7L561.1 1573.7L562.8 1573.7L564.5 1573.7L566.2 1573.7L567.9 1573.7L569.6 1573.7L571.2 1573.7L572.9 1573.7L574.6 1573.7L576.3 1573.7L578.0 1573.7L579.7 1573.8L581.4 1573.8L583.1 1573.8L584.8 1573.8L586.5 1573.8L588.2 1573.8L589.8 1573.8L591.5 1573.8L593.2 1573.8L594.9 1573.8L596.6 1573.8L598.3 1573.8L600.0 1573.8L601.7 1573.8L603.4 1573.8L605.1 1573.8L606.8 1573.8L608.5 1573.8L610.1 1573.8L611.8 1573.8L613.5 1573.8L615.2 1573.8L616.9 1573.8L618.6 1573.8L620.3 1573.8L622.0 1573.8L623.7 1573.8L625.4 1573.8L627.1 1573.9L628.7 1573.9L630.4 1573.9L632.1 1573.9L633.8 1573.9L635.5 1573.9L637.2 1573.9L638.9 1573.9L640.6 1573.9L642.3 1573.9L644.0 1573.9L645.7 1573.9L647.4 1573.9L649.0 1573.9L650.7 1573.9L652.4 1573.9L654.1 1573.9L655.8 1574.0L657.5 1574.0L659.2 1574.0L660.9 1574.0L662.6 1574.0L664.3 1574.0L666.0 1574.0L667.7 1574.0L669.3 1574.0L671.0 1574.0L672.7 1574.0L674.4 1574.0L676.1 1574.1L677.8 1574.1L679.5 1574.1L681.2 1574.1L682.9 1574.1L684.6 1574.1L686.3 1574.1L687.9 1574.1L689.6 1574.1L691.3 1574.2L693.0 1574.2L694.7 1574.2L696.4 1574.2L698.1 1574.2L699.8 1574.2L701.5 1574.2L703.2 1574.3L704.9 1574.3L706.6 1574.3L708.2 1574.3L709.9 1574.3L711.6 1574.3L713.3 1574.4L715.0 1574.4L716.7 1574.4L718.4 1574.4L720.1 1574.4L721.8 1574.4L723.5 1574.5L725.2 1574.5L726.8 1574.5L728.5 1574.5L730.2 1574.6L731.9 1574.6L733.6 1574.6L735.3 1574.6L737.0 1574.7L738.7 1574.7L740.4 1574.7L742.1 1574.7L743.8 1574.8L745.5 1574.8L747.1 1574.8L748.8 1574.9L750.5 1574.9L752.2 1574.9L753.9 1575.0L755.6 1575.0L757.3 1575.0L759.0 1575.1L760.7 1575.1L762.4 1575.2L764.1 1575.2L765.7 1575.2L767.4 1575.3L769.1 1575.3L770.8 1575.4L772.5 1575.4L774.2 1575.5L775.9 1575.6L777.6 1575.6L779.3 1575.7L781.0 1575.7L782.7 1575.8L784.4 1575.9L786.0 1575.9L787.7 1576.0L789.4 1576.1L791.1 1576.2L792.8 1576.2L794.5 1576.3L796.2 1576.4L797.9 1576.5L799.6 1576.6L801.3 1576.7L803.0 1576.8L804.6 1576.9L806.3 1577.1L808.0 1577.2L809.7 1577.3L811.4 1577.4L813.1 1577.6L814.8 1577.7L816.5 1577.9L818.2 1578.1L819.9 1578.2L821.6 1578.4L823.3 1578.6L824.9 1578.8L826.6 1579.0L828.3 1579.3L830.0 1579.5L831.7 1579.8L833.4 1580.1L835.1 1580.4L836.8 1580.7L838.5 1581.0L840.2 1581.4L841.9 1581.8L843.6 1582.2L845.2 1582.6L846.9 1583.1L848.6 1583.6L850.3 1584.1L852.0 1584.7L853.7 1585.4L855.4 1586.1L857.1 1586.9L858.8 1587.7L860.5 1588.6L862.2 1589.6L863.4 1590.4L864.7 1591.3L866.0 1592.2L867.2 1593.2L868.5 1594.3L869.8 1595.5L871.0 1596.8L872.3 1598.2L873.6 1599.7L874.8 1601.4L876.1 1603.2L877.0 1604.5L877.8 1605.9L878.6 1607.4L879.5 1609.0L880.3 1610.6L881.2 1612.5L882.0 1614.4L882.9 1616.5L883.7 1618.7L884.6 1621.1L885.4 1623.7L886.3 1626.5L886.7 1628.0L887.1 1629.5L887.5 1631.1L887.9 1632.8L888.4 1634.5L888.8 1636.3L889.2 1638.2L889.6 1640.2L890.1 1642.2L890.5 1644.3L890.9 1646.6L891.3 1648.9L891.8 1651.3L892.2 1653.9L892.6 1656.5L893.0 1659.3L893.4 1662.2L893.9 1665.2L894.3 1668.4L894.7 1671.8L895.1 1675.2L895.6 1678.9L896.0 1682.7L896.4 1686.7L896.8 1691.0L897.3 1695.4L897.7 1700.0L898.1 1704.9L898.5 1709.9L898.9 1715.3L899.4 1720.9L899.8 1726.8L900.2 1732.9L900.6 1739.4L901.1 1746.1L901.5 1753.2L901.9 1760.6L902.3 1768.3L902.7 1776.3L903.2 1784.7L903.6 1793.4L904.0 1802.4L904.4 1811.8L904.9 1821.4L905.3 1831.4L905.7 1841.6L906.1 1852.0L906.6 1862.6L907.0 1873.3L907.4 1884.0L907.8 1894.7L908.2 1905.3L908.7 1915.7L909.1 1925.8L909.5 1935.4L909.9 1944.5L910.4 1952.8L910.8 1960.4L911.2 1967.0L911.6 1972.6L912.0 1977.0L912.5 1980.2L912.9 1982.1L914.2 1979.9L914.6 1976.6L915.0 1972.0L915.4 1966.3L915.9 1959.6L916.3 1951.9L916.7 1943.5L917.1 1934.4L917.5 1924.7L918.0 1914.6L918.4 1904.2L918.8 1893.6L919.2 1882.8L919.7 1872.1L920.1 1861.4L920.5 1850.8L920.9 1840.4L921.4 1830.3L921.8 1820.4L922.2 1810.7L922.6 1801.4L923.0 1792.4L923.5 1783.7L923.9 1775.4L924.3 1767.4L924.7 1759.7L925.2 1752.4L925.6 1745.3L926.0 1738.6L926.4 1732.2L926.8 1726.1L927.3 1720.2L927.7 1714.7L928.1 1709.4L928.5 1704.3L929.0 1699.5L929.4 1694.9L929.8 1690.5L930.2 1686.3L930.7 1682.3L931.1 1678.5L931.5 1674.8L931.9 1671.4L932.3 1668.0L932.8 1664.9L933.2 1661.9L933.6 1659.0L934.0 1656.2L934.5 1653.6L934.9 1651.0L935.3 1648.6L935.7 1646.3L936.2 1644.1L936.6 1642.0L937.0 1639.9L937.4 1638.0L937.8 1636.1L938.3 1634.3L938.7 1632.6L939.1 1630.9L939.5 1629.3L940.0 1627.8L940.4 1626.3L941.2 1623.5L942.1 1620.9L942.9 1618.5L943.8 1616.3L944.6 1614.3L945.5 1612.3L946.3 1610.5L947.1 1608.8L948.0 1607.3L948.8 1605.8L949.7 1604.4L950.5 1603.1L951.8 1601.3L953.1 1599.6L954.3 1598.1L955.6 1596.7L956.9 1595.4L958.1 1594.2L959.4 1593.2L960.7 1592.1L961.9 1591.2L963.2 1590.3L964.5 1589.5L966.2 1588.5L967.9 1587.6L969.6 1586.8L971.2 1586.0L972.9 1585.3L974.6 1584.7L976.3 1584.1L978.0 1583.5L979.7 1583.0L981.4 1582.5L983.1 1582.1L984.8 1581.7L986.5 1581.3L988.2 1580.9L989.9 1580.6L991.5 1580.3L993.2 1580.0L994.9 1579.7L996.6 1579.4L998.3 1579.2L1000.0 1579.0L1001.7 1578.7L1003.4 1578.5L1005.1 1578.3L1006.8 1578.1L1008.5 1578.0L1010.1 1577.8L1011.8 1577.6L1013.5 1577.5L1015.2 1577.3L1016.9 1577.2L1018.6 1577.1L1020.3 1577.0L1022.0 1576.8L1023.7 1576.7L1025.4 1576.6L1027.1 1576.5L1028.8 1576.4L1030.4 1576.3L1032.1 1576.2L1033.8 1576.1L1035.5 1576.0L1037.2 1576.0L1038.9 1575.9L1040.6 1575.8L1042.3 1575.7L1044.0 1575.7L1045.7 1575.6L1047.4 1575.5L1049.0 1575.5L1050.7 1575.4L1052.4 1575.4L1054.1 1575.3L1055.8 1575.3L1057.5 1575.2L1059.2 1575.2L1060.9 1575.1L1062.6 1575.1L1064.3 1575.0L1066.0 1575.0L1067.7 1574.9L1069.3 1574.9L1071.0 1574.9L1072.7 1574.8L1074.4 1574.8L1076.1 1574.7L1077.8 1574.7L1079.5 1574.7L1081.2 1574.6L1082.9 1574.6L1084.6 1574.6L1086.3 1574.5L1087.9 1574.5L1089.6 1574.5L1091.3 1574.5L1093.0 1574.4L1094.7 1574.4L1096.4 1574.4L1098.1 1574.4L1099.8 1574.3L1101.5 1574.3L1103.2 1574.3L1104.9 1574.3L1106.6 1574.2L1108.2 1574.2L1109.9 1574.2L1111.6 1574.2L1113.3 1574.2L1115.0 1574.1L1116.7 1574.1L1118.4 1574.1L1120.1 1574.1L1121.8 1574.1L1123.5 1574.1L1125.2 1574.0L1126.9 1574.0L1128.5 1574.0L1130.2 1574.0L1131.9 1574.0L1133.6 1574.0L1135.3 1574.0L1137.0 1573.9L1138.7 1573.9L1140.4 1573.9L1142.1 1573.9L1143.8 1573.9L1145.5 1573.9L1147.1 1573.9L1148.8 1573.8L1150.5 1573.8L1152.2 1573.8L1153.9 1573.8L1155.6 1573.8L1157.3 1573.8L1159.0 1573.8L1160.7 1573.8L1162.4 1573.8L1164.1 1573.8L1165.8 1573.7L1167.4 1573.7L1169.1 1573.7L1170.8 1573.7L1172.5 1573.7L1174.2 1573.7L1175.9 1573.7L1177.6 1573.7L1179.3 1573.7L1181.0 1573.7L1182.7 1573.7L1184.4 1573.6L1186.0 1573.6L1187.7 1573.6L1189.4 1573.6L1191.1 1573.6L1192.8 1573.6L1194.5 1573.6L1196.2 1573.6L1197.9 1573.6L1199.6 1573.6L1201.3 1573.6L1203.0 1573.6L1204.7 1573.6L1206.3 1573.6L1208.0 1573.6L1209.7 1573.5L1211.4 1573.5L1213.1 1573.5L1214.8 1573.5L1216.5 1573.5L1218.2 1573.5L1219.9 1573.5L1221.6 1573.5L1223.3 1573.5L1224.9 1573.5L1226.6 1573.5L1228.3 1573.5L1230.0 1573.5L1231.7 1573.5L1233.4 1573.5L1235.1 1573.5L1236.8 1573.5L1238.5 1573.5L1240.2 1573.5L1241.9 1573.5L1243.6 1573.4L1245.2 1573.4L1246.9 1573.4L1248.6 1573.4L1250.3 1573.4L1252.0 1573.4L1253.7 1573.4L1255.4 1573.4L1257.1 1573.4L1258.8 1573.4L1260.5 1573.4L1262.2 1573.4L1263.8 1573.4L1265.5 1573.4L1267.2 1573.4L1268.9 1573.4L1270.6 1573.4L1272.3 1573.4L1274.0 1573.4L1275.7 1573.4L1277.4 1573.4L1279.1 1573.4L1280.8 1573.4L1282.5 1573.4L1284.1 1573.4L1285.8 1573.4L1287.5 1573.4L1289.2 1573.4L1290.9 1573.4L1292.6 1573.4L1294.3 1573.3L1296.0 1573.3L1297.7 1573.3L1299.4 1573.3L1301.1 1573.3L1302.8 1573.3L1304.4 1573.3L1306.1 1573.3L1307.8 1573.3L1309.5 1573.3L1311.2 1573.3L1312.9 1573.3L1314.6 1573.3L1316.3 1573.3L1318.0 1573.3L1319.7 1573.3L1321.4 1573.3L1323.0 1573.3L1324.7 1573.3L1326.4 1573.3L1328.1 1573.3L1329.8 1573.3L1331.5 1573.3L1333.2 1573.3L1334.9 1573.3L1336.6 1573.3L1338.3 1573.3L1340.0 1573.3L1341.7 1573.3L1343.3 1573.3L1345.0 1573.3L1346.7 1573.3L1348.4 1573.3L1350.1 1573.3L1351.8 1573.3L1353.5 1573.3L1355.2 1573.3L1356.9 1573.3L1358.6 1573.3L1360.3 1573.3L1361.9 1573.3L1363.6 1573.3L1365.3 1573.3L1367.0 1573.3L1368.7 1573.3L1370.4 1573.3L1372.1 1573.3L1373.8 1573.3L1375.5 1573.3L1377.2 1573.3L1378.9 1573.3L1380.6 1573.3L1382.2 1573.3L1383.9 1573.3L1385.6 1573.3L1387.3 1573.3L1389.0 1573.3L1390.7 1573.3L1392.4 1573.2L1394.1 1573.2L1395.8 1573.2L1397.5 1573.2L1399.2 1573.2L1400.8 1573.2L1402.5 1573.2L1404.2 1573.2L1405.9 1573.2L1407.6 1573.2L1409.3 1573.2L1411.0 1573.2L1412.7 1573.2L1414.4 1573.2L1416.1 1573.2L1417.8 1573.2L1419.5 1573.2L1421.1 1573.2L1422.8 1573.2L1424.5 1573.2L1426.2 1573.2L1427.9 1573.2L1429.6 1573.2L1431.3 1573.2L1433.0 1573.2L1434.7 1573.2L1436.4 1573.2L1438.1 1573.2L1439.7 1573.2L1441.4 1573.2L1443.1 1573.2L1444.8 1573.2L1446.5 1573.2L1448.2 1573.2L1449.9 1573.2L1451.6 1573.2L1453.3 1573.2L1455.0 1573.2L1456.7 1573.2L1458.4 1573.2L1460.0 1573.2L1461.7 1573.2L1463.4 1573.2L1465.1 1573.2L1466.8 1573.2L1468.5 1573.2L1470.2 1573.2L1471.9 1573.2L1473.6 1573.2L1475.3 1573.2L1477.0 1573.2L1478.6 1573.2L1480.3 1573.2L1482.0 1573.2L1483.7 1573.2L1485.4 1573.2L1487.1 1573.2L1488.8 1573.2L1490.5 1573.2L1492.2 1573.2L1493.9 1573.2L1495.6 1573.2L1497.3 1573.2L1498.9 1573.2L1500.6 1573.2L1502.3 1573.2L1504.0 1573.2L1505.7 1573.2L1507.4 1573.2L1509.1 1573.2L1510.8 1573.2L1512.5 1573.2L1514.2 1573.2L1515.9 1573.2L1517.6 1573.2L1519.2 1573.2L1520.9 1573.2L1522.6 1573.2L1524.3 1573.2L1526.0 1573.2L1527.7 1573.2L1529.4 1573.2L1531.1 1573.2L1532.8 1573.2L1534.5 1573.2L1536.2 1573.2L1537.8 1573.2L1539.5 1573.2L1541.2 1573.2L1542.9 1573.2L1544.6 1573.2L1546.3 1573.2L1548.0 1573.2L1549.7 1573.2L1551.4 1573.2L1553.1 1573.2L1554.8 1573.2L1556.5 1573.2L1558.1 1573.2L1559.8 1573.2L1561.5 1573.2L1563.2 1573.2L1564.9 1573.2L1566.6 1573.2L1568.3 1573.2L1570.0 1573.2L1571.7 1573.2L1573.4 1573.2L1575.1 1573.2L1576.7 1573.2L1578.4 1573.2L1580.1 1573.2L1581.8 1573.2L1583.5 1573.2L1585.2 1573.2L1586.9 1573.2L1588.6 1573.2L1590.3 1573.2L1592.0 1573.2L1593.7 1573.2L1595.4 1573.2L1597.0 1573.2L1598.7 1573.2L1600.4 1573.2L1602.1 1573.2L1603.8 1573.2L1605.5 1573.2L1607.2 1573.2L1608.9 1573.2L1610.6 1573.2L1612.3 1573.2L1614.0 1573.2L1615.6 1573.2L1617.3 1573.2L1619.0 1573.2L1620.7 1573.2L1622.4 1573.2L1624.1 1573.2L1625.8 1573.2L1627.5 1573.2L1629.2 1573.2L1630.9 1573.2L1632.6 1573.2L1634.3 1573.2L1635.9 1573.2L1637.6 1573.2L1639.3 1573.2L1641.0 1573.2L1642.7 1573.2L1644.4 1573.2L1646.1 1573.2L1647.8 1573.2L1649.5 1573.2L1651.2 1573.2L1652.9 1573.2L1654.5 1573.2L1656.2 1573.2L1657.9 1573.2L1659.6 1573.2L1661.3 1573.2L1663.0 1573.2L1664.7 1573.2L1666.4 1573.2L1668.1 1573.2L1669.8 1573.2L1671.5 1573.2L1673.2 1573.3L1674.8 1573.3L1676.5 1573.3L1678.2 1573.3L1679.9 1573.3L1681.6 1573.3L1683.3 1573.3L1685.0 1573.3L1686.7 1573.3L1688.4 1573.3L1690.1 1573.3L1691.8 1573.3L1693.5 1573.3L1695.1 1573.3L1696.8 1573.3L1698.5 1573.3L1700.2 1573.3L1701.9 1573.3L1703.6 1573.3L1705.3 1573.3L1707.0 1573.3L1708.7 1573.3L1710.4 1573.3L1712.1 1573.3L1713.7 1573.3L1715.4 1573.3L1717.1 1573.3L1718.8 1573.3L1720.5 1573.3L1722.2 1573.3L1723.9 1573.3L1725.6 1573.3L1727.3 1573.3L1729.0 1573.3L1730.7 1573.3L1732.4 1573.3L1734.0 1573.3L1735.7 1573.3L1737.4 1573.3L1739.1 1573.3L1740.8 1573.3L1742.5 1573.3L1744.2 1573.3L1745.9 1573.3L1747.6 1573.3L1749.3 1573.3L1751.0 1573.3L1752.6 1573.3L1754.3 1573.3L1756.0 1573.3L1757.7 1573.3L1759.4 1573.3L1761.1 1573.3L1762.8 1573.3L1764.5 1573.3L1766.2 1573.3L1767.9 1573.3L1769.6 1573.3L1771.3 1573.3L1772.9 1573.3L1774.6 1573.3L1776.3 1573.3L1778.0 1573.3L1779.7 1573.3L1781.4 1573.3L1783.1 1573.3L1784.8 1573.3L1786.5 1573.3L1788.2 1573.3L1789.9 1573.3L1791.5 1573.3L1793.2 1573.3L1794.9 1573.3L1796.6 1573.3L1798.3 1573.3L1800.0 1573.3L1801.7 1573.3L1803.4 1573.3L1805.1 1573.3L1806.8 1573.3L1808.5 1573.3L1810.2 1573.3L1811.8 1573.3L1813.5 1573.3L1815.2 1573.3L1816.9 1573.3L1818.6 1573.3L1820.3 1573.3L1822.0 1573.3L1823.7 1573.3L1825.4 1573.3L1827.1 1573.3L1828.8 1573.3L1830.4 1573.3L1832.1 1573.3L1833.8 1573.3L1835.5 1573.3L1837.2 1573.3L1838.9 1573.3L1840.6 1573.3L1842.3 1573.3L1844.0 1573.4L1845.7 1573.4L1847.4 1573.4L1849.1 1573.4L1850.7 1573.4L1852.4 1573.4L1854.1 1573.4L1855.8 1573.4L1857.5 1573.4L1859.2 1573.4L1860.9 1573.4L1862.6 1573.4L1864.3 1573.4L1866.0 1573.4L1867.7 1573.4L1869.3 1573.4L1871.0 1573.4L1872.7 1573.4L1874.4 1573.4L1876.1 1573.4L1877.8 1573.4L1879.5 1573.4L1881.2 1573.4L1882.9 1573.4L1884.6 1573.4L1886.3 1573.4L1888.0 1573.4L1889.6 1573.4L1891.3 1573.4L1893.0 1573.4L1894.7 1573.4L1896.4 1573.4L1898.1 1573.4L1899.8 1573.4L1901.5 1573.4L1903.2 1573.4L1904.9 1573.4L1906.6 1573.4L1908.3 1573.4L1909.9 1573.4L1911.6 1573.4L1913.3 1573.4L1915.0 1573.4L1916.7 1573.4L1918.4 1573.4L1920.1 1573.4L1921.8 1573.4L1923.5 1573.4L1925.2 1573.4L1926.9 1573.4L1928.5 1573.4L1930.2 1573.4L1931.9 1573.4L1933.6 1573.4L1935.3 1573.4L1937.0 1573.4L1938.7 1573.4L1940.4 1573.4L1942.1 1573.4L1943.8 1573.4L1945.5 1573.4L1947.2 1573.4L1948.8 1573.4L1950.5 1573.4L1952.2 1573.4L1953.9 1573.4L1955.6 1573.4L1957.3 1573.4L1959.0 1573.4L1960.7 1573.4L1962.4 1573.5L1964.1 1573.5L1965.8 1573.5L1967.4 1573.5L1969.1 1573.5L1970.8 1573.5L1972.5 1573.5L1974.2 1573.5L1975.9 1573.5L1977.6 1573.5L1979.3 1573.5L1979.7 1573.5" stroke="#ff0000" stroke-width="5.6"/>
<path d="M288.8 1574.6L290.5 1574.6L292.2 1574.6L293.9 1574.6L295.6 1574.6L297.2 1574.6L298.9 1574.6L300.6 1574.6L302.3 1574.6L304.0 1574.6L305.7 1574.6L307.4 1574.6L309.1 1574.6L310.8 1574.6L312.5 1574.6L314.2 1574.6L315.9 1574.6L317.5 1574.6L319.2 1574.6L320.9 1574.6L322.6 1574.6L324.3 1574.6L326.0 1574.6L327.7 1574.6L329.4 1574.6L331.1 1574.6L332.8 1574.6L334.5 1574.6L336.1 1574.6L337.8 1574.6L339.5 1574.6L341.2 1574.6L342.9 1574.5L344.6 1574.5L346.3 1574.5L348.0 1574.5L349.7 1574.5L351.4 1574.5L353.1 1574.5L354.8 1574.5L356.4 1574.5L358.1 1574.5L359.8 1574.5L361.5 1574.5L363.2 1574.5L364.9 1574.5L366.6 1574.5L368.3 1574.5L370.0 1574.5L371.7 1574.5L373.4 1574.5L375.0 1574.5L376.7 1574.5L378.4 1574.5L380.1 1574.5L381.8 1574.5L383.5 1574.5L385.2 1574.5L386.9 1574.5L388.6 1574.5L390.3 1574.5L392.0 1574.5L393.7 1574.5L395.3 1574.5L397.0 1574.6L398.7 1574.6L400.4 1574.6L402.1 1574.6L403.8 1574.6L405.5 1574.6L407.2 1574.6L408.9 1574.6L410.6 1574.6L412.3 1574.6L413.9 1574.6L415.6 1574.6L417.3 1574.6L419.0 1574.6L420.7 1574.6L422.4 1574.6L424.1 1574.6L425.8 1574.6L427.5 1574.6L429.2 1574.6L430.9 1574.6L432.6 1574.6L434.2 1574.6L435.9 1574.6L437.6 1574.6L439.3 1574.6L441.0 1574.6L442.7 1574.6L444.4 1574.6L446.1 1574.6L447.8 1574.6L449.5 1574.6L451.2 1574.6L452.9 1574.6L454.5 1574.6L456.2 1574.6L457.9 1574.6L459.6 1574.6L461.3 1574.6L463.0 1574.6L464.7 1574.6L466.4 1574.6L468.1 1574.6L469.8 1574.6L471.5 1574.6L473.1 1574.6L474.8 1574.6L476.5 1574.6L478.2 1574.6L479.9 1574.6L481.6 1574.6L483.3 1574.6L485.0 1574.6L486.7 1574.6L488.4 1574.6L490.1 1574.6L491.8 1574.6L493.4 1574.6L495.1 1574.6L496.8 1574.6L498.5 1574.6L500.2 1574.6L501.9 1574.6L503.6 1574.6L505.3 1574.6L507.0 1574.7L508.7 1574.7L510.4 1574.7L512.0 1574.7L513.7 1574.7L515.4 1574.7L517.1 1574.7L518.8 1574.7L520.5 1574.7L522.2 1574.7L523.9 1574.7L525.6 1574.7L527.3 1574.7L529.0 1574.7L530.7 1574.7L532.3 1574.7L534.0 1574.7L535.7 1574.7L537.4 1574.7L539.1 1574.7L540.8 1574.7L542.5 1574.7L544.2 1574.7L545.9 1574.7L547.6 1574.7L549.3 1574.7L550.9 1574.7L552.6 1574.8L554.3 1574.8L556.0 1574.8L557.7 1574.8L559.4 1574.8L561.1 1574.8L562.8 1574.8L564.5 1574.8L566.2 1574.8L567.9 1574.8L569.6 1574.8L571.2 1574.8L572.9 1574.8L574.6 1574.8L576.3 1574.8L578.0 1574.8L579.7 1574.8L581.4 1574.8L583.1 1574.9L584.8 1574.9L586.5 1574.9L588.2 1574.9L589.8 1574.9L591.5 1574.9L593.2 1574.9L594.9 1574.9L596.6 1574.9L598.3 1574.9L600.0 1574.9L601.7 1574.9L603.4 1574.9L605.1 1574.9L606.8 1574.9L608.5 1575.0L610.1 1575.0L611.8 1575.0L613.5 1575.0L615.2 1575.0L616.9 1575.0L618.6 1575.0L620.3 1575.0L622.0 1575.0L623.7 1575.0L625.4 1575.0L627.1 1575.0L628.7 1575.1L630.4 1575.1L632.1 1575.1L633.8 1575.1L635.5 1575.1L637.2 1575.1L638.9 1575.1L640.6 1575.1L642.3 1575.1L644.0 1575.1L645.7 1575.1L647.4 1575.2L649.0 1575.2L650.7 1575.2L652.4 1575.2L654.1 1575.2L655.8 1575.2L657.5 1575.2L659.2 1575.2L660.9 1575.2L662.6 1575.3L664.3 1575.3L666.0 1575.3L667.7 1575.3L669.3 1575.3L671.0 1575.3L672.7 1575.3L674.4 1575.3L676.1 1575.4L677.8 1575.4L679.5 1575.4L681.2 1575.4L682.9 1575.4L684.6 1575.4L686.3 1575.4L687.9 1575.5L689.6 1575.5L691.3 1575.5L693.0 1575.5L694.7 1575.5L696.4 1575.5L698.1 1575.6L699.8 1575.6L701.5 1575.6L703.2 1575.6L704.9 1575.6L706.6 1575.6L708.2 1575.7L709.9 1575.7L711.6 1575.7L713.3 1575.7L715.0 1575.7L716.7 1575.7L718.4 1575.8L720.1 1575.8L721.8 1575.8L723.5 1575.8L725.2 1575.8L726.8 1575.9L728.5 1575.9L730.2 1575.9L731.9 1575.9L733.6 1576.0L735.3 1576.0L737.0 1576.0L738.7 1576.0L740.4 1576.0L742.1 1576.1L743.8 1576.1L745.5 1576.1L747.1 1576.1L748.8 1576.2L750.5 1576.2L752.2 1576.2L753.9 1576.2L755.6 1576.3L757.3 1576.3L759.0 1576.3L760.7 1576.4L762.4 1576.4L764.1 1576.4L765.7 1576.4L767.4 1576.5L769.1 1576.5L770.8 1576.5L772.5 1576.6L774.2 1576.6L775.9 1576.6L777.6 1576.7L779.3 1576.7L781.0 1576.7L782.7 1576.8L784.4 1576.8L786.0 1576.9L787.7 1576.9L789.4 1576.9L791.1 1577.0L792.8 1577.0L794.5 1577.0L796.2 1577.1L797.9 1577.1L799.6 1577.2L801.3 1577.2L803.0 1577.3L804.6 1577.3L806.3 1577.3L808.0 1577.4L809.7 1577.4L811.4 1577.5L813.1 1577.5L814.8 1577.6L816.5 1577.6L818.2 1577.7L819.9 1577.7L821.6 1577.8L823.3 1577.9L824.9 1577.9L826.6 1578.0L828.3 1578.0L830.0 1578.1L831.7 1578.1L833.4 1578.2L835.1 1578.3L836.8 1578.3L838.5 1578.4L840.2 1578.5L841.9 1578.5L843.6 1578.6L845.2 1578.7L846.9 1578.7L848.6 1578.8L850.3 1578.9L852.0 1579.0L853.7 1579.0L855.4 1579.1L857.1 1579.2L858.8 1579.3L860.5 1579.4L862.2 1579.5L863.8 1579.5L865.5 1579.6L867.2 1579.7L868.9 1579.8L870.6 1579.9L872.3 1580.0L874.0 1580.1L875.7 1580.2L877.4 1580.3L879.1 1580.4L880.8 1580.5L882.5 1580.7L884.1 1580.8L885.8 1580.9L887.5 1581.0L889.2 1581.1L890.9 1581.3L892.6 1581.4L894.3 1581.5L896.0 1581.7L897.7 1581.8L899.4 1581.9L901.1 1582.1L902.7 1582.2L904.4 1582.4L906.1 1582.5L907.8 1582.7L909.5 1582.9L911.2 1583.0L912.9 1583.2L914.6 1583.4L916.3 1583.6L918.0 1583.8L919.7 1584.0L921.4 1584.2L923.0 1584.4L924.7 1584.6L926.4 1584.8L928.1 1585.0L929.8 1585.2L931.5 1585.4L933.2 1585.7L934.9 1585.9L936.6 1586.2L938.3 1586.4L940.0 1586.7L941.6 1587.0L943.3 1587.2L945.0 1587.5L946.7 1587.8L948.4 1588.1L950.1 1588.4L951.8 1588.7L953.5 1589.1L955.2 1589.4L956.9 1589.8L958.6 1590.1L960.3 1590.5L961.9 1590.9L963.6 1591.2L965.3 1591.6L967.0 1592.0L968.7 1592.5L970.4 1592.9L972.1 1593.3L973.8 1593.8L975.5 1594.3L977.2 1594.8L978.9 1595.3L980.5 1595.8L982.2 1596.3L983.9 1596.8L985.6 1597.4L987.3 1598.0L989.0 1598.6L990.7 1599.2L992.4 1599.8L994.1 1600.4L995.8 1601.1L997.5 1601.7L999.2 1602.4L1000.8 1603.1L1002.5 1603.8L1004.2 1604.6L1005.9 1605.3L1007.6 1606.1L1009.3 1606.9L1011.0 1607.7L1012.7 1608.5L1014.4 1609.3L1016.1 1610.2L1017.8 1611.0L1019.5 1611.9L1021.1 1612.8L1022.8 1613.7L1024.5 1614.6L1026.2 1615.5L1027.9 1616.4L1029.6 1617.3L1031.3 1618.3L1033.0 1619.2L1034.7 1620.1L1036.4 1621.0L1038.1 1621.9L1039.7 1622.8L1041.4 1623.7L1043.1 1624.5L1044.8 1625.4L1046.5 1626.2L1048.2 1627.0L1049.9 1627.7L1051.6 1628.4L1053.3 1629.1L1055.0 1629.7L1056.7 1630.3L1058.4 1630.8L1060.0 1631.3L1061.7 1631.7L1063.4 1632.1L1065.1 1632.3L1066.8 1632.6L1068.5 1632.7L1070.2 1632.8L1071.9 1632.9L1073.6 1632.8L1075.3 1632.7L1077.0 1632.5L1078.6 1632.3L1080.3 1632.0L1082.0 1631.6L1083.7 1631.2L1085.4 1630.7L1087.1 1630.2L1088.8 1629.6L1090.5 1629.0L1092.2 1628.3L1093.9 1627.6L1095.6 1626.9L1097.3 1626.1L1098.9 1625.3L1100.6 1624.4L1102.3 1623.6L1104.0 1622.7L1105.7 1621.8L1107.4 1620.9L1109.1 1620.0L1110.8 1619.0L1112.5 1618.1L1114.2 1617.2L1115.9 1616.3L1117.5 1615.4L1119.2 1614.4L1120.9 1613.5L1122.6 1612.6L1124.3 1611.8L1126.0 1610.9L1127.7 1610.0L1129.4 1609.2L1131.1 1608.3L1132.8 1607.5L1134.5 1606.7L1136.2 1605.9L1137.8 1605.2L1139.5 1604.4L1141.2 1603.7L1142.9 1603.0L1144.6 1602.3L1146.3 1601.6L1148.0 1600.9L1149.7 1600.3L1151.4 1599.6L1153.1 1599.0L1154.8 1598.4L1156.4 1597.8L1158.1 1597.2L1159.8 1596.7L1161.5 1596.1L1163.2 1595.6L1164.9 1595.1L1166.6 1594.6L1168.3 1594.1L1170.0 1593.6L1171.7 1593.2L1173.4 1592.7L1175.1 1592.3L1176.7 1591.9L1178.4 1591.5L1180.1 1591.1L1181.8 1590.7L1183.5 1590.3L1185.2 1589.9L1186.9 1589.6L1188.6 1589.2L1190.3 1588.9L1192.0 1588.6L1193.7 1588.3L1195.3 1587.9L1197.0 1587.6L1198.7 1587.3L1200.4 1587.1L1202.1 1586.8L1203.8 1586.5L1205.5 1586.2L1207.2 1586.0L1208.9 1585.7L1210.6 1585.5L1212.3 1585.3L1214.0 1585.0L1215.6 1584.8L1217.3 1584.6L1219.0 1584.4L1220.7 1584.2L1222.4 1584.0L1224.1 1583.8L1225.8 1583.6L1227.5 1583.4L1229.2 1583.2L1230.9 1583.0L1232.6 1582.8L1234.3 1582.7L1235.9 1582.5L1237.6 1582.3L1239.3 1582.2L1241.0 1582.0L1242.7 1581.9L1244.4 1581.7L1246.1 1581.6L1247.8 1581.4L1249.5 1581.3L1251.2 1581.2L1252.9 1581.0L1254.5 1580.9L1256.2 1580.8L1257.9 1580.7L1259.6 1580.5L1261.3 1580.4L1263.0 1580.3L1264.7 1580.2L1266.4 1580.1L1268.1 1580.0L1269.8 1579.9L1271.5 1579.8L1273.2 1579.7L1274.8 1579.6L1276.5 1579.5L1278.2 1579.4L1279.9 1579.3L1281.6 1579.2L1283.3 1579.1L1285.0 1579.0L1286.7 1578.9L1288.4 1578.9L1290.1 1578.8L1291.8 1578.7L1293.4 1578.6L1295.1 1578.5L1296.8 1578.5L1298.5 1578.4L1300.2 1578.3L1301.9 1578.3L1303.6 1578.2L1305.3 1578.1L1307.0 1578.0L1308.7 1578.0L1310.4 1577.9L1312.1 1577.9L1313.7 1577.8L1315.4 1577.7L1317.1 1577.7L1318.8 1577.6L1320.5 1577.6L1322.2 1577.5L1323.9 1577.4L1325.6 1577.4L1327.3 1577.3L1329.0 1577.3L1330.7 1577.2L1332.3 1577.2L1334.0 1577.1L1335.7 1577.1L1337.4 1577.0L1339.1 1577.0L1340.8 1576.9L1342.5 1576.9L1344.2 1576.9L1345.9 1576.8L1347.6 1576.8L1349.3 1576.7L1351.0 1576.7L1352.6 1576.6L1354.3 1576.6L1356.0 1576.6L1357.7 1576.5L1359.4 1576.5L1361.1 1576.4L1362.8 1576.4L1364.5 1576.4L1366.2 1576.3L1367.9 1576.3L1369.6 1576.3L1371.2 1576.2L1372.9 1576.2L1374.6 1576.2L1376.3 1576.1L1378.0 1576.1L1379.7 1576.1L1381.4 1576.0L1383.1 1576.0L1384.8 1576.0L1386.5 1575.9L1388.2 1575.9L1389.9 1575.9L1391.5 1575.9L1393.2 1575.8L1394.9 1575.8L1396.6 1575.8L1398.3 1575.7L1400.0 1575.7L1401.7 1575.7L1403.4 1575.7L1405.1 1575.6L1406.8 1575.6L1408.5 1575.6L1410.2 1575.6L1411.8 1575.5L1413.5 1575.5L1415.2 1575.5L1416.9 1575.5L1418.6 1575.4L1420.3 1575.4L1422.0 1575.4L1423.7 1575.4L1425.4 1575.4L1427.1 1575.3L1428.8 1575.3L1430.4 1575.3L1432.1 1575.3L1433.8 1575.3L1435.5 1575.2L1437.2 1575.2L1438.9 1575.2L1440.6 1575.2L1442.3 1575.2L1444.0 1575.1L1445.7 1575.1L1447.4 1575.1L1449.1 1575.1L1450.7 1575.1L1452.4 1575.0L1454.1 1575.0L1455.8 1575.0L1457.5 1575.0L1459.2 1575.0L1460.9 1575.0L1462.6 1574.9L1464.3 1574.9L1466.0 1574.9L1467.7 1574.9L1469.3 1574.9L1471.0 1574.9L1472.7 1574.9L1474.4 1574.8L1476.1 1574.8L1477.8 1574.8L1479.5 1574.8L1481.2 1574.8L1482.9 1574.8L1484.6 1574.8L1486.3 1574.7L1488.0 1574.7L1489.6 1574.7L1491.3 1574.7L1493.0 1574.7L1494.7 1574.7L1496.4 1574.7L1498.1 1574.7L1499.8 1574.6L1501.5 1574.6L1503.2 1574.6L1504.9 1574.6L1506.6 1574.6L1508.2 1574.6L1509.9 1574.6L1511.6 1574.6L1513.3 1574.5L1515.0 1574.5L1516.7 1574.5L1518.4 1574.5L1520.1 1574.5L1521.8 1574.5L1523.5 1574.5L1525.2 1574.5L1526.9 1574.5L1528.5 1574.5L1530.2 1574.4L1531.9 1574.4L1533.6 1574.4L1535.3 1574.4L1537.0 1574.4L1538.7 1574.4L1540.4 1574.4L1542.1 1574.4L1543.8 1574.4L1545.5 1574.4L1547.1 1574.4L1548.8 1574.3L1550.5 1574.3L1552.2 1574.3L1553.9 1574.3L1555.6 1574.3L1557.3 1574.3L1559.0 1574.3L1560.7 1574.3L1562.4 1574.3L1564.1 1574.3L1565.8 1574.3L1567.4 1574.3L1569.1 1574.2L1570.8 1574.2L1572.5 1574.2L1574.2 1574.2L1575.9 1574.2L1577.6 1574.2L1579.3 1574.2L1581.0 1574.2L1582.7 1574.2L1584.4 1574.2L1586.0 1574.2L1587.7 1574.2L1589.4 1574.2L1591.1 1574.2L1592.8 1574.1L1594.5 1574.1L1596.2 1574.1L1597.9 1574.1L1599.6 1574.1L1601.3 1574.1L1603.0 1574.1L1604.7 1574.1L1606.3 1574.1L1608.0 1574.1L1609.7 1574.1L1611.4 1574.1L1613.1 1574.1L1614.8 1574.1L1616.5 1574.1L1618.2 1574.1L1619.9 1574.1L1621.6 1574.0L1623.3 1574.0L1625.0 1574.0L1626.6 1574.0L1628.3 1574.0L1630.0 1574.0L1631.7 1574.0L1633.4 1574.0L1635.1 1574.0L1636.8 1574.0L1638.5 1574.0L1640.2 1574.0L1641.9 1574.0L1643.6 1574.0L1645.2 1574.0L1646.9 1574.0L1648.6 1574.0L1650.3 1574.0L1652.0 1574.0L1653.7 1574.0L1655.4 1573.9L1657.1 1573.9L1658.8 1573.9L1660.5 1573.9L1662.2 1573.9L1663.9 1573.9L1665.5 1573.9L1667.2 1573.9L1668.9 1573.9L1670.6 1573.9L1672.3 1573.9L1674.0 1573.9L1675.7 1573.9L1677.4 1573.9L1679.1 1573.9L1680.8 1573.9L1682.5 1573.9L1684.1 1573.9L1685.8 1573.9L1687.5 1573.9L1689.2 1573.9L1690.9 1573.9L1692.6 1573.9L1694.3 1573.9L1696.0 1573.9L1697.7 1573.9L1699.4 1573.8L1701.1 1573.8L1702.8 1573.8L1704.4 1573.8L1706.1 1573.8L1707.8 1573.8L1709.5 1573.8L1711.2 1573.8L1712.9 1573.8L1714.6 1573.8L1716.3 1573.8L1718.0 1573.8L1719.7 1573.8L1721.4 1573.8L1723.0 1573.8L1724.7 1573.8L1726.4 1573.8L1728.1 1573.8L1729.8 1573.8L1731.5 1573.8L1733.2 1573.8L1734.9 1573.8L1736.6 1573.8L1738.3 1573.8L1740.0 1573.8L1741.7 1573.8L1743.3 1573.8L1745.0 1573.8L1746.7 1573.8L1748.4 1573.8L1750.1 1573.8L1751.8 1573.8L1753.5 1573.8L1755.2 1573.8L1756.9 1573.8L1758.6 1573.8L1760.3 1573.8L1761.9 1573.8L1763.6 1573.7L1765.3 1573.7L1767.0 1573.7L1768.7 1573.7L1770.4 1573.7L1772.1 1573.7L1773.8 1573.7L1775.5 1573.7L1777.2 1573.7L1778.9 1573.7L1780.6 1573.7L1782.2 1573.7L1783.9 1573.7L1785.6 1573.7L1787.3 1573.7L1789.0 1573.7L1790.7 1573.7L1792.4 1573.7L1794.1 1573.7L1795.8 1573.7L1797.5 1573.7L1799.2 1573.7L1800.9 1573.7L1802.5 1573.7L1804.2 1573.7L1805.9 1573.7L1807.6 1573.7L1809.3 1573.7L1811.0 1573.7L1812.7 1573.7L1814.4 1573.7L1816.1 1573.7L1817.8 1573.7L1819.5 1573.7L1821.1 1573.7L1822.8 1573.7L1824.5 1573.7L1826.2 1573.7L1827.9 1573.7L1829.6 1573.7L1831.3 1573.7L1833.0 1573.7L1834.7 1573.7L1836.4 1573.7L1838.1 1573.7L1839.8 1573.7L1841.4 1573.7L1843.1 1573.7L1844.8 1573.7L1846.5 1573.7L1848.2 1573.7L1849.9 1573.7L1851.6 1573.7L1853.3 1573.7L1855.0 1573.7L1856.7 1573.7L1858.4 1573.7L1860.0 1573.7L1861.7 1573.7L1863.4 1573.7L1865.1 1573.7L1866.8 1573.7L1868.5 1573.7L1870.2 1573.7L1871.9 1573.7L1873.6 1573.7L1875.3 1573.7L1877.0 1573.7L1878.7 1573.7L1880.3 1573.7L1882.0 1573.7L1883.7 1573.7L1885.4 1573.7L1887.1 1573.7L1888.8 1573.7L1890.5 1573.7L1892.2 1573.7L1893.9 1573.7L1895.6 1573.6L1897.3 1573.6L1898.9 1573.6L1900.6 1573.6L1902.3 1573.6L1904.0 1573.6L1905.7 1573.6L1907.4 1573.6L1909.1 1573.6L1910.8 1573.6L1912.5 1573.6L1914.2 1573.6L1915.9 1573.6L1917.6 1573.6L1919.2 1573.6L1920.9 1573.6L1922.6 1573.6L1924.3 1573.6L1926.0 1573.6L1927.7 1573.6L1929.4 1573.6L1931.1 1573.6L1932.8 1573.6L1934.5 1573.6L1936.2 1573.6L1937.8 1573.6L1939.5 1573.6L1941.2 1573.6L1942.9 1573.6L1944.6 1573.6L1946.3 1573.6L1948.0 1573.6L1949.7 1573.6L1951.4 1573.6L1953.1 1573.6L1954.8 1573.6L1956.5 1573.6L1958.1 1573.6L1959.8 1573.6L1961.5 1573.6L1963.2 1573.6L1964.9 1573.6L1966.6 1573.6L1968.3 1573.6L1970.0 1573.6L1971.7 1573.6L1973.4 1573.6L1975.1 1573.6L1976.8 1573.6L1978.4 1573.6L1979.7 1573.6" stroke="#0000ff" stroke-width="8.4"/>
<path d="M288.8 1574.3L290.5 1574.3L292.2 1574.3L293.9 1574.3L295.6 1574.3L297.2 1574.3L298.9 1574.3L300.6 1574.3L302.3 1574.3L304.0 1574.3L305.7 1574.3L307.4 1574.3L309.1 1574.3L310.8 1574.3L312.5 1574.3L314.2 1574.3L315.9 1574.3L317.5 1574.3L319.2 1574.3L320.9 1574.3L322.6 1574.3L324.3 1574.3L326.0 1574.3L327.7 1574.3L329.4 1574.3L331.1 1574.3L332.8 1574.3L334.5 1574.3L336.1 1574.3L337.8 1574.3L339.5 1574.3L341.2 1574.3L342.9 1574.3L344.6 1574.2L346.3 1574.2L348.0 1574.2L349.7 1574.2L351.4 1574.2L353.1 1574.2L354.8 1574.2L356.4 1574.2L358.1 1574.2L359.8 1574.2L361.5 1574.2L363.2 1574.2L364.9 1574.2L366.6 1574.2L368.3 1574.2L370.0 1574.2L371.7 1574.2L373.4 1574.2L375.0 1574.2L376.7 1574.2L378.4 1574.2L380.1 1574.2L381.8 1574.2L383.5 1574.2L385.2 1574.2L386.9 1574.2L388.6 1574.2L390.3 1574.2L392.0 1574.2L393.7 1574.2L395.3 1574.2L397.0 1574.2L398.7 1574.2L400.4 1574.2L402.1 1574.2L403.8 1574.2L405.5 1574.3L407.2 1574.3L408.9 1574.3L410.6 1574.3L412.3 1574.3L413.9 1574.3L415.6 1574.3L417.3 1574.3L419.0 1574.3L420.7 1574.3L422.4 1574.3L424.1 1574.3L425.8 1574.3L427.5 1574.3L429.2 1574.3L430.9 1574.3L432.6 1574.3L434.2 1574.3L435.9 1574.3L437.6 1574.3L439.3 1574.3L441.0 1574.3L442.7 1574.3L444.4 1574.3L446.1 1574.3L447.8 1574.3L449.5 1574.3L451.2 1574.3L452.9 1574.3L454.5 1574.3L456.2 1574.3L457.9 1574.3L459.6 1574.3L461.3 1574.3L463.0 1574.3L464.7 1574.3L466.4 1574.3L468.1 1574.3L469.8 1574.3L471.5 1574.3L473.1 1574.3L474.8 1574.3L476.5 1574.3L478.2 1574.3L479.9 1574.3L481.6 1574.3L483.3 1574.3L485.0 1574.3L486.7 1574.3L488.4 1574.3L490.1 1574.3L491.8 1574.3L493.4 1574.3L495.1 1574.3L496.8 1574.3L498.5 1574.3L500.2 1574.3L501.9 1574.3L503.6 1574.3L505.3 1574.3L507.0 1574.3L508.7 1574.3L510.4 1574.3L512.0 1574.3L513.7 1574.4L515.4 1574.4L517.1 1574.4L518.8 1574.4L520.5 1574.4L522.2 1574.4L523.9 1574.4L525.6 1574.4L527.3 1574.4L529.0 1574.4L530.7 1574.4L532.3 1574.4L534.0 1574.4L535.7 1574.4L537.4 1574.4L539.1 1574.4L540.8 1574.4L542.5 1574.4L544.2 1574.4L545.9 1574.4L547.6 1574.4L549.3 1574.4L550.9 1574.4L552.6 1574.4L554.3 1574.4L556.0 1574.4L557.7 1574.4L559.4 1574.4L561.1 1574.5L562.8 1574.5L564.5 1574.5L566.2 1574.5L567.9 1574.5L569.6 1574.5L571.2 1574.5L572.9 1574.5L574.6 1574.5L576.3 1574.5L578.0 1574.5L579.7 1574.5L581.4 1574.5L583.1 1574.5L584.8 1574.5L586.5 1574.5L588.2 1574.5L589.8 1574.5L591.5 1574.5L593.2 1574.5L594.9 1574.6L596.6 1574.6L598.3 1574.6L600.0 1574.6L601.7 1574.6L603.4 1574.6L605.1 1574.6L606.8 1574.6L608.5 1574.6L610.1 1574.6L611.8 1574.6L613.5 1574.6L615.2 1574.6L616.9 1574.6L618.6 1574.6L620.3 1574.6L622.0 1574.7L623.7 1574.7L625.4 1574.7L627.1 1574.7L628.7 1574.7L630.4 1574.7L632.1 1574.7L633.8 1574.7L635.5 1574.7L637.2 1574.7L638.9 1574.7L640.6 1574.7L642.3 1574.7L644.0 1574.7L645.7 1574.8L647.4 1574.8L649.0 1574.8L650.7 1574.8L652.4 1574.8L654.1 1574.8L655.8 1574.8L657.5 1574.8L659.2 1574.8L660.9 1574.8L662.6 1574.8L664.3 1574.8L666.0 1574.9L667.7 1574.9L669.3 1574.9L671.0 1574.9L672.7 1574.9L674.4 1574.9L676.1 1574.9L677.8 1574.9L679.5 1574.9L681.2 1574.9L682.9 1575.0L684.6 1575.0L686.3 1575.0L687.9 1575.0L689.6 1575.0L691.3 1575.0L693.0 1575.0L694.7 1575.0L696.4 1575.0L698.1 1575.1L699.8 1575.1L701.5 1575.1L703.2 1575.1L704.9 1575.1L706.6 1575.1L708.2 1575.1L709.9 1575.1L711.6 1575.1L713.3 1575.2L715.0 1575.2L716.7 1575.2L718.4 1575.2L720.1 1575.2L721.8 1575.2L723.5 1575.2L725.2 1575.3L726.8 1575.3L728.5 1575.3L730.2 1575.3L731.9 1575.3L733.6 1575.3L735.3 1575.3L737.0 1575.4L738.7 1575.4L740.4 1575.4L742.1 1575.4L743.8 1575.4L745.5 1575.4L747.1 1575.4L748.8 1575.5L750.5 1575.5L752.2 1575.5L753.9 1575.5L755.6 1575.5L757.3 1575.5L759.0 1575.6L760.7 1575.6L762.4 1575.6L764.1 1575.6L765.7 1575.6L767.4 1575.7L769.1 1575.7L770.8 1575.7L772.5 1575.7L774.2 1575.7L775.9 1575.7L777.6 1575.8L779.3 1575.8L781.0 1575.8L782.7 1575.8L784.4 1575.8L786.0 1575.9L787.7 1575.9L789.4 1575.9L791.1 1575.9L792.8 1575.9L794.5 1576.0L796.2 1576.0L797.9 1576.0L799.6 1576.0L801.3 1576.1L803.0 1576.1L804.6 1576.1L806.3 1576.1L808.0 1576.2L809.7 1576.2L811.4 1576.2L813.1 1576.2L814.8 1576.3L816.5 1576.3L818.2 1576.3L819.9 1576.3L821.6 1576.4L823.3 1576.4L824.9 1576.4L826.6 1576.4L828.3 1576.5L830.0 1576.5L831.7 1576.5L833.4 1576.6L835.1 1576.6L836.8 1576.6L838.5 1576.6L840.2 1576.7L841.9 1576.7L843.6 1576.7L845.2 1576.8L846.9 1576.8L848.6 1576.8L850.3 1576.9L852.0 1576.9L853.7 1576.9L855.4 1577.0L857.1 1577.0L858.8 1577.0L860.5 1577.1L862.2 1577.1L863.8 1577.1L865.5 1577.2L867.2 1577.2L868.9 1577.2L870.6 1577.3L872.3 1577.3L874.0 1577.4L875.7 1577.4L877.4 1577.4L879.1 1577.5L880.8 1577.5L882.5 1577.6L884.1 1577.6L885.8 1577.6L887.5 1577.7L889.2 1577.7L890.9 1577.8L892.6 1577.8L894.3 1577.9L896.0 1577.9L897.7 1578.0L899.4 1578.0L901.1 1578.0L902.7 1578.1L904.4 1578.1L906.1 1578.2L907.8 1578.2L909.5 1578.3L911.2 1578.3L912.9 1578.4L914.6 1578.5L916.3 1578.5L918.0 1578.6L919.7 1578.6L921.4 1578.7L923.0 1578.7L924.7 1578.8L926.4 1578.8L928.1 1578.9L929.8 1579.0L931.5 1579.0L933.2 1579.1L934.9 1579.1L936.6 1579.2L938.3 1579.3L940.0 1579.3L941.6 1579.4L943.3 1579.5L945.0 1579.5L946.7 1579.6L948.4 1579.7L950.1 1579.7L951.8 1579.8L953.5 1579.9L955.2 1580.0L956.9 1580.0L958.6 1580.1L960.3 1580.2L961.9 1580.3L963.6 1580.4L965.3 1580.4L967.0 1580.5L968.7 1580.6L970.4 1580.7L972.1 1580.8L973.8 1580.8L975.5 1580.9L977.2 1581.0L978.9 1581.1L980.5 1581.2L982.2 1581.3L983.9 1581.4L985.6 1581.5L987.3 1581.6L989.0 1581.7L990.7 1581.8L992.4 1581.9L994.1 1582.0L995.8 1582.1L997.5 1582.2L999.2 1582.3L1000.8 1582.4L1002.5 1582.5L1004.2 1582.6L1005.9 1582.7L1007.6 1582.9L1009.3 1583.0L1011.0 1583.1L1012.7 1583.2L1014.4 1583.3L1016.1 1583.5L1017.8 1583.6L1019.5 1583.7L1021.1 1583.8L1022.8 1584.0L1024.5 1584.1L1026.2 1584.2L1027.9 1584.4L1029.6 1584.5L1031.3 1584.7L1033.0 1584.8L1034.7 1584.9L1036.4 1585.1L1038.1 1585.2L1039.7 1585.4L1041.4 1585.5L1043.1 1585.7L1044.8 1585.9L1046.5 1586.0L1048.2 1586.2L1049.9 1586.3L1051.6 1586.5L1053.3 1586.7L1055.0 1586.9L1056.7 1587.0L1058.4 1587.2L1060.0 1587.4L1061.7 1587.6L1063.4 1587.7L1065.1 1587.9L1066.8 1588.1L1068.5 1588.3L1070.2 1588.5L1071.9 1588.7L1073.6 1588.9L1075.3 1589.1L1077.0 1589.3L1078.6 1589.5L1080.3 1589.7L1082.0 1589.9L1083.7 1590.1L1085.4 1590.4L1087.1 1590.6L1088.8 1590.8L1090.5 1591.0L1092.2 1591.2L1093.9 1591.5L1095.6 1591.7L1097.3 1591.9L1098.9 1592.2L1100.6 1592.4L1102.3 1592.6L1104.0 1592.9L1105.7 1593.1L1107.4 1593.4L1109.1 1593.6L1110.8 1593.8L1112.5 1594.1L1114.2 1594.3L1115.9 1594.6L1117.5 1594.8L1119.2 1595.1L1120.9 1595.4L1122.6 1595.6L1124.3 1595.9L1126.0 1596.1L1127.7 1596.4L1129.4 1596.6L1131.1 1596.9L1132.8 1597.2L1134.5 1597.4L1136.2 1597.7L1137.8 1597.9L1139.5 1598.2L1141.2 1598.5L1142.9 1598.7L1144.6 1599.0L1146.3 1599.2L1148.0 1599.5L1149.7 1599.7L1151.4 1600.0L1153.1 1600.2L1154.8 1600.5L1156.4 1600.7L1158.1 1600.9L1159.8 1601.2L1161.5 1601.4L1163.2 1601.6L1164.9 1601.9L1166.6 1602.1L1168.3 1602.3L1170.0 1602.5L1171.7 1602.7L1173.4 1602.9L1175.1 1603.1L1176.7 1603.3L1178.4 1603.4L1180.1 1603.6L1181.8 1603.8L1183.5 1603.9L1185.2 1604.1L1186.9 1604.2L1188.6 1604.4L1190.3 1604.5L1192.0 1604.6L1193.7 1604.7L1195.3 1604.8L1197.0 1604.9L1198.7 1605.0L1200.4 1605.1L1202.1 1605.1L1203.8 1605.2L1205.5 1605.2L1207.2 1605.3L1208.9 1605.3L1210.6 1605.3L1212.3 1605.3L1214.0 1605.3L1215.6 1605.3L1217.3 1605.3L1219.0 1605.3L1220.7 1605.2L1222.4 1605.2L1224.1 1605.1L1225.8 1605.0L1227.5 1605.0L1229.2 1604.9L1230.9 1604.8L1232.6 1604.7L1234.3 1604.6L1235.9 1604.4L1237.6 1604.3L1239.3 1604.2L1241.0 1604.0L1242.7 1603.9L1244.4 1603.7L1246.1 1603.5L1247.8 1603.4L1249.5 1603.2L1251.2 1603.0L1252.9 1602.8L1254.5 1602.6L1256.2 1602.4L1257.9 1602.2L1259.6 1602.0L1261.3 1601.7L1263.0 1601.5L1264.7 1601.3L1266.4 1601.1L1268.1 1600.8L1269.8 1600.6L1271.5 1600.3L1273.2 1600.1L1274.8 1599.8L1276.5 1599.6L1278.2 1599.3L1279.9 1599.1L1281.6 1598.8L1283.3 1598.6L1285.0 1598.3L1286.7 1598.1L1288.4 1597.8L1290.1 1597.5L1291.8 1597.3L1293.4 1597.0L1295.1 1596.8L1296.8 1596.5L1298.5 1596.3L1300.2 1596.0L1301.9 1595.7L1303.6 1595.5L1305.3 1595.2L1307.0 1595.0L1308.7 1594.7L1310.4 1594.5L1312.1 1594.2L1313.7 1594.0L1315.4 1593.7L1317.1 1593.5L1318.8 1593.2L1320.5 1593.0L1322.2 1592.7L1323.9 1592.5L1325.6 1592.3L1327.3 1592.0L1329.0 1591.8L1330.7 1591.6L1332.3 1591.3L1334.0 1591.1L1335.7 1590.9L1337.4 1590.7L1339.1 1590.4L1340.8 1590.2L1342.5 1590.0L1344.2 1589.8L1345.9 1589.6L1347.6 1589.4L1349.3 1589.2L1351.0 1589.0L1352.6 1588.8L1354.3 1588.6L1356.0 1588.4L1357.7 1588.2L1359.4 1588.0L1361.1 1587.8L1362.8 1587.6L1364.5 1587.5L1366.2 1587.3L1367.9 1587.1L1369.6 1586.9L1371.2 1586.7L1372.9 1586.6L1374.6 1586.4L1376.3 1586.2L1378.0 1586.1L1379.7 1585.9L1381.4 1585.8L1383.1 1585.6L1384.8 1585.4L1386.5 1585.3L1388.2 1585.1L1389.9 1585.0L1391.5 1584.8L1393.2 1584.7L1394.9 1584.6L1396.6 1584.4L1398.3 1584.3L1400.0 1584.1L1401.7 1584.0L1403.4 1583.9L1405.1 1583.7L1406.8 1583.6L1408.5 1583.5L1410.2 1583.4L1411.8 1583.2L1413.5 1583.1L1415.2 1583.0L1416.9 1582.9L1418.6 1582.8L1420.3 1582.7L1422.0 1582.5L1423.7 1582.4L1425.4 1582.3L1427.1 1582.2L1428.8 1582.1L1430.4 1582.0L1432.1 1581.9L1433.8 1581.8L1435.5 1581.7L1437.2 1581.6L1438.9 1581.5L1440.6 1581.4L1442.3 1581.3L1444.0 1581.2L1445.7 1581.1L1447.4 1581.0L1449.1 1580.9L1450.7 1580.9L1452.4 1580.8L1454.1 1580.7L1455.8 1580.6L1457.5 1580.5L1459.2 1580.4L1460.9 1580.3L1462.6 1580.3L1464.3 1580.2L1466.0 1580.1L1467.7 1580.0L1469.3 1580.0L1471.0 1579.9L1472.7 1579.8L1474.4 1579.7L1476.1 1579.7L1477.8 1579.6L1479.5 1579.5L1481.2 1579.5L1482.9 1579.4L1484.6 1579.3L1486.3 1579.3L1488.0 1579.2L1489.6 1579.1L1491.3 1579.1L1493.0 1579.0L1494.7 1578.9L1496.4 1578.9L1498.1 1578.8L1499.8 1578.8L1501.5 1578.7L1503.2 1578.6L1504.9 1578.6L1506.6 1578.5L1508.2 1578.5L1509.9 1578.4L1511.6 1578.4L1513.3 1578.3L1515.0 1578.3L1516.7 1578.2L1518.4 1578.2L1520.1 1578.1L1521.8 1578.1L1523.5 1578.0L1525.2 1578.0L1526.9 1577.9L1528.5 1577.9L1530.2 1577.8L1531.9 1577.8L1533.6 1577.7L1535.3 1577.7L1537.0 1577.6L1538.7 1577.6L1540.4 1577.6L1542.1 1577.5L1543.8 1577.5L1545.5 1577.4L1547.1 1577.4L1548.8 1577.4L1550.5 1577.3L1552.2 1577.3L1553.9 1577.2L1555.6 1577.2L1557.3 1577.2L1559.0 1577.1L1560.7 1577.1L1562.4 1577.0L1564.1 1577.0L1565.8 1577.0L1567.4 1576.9L1569.1 1576.9L1570.8 1576.9L1572.5 1576.8L1574.2 1576.8L1575.9 1576.8L1577.6 1576.7L1579.3 1576.7L1581.0 1576.7L1582.7 1576.6L1584.4 1576.6L1586.0 1576.6L1587.7 1576.6L1589.4 1576.5L1591.1 1576.5L1592.8 1576.5L1594.5 1576.4L1596.2 1576.4L1597.9 1576.4L1599.6 1576.4L1601.3 1576.3L1603.0 1576.3L1604.7 1576.3L1606.3 1576.2L1608.0 1576.2L1609.7 1576.2L1611.4 1576.2L1613.1 1576.1L1614.8 1576.1L1616.5 1576.1L1618.2 1576.1L1619.9 1576.0L1621.6 1576.0L1623.3 1576.0L1625.0 1576.0L1626.6 1575.9L1628.3 1575.9L1630.0 1575.9L1631.7 1575.9L1633.4 1575.9L1635.1 1575.8L1636.8 1575.8L1638.5 1575.8L1640.2 1575.8L1641.9 1575.8L1643.6 1575.7L1645.2 1575.7L1646.9 1575.7L1648.6 1575.7L1650.3 1575.7L1652.0 1575.6L1653.7 1575.6L1655.4 1575.6L1657.1 1575.6L1658.8 1575.6L1660.5 1575.5L1662.2 1575.5L1663.9 1575.5L1665.5 1575.5L1667.2 1575.5L1668.9 1575.4L1670.6 1575.4L1672.3 1575.4L1674.0 1575.4L1675.7 1575.4L1677.4 1575.4L1679.1 1575.3L1680.8 1575.3L1682.5 1575.3L1684.1 1575.3L1685.8 1575.3L1687.5 1575.3L1689.2 1575.3L1690.9 1575.2L1692.6 1575.2L1694.3 1575.2L1696.0 1575.2L1697.7 1575.2L1699.4 1575.2L1701.1 1575.2L1702.8 1575.1L1704.4 1575.1L1706.1 1575.1L1707.8 1575.1L1709.5 1575.1L1711.2 1575.1L1712.9 1575.1L1714.6 1575.0L1716.3 1575.0L1718.0 1575.0L1719.7 1575.0L1721.4 1575.0L1723.0 1575.0L1724.7 1575.0L1726.4 1575.0L1728.1 1574.9L1729.8 1574.9L1731.5 1574.9L1733.2 1574.9L1734.9 1574.9L1736.6 1574.9L1738.3 1574.9L1740.0 1574.9L1741.7 1574.9L1743.3 1574.8L1745.0 1574.8L1746.7 1574.8L1748.4 1574.8L1750.1 1574.8L1751.8 1574.8L1753.5 1574.8L1755.2 1574.8L1756.9 1574.8L1758.6 1574.8L1760.3 1574.7L1761.9 1574.7L1763.6 1574.7L1765.3 1574.7L1767.0 1574.7L1768.7 1574.7L1770.4 1574.7L1772.1 1574.7L1773.8 1574.7L1775.5 1574.7L1777.2 1574.7L1778.9 1574.7L1780.6 1574.6L1782.2 1574.6L1783.9 1574.6L1785.6 1574.6L1787.3 1574.6L1789.0 1574.6L1790.7 1574.6L1792.4 1574.6L1794.1 1574.6L1795.8 1574.6L1797.5 1574.6L1799.2 1574.6L1800.9 1574.5L1802.5 1574.5L1804.2 1574.5L1805.9 1574.5L1807.6 1574.5L1809.3 1574.5L1811.0 1574.5L1812.7 1574.5L1814.4 1574.5L1816.1 1574.5L1817.8 1574.5L1819.5 1574.5L1821.1 1574.5L1822.8 1574.5L1824.5 1574.5L1826.2 1574.4L1827.9 1574.4L1829.6 1574.4L1831.3 1574.4L1833.0 1574.4L1834.7 1574.4L1836.4 1574.4L1838.1 1574.4L1839.8 1574.4L1841.4 1574.4L1843.1 1574.4L1844.8 1574.4L1846.5 1574.4L1848.2 1574.4L1849.9 1574.4L1851.6 1574.4L1853.3 1574.4L1855.0 1574.4L1856.7 1574.3L1858.4 1574.3L1860.0 1574.3L1861.7 1574.3L1863.4 1574.3L1865.1 1574.3L1866.8 1574.3L1868.5 1574.3L1870.2 1574.3L1871.9 1574.3L1873.6 1574.3L1875.3 1574.3L1877.0 1574.3L1878.7 1574.3L1880.3 1574.3L1882.0 1574.3L1883.7 1574.3L1885.4 1574.3L1887.1 1574.3L1888.8 1574.3L1890.5 1574.3L1892.2 1574.3L1893.9 1574.3L1895.6 1574.3L1897.3 1574.2L1898.9 1574.2L1900.6 1574.2L1902.3 1574.2L1904.0 1574.2L1905.7 1574.2L1907.4 1574.2L1909.1 1574.2L1910.8 1574.2L1912.5 1574.2L1914.2 1574.2L1915.9 1574.2L1917.6 1574.2L1919.2 1574.2L1920.9 1574.2L1922.6 1574.2L1924.3 1574.2L1926.0 1574.2L1927.7 1574.2L1929.4 1574.2L1931.1 1574.2L1932.8 1574.2L1934.5 1574.2L1936.2 1574.2L1937.8 1574.2L1939.5 1574.2L1941.2 1574.2L1942.9 1574.2L1944.6 1574.2L1946.3 1574.2L1948.0 1574.2L1949.7 1574.2L1951.4 1574.2L1953.1 1574.2L1954.8 1574.2L1956.5 1574.1L1958.1 1574.1L1959.8 1574.1L1961.5 1574.1L1963.2 1574.1L1964.9 1574.1L1966.6 1574.1L1968.3 1574.1L1970.0 1574.1L1971.7 1574.1L1973.4 1574.1L1975.1 1574.1L1976.8 1574.1L1978.4 1574.1L1979.7 1574.1" stroke="#00ff00" stroke-width="8.4"/>
<path d="M288.8 1573.8L290.5 1573.8L292.2 1573.8L293.9 1573.8L295.6 1573.8L297.2 1573.8L298.9 1573.8L300.6 1573.8L302.3 1573.8L304.0 1573.8L305.7 1573.8L307.4 1573.8L309.1 1573.8L310.8 1573.8L312.5 1573.8L314.2 1573.8L315.9 1573.8L317.5 1573.8L319.2 1573.8L320.9 1573.8L322.6 1573.8L324.3 1573.8L326.0 1573.8L327.7 1573.8L329.4 1573.8L331.1 1573.8L332.8 1573.9L334.5 1573.9L336.1 1573.9L337.8 1573.9L339.5 1573.9L341.2 1573.9L342.9 1573.9L344.6 1573.9L346.3 1573.9L348.0 1573.9L349.7 1573.9L351.4 1573.9L353.1 1573.9L354.8 1573.9L356.4 1573.9L358.1 1573.9L359.8 1573.9L361.5 1573.9L363.2 1573.9L364.9 1573.9L366.6 1573.9L368.3 1573.9L370.0 1573.9L371.7 1573.9L373.4 1573.9L375.0 1574.0L376.7 1574.0L378.4 1574.0L380.1 1574.0L381.8 1574.0L383.5 1574.0L385.2 1574.0L386.9 1574.0L388.6 1574.0L390.3 1574.0L392.0 1574.0L393.7 1574.0L395.3 1574.0L397.0 1574.0L398.7 1574.0L400.4 1574.0L402.1 1574.0L403.8 1574.0L405.5 1574.0L407.2 1574.0L408.9 1574.0L410.6 1574.0L412.3 1574.1L413.9 1574.1L415.6 1574.1L417.3 1574.1L419.0 1574.1L420.7 1574.1L422.4 1574.1L424.1 1574.1L425.8 1574.1L427.5 1574.1L429.2 1574.1L430.9 1574.1L432.6 1574.1L434.2 1574.1L435.9 1574.1L437.6 1574.1L439.3 1574.1L441.0 1574.1L442.7 1574.1L444.4 1574.1L446.1 1574.2L447.8 1574.2L449.5 1574.2L451.2 1574.2L452.9 1574.2L454.5 1574.2L456.2 1574.2L457.9 1574.2L459.6 1574.2L461.3 1574.2L463.0 1574.2L464.7 1574.2L466.4 1574.2L468.1 1574.2L469.8 1574.2L471.5 1574.2L473.1 1574.2L474.8 1574.2L476.5 1574.3L478.2 1574.3L479.9 1574.3L481.6 1574.3L483.3 1574.3L485.0 1574.3L486.7 1574.3L488.4 1574.3L490.1 1574.3L491.8 1574.3L493.4 1574.3L495.1 1574.3L496.8 1574.3L498.5 1574.3L500.2 1574.3L501.9 1574.3L503.6 1574.3L505.3 1574.4L507.0 1574.4L508.7 1574.4L510.4 1574.4L512.0 1574.4L513.7 1574.4L515.4 1574.4L517.1 1574.4L518.8 1574.4L520.5 1574.4L522.2 1574.4L523.9 1574.4L525.6 1574.4L527.3 1574.4L529.0 1574.4L530.7 1574.4L532.3 1574.5L534.0 1574.5L535.7 1574.5L537.4 1574.5L539.1 1574.5L540.8 1574.5L542.5 1574.5L544.2 1574.5L545.9 1574.5L547.6 1574.5L549.3 1574.5L550.9 1574.5L552.6 1574.5L554.3 1574.5L556.0 1574.6L557.7 1574.6L559.4 1574.6L561.1 1574.6L562.8 1574.6L564.5 1574.6L566.2 1574.6L567.9 1574.6L569.6 1574.6L571.2 1574.6L572.9 1574.6L574.6 1574.6L576.3 1574.6L578.0 1574.6L579.7 1574.7L581.4 1574.7L583.1 1574.7L584.8 1574.7L586.5 1574.7L588.2 1574.7L589.8 1574.7L591.5 1574.7L593.2 1574.7L594.9 1574.7L596.6 1574.7L598.3 1574.7L600.0 1574.7L601.7 1574.8L603.4 1574.8L605.1 1574.8L606.8 1574.8L608.5 1574.8L610.1 1574.8L611.8 1574.8L613.5 1574.8L615.2 1574.8L616.9 1574.8L618.6 1574.8L620.3 1574.9L622.0 1574.9L623.7 1574.9L625.4 1574.9L627.1 1574.9L628.7 1574.9L630.4 1574.9L632.1 1574.9L633.8 1574.9L635.5 1574.9L637.2 1574.9L638.9 1574.9L640.6 1575.0L642.3 1575.0L644.0 1575.0L645.7 1575.0L647.4 1575.0L649.0 1575.0L650.7 1575.0L652.4 1575.0L654.1 1575.0L655.8 1575.0L657.5 1575.1L659.2 1575.1L660.9 1575.1L662.6 1575.1L664.3 1575.1L666.0 1575.1L667.7 1575.1L669.3 1575.1L671.0 1575.1L672.7 1575.1L674.4 1575.2L676.1 1575.2L677.8 1575.2L679.5 1575.2L681.2 1575.2L682.9 1575.2L684.6 1575.2L686.3 1575.2L687.9 1575.2L689.6 1575.3L691.3 1575.3L693.0 1575.3L694.7 1575.3L696.4 1575.3L698.1 1575.3L699.8 1575.3L701.5 1575.3L703.2 1575.3L704.9 1575.4L706.6 1575.4L708.2 1575.4L709.9 1575.4L711.6 1575.4L713.3 1575.4L715.0 1575.4L716.7 1575.4L718.4 1575.4L720.1 1575.5L721.8 1575.5L723.5 1575.5L725.2 1575.5L726.8 1575.5L728.5 1575.5L730.2 1575.5L731.9 1575.5L733.6 1575.6L735.3 1575.6L737.0 1575.6L738.7 1575.6L740.4 1575.6L742.1 1575.6L743.8 1575.6L745.5 1575.6L747.1 1575.7L748.8 1575.7L750.5 1575.7L752.2 1575.7L753.9 1575.7L755.6 1575.7L757.3 1575.7L759.0 1575.8L760.7 1575.8L762.4 1575.8L764.1 1575.8L765.7 1575.8L767.4 1575.8L769.1 1575.8L770.8 1575.9L772.5 1575.9L774.2 1575.9L775.9 1575.9L777.6 1575.9L779.3 1575.9L781.0 1575.9L782.7 1576.0L784.4 1576.0L786.0 1576.0L787.7 1576.0L789.4 1576.0L791.1 1576.0L792.8 1576.0L794.5 1576.1L796.2 1576.1L797.9 1576.1L799.6 1576.1L801.3 1576.1L803.0 1576.1L804.6 1576.2L806.3 1576.2L808.0 1576.2L809.7 1576.2L811.4 1576.2L813.1 1576.2L814.8 1576.3L816.5 1576.3L818.2 1576.3L819.9 1576.3L821.6 1576.3L823.3 1576.3L824.9 1576.4L826.6 1576.4L828.3 1576.4L830.0 1576.4L831.7 1576.4L833.4 1576.5L835.1 1576.5L836.8 1576.5L838.5 1576.5L840.2 1576.5L841.9 1576.5L843.6 1576.6L845.2 1576.6L846.9 1576.6L848.6 1576.6L850.3 1576.6L852.0 1576.7L853.7 1576.7L855.4 1576.7L857.1 1576.7L858.8 1576.7L860.5 1576.8L862.2 1576.8L863.8 1576.8L865.5 1576.8L867.2 1576.8L868.9 1576.9L870.6 1576.9L872.3 1576.9L874.0 1576.9L875.7 1577.0L877.4 1577.0L879.1 1577.0L880.8 1577.0L882.5 1577.0L884.1 1577.1L885.8 1577.1L887.5 1577.1L889.2 1577.1L890.9 1577.2L892.6 1577.2L894.3 1577.2L896.0 1577.2L897.7 1577.2L899.4 1577.3L901.1 1577.3L902.7 1577.3L904.4 1577.3L906.1 1577.4L907.8 1577.4L909.5 1577.4L911.2 1577.4L912.9 1577.5L914.6 1577.5L916.3 1577.5L918.0 1577.5L919.7 1577.6L921.4 1577.6L923.0 1577.6L924.7 1577.6L926.4 1577.7L928.1 1577.7L929.8 1577.7L931.5 1577.8L933.2 1577.8L934.9 1577.8L936.6 1577.8L938.3 1577.9L940.0 1577.9L941.6 1577.9L943.3 1578.0L945.0 1578.0L946.7 1578.0L948.4 1578.0L950.1 1578.1L951.8 1578.1L953.5 1578.1L955.2 1578.2L956.9 1578.2L958.6 1578.2L960.3 1578.3L961.9 1578.3L963.6 1578.3L965.3 1578.4L967.0 1578.4L968.7 1578.4L970.4 1578.5L972.1 1578.5L973.8 1578.5L975.5 1578.6L977.2 1578.6L978.9 1578.6L980.5 1578.7L982.2 1578.7L983.9 1578.7L985.6 1578.8L987.3 1578.8L989.0 1578.8L990.7 1578.9L992.4 1578.9L994.1 1578.9L995.8 1579.0L997.5 1579.0L999.2 1579.1L1000.8 1579.1L1002.5 1579.1L1004.2 1579.2L1005.9 1579.2L1007.6 1579.3L1009.3 1579.3L1011.0 1579.3L1012.7 1579.4L1014.4 1579.4L1016.1 1579.5L1017.8 1579.5L1019.5 1579.5L1021.1 1579.6L1022.8 1579.6L1024.5 1579.7L1026.2 1579.7L1027.9 1579.8L1029.6 1579.8L1031.3 1579.9L1033.0 1579.9L1034.7 1579.9L1036.4 1580.0L1038.1 1580.0L1039.7 1580.1L1041.4 1580.1L1043.1 1580.2L1044.8 1580.2L1046.5 1580.3L1048.2 1580.3L1049.9 1580.4L1051.6 1580.4L1053.3 1580.5L1055.0 1580.5L1056.7 1580.6L1058.4 1580.7L1060.0 1580.7L1061.7 1580.8L1063.4 1580.8L1065.1 1580.9L1066.8 1580.9L1068.5 1581.0L1070.2 1581.0L1071.9 1581.1L1073.6 1581.2L1075.3 1581.2L1077.0 1581.3L1078.6 1581.3L1080.3 1581.4L1082.0 1581.5L1083.7 1581.5L1085.4 1581.6L1087.1 1581.7L1088.8 1581.7L1090.5 1581.8L1092.2 1581.9L1093.9 1581.9L1095.6 1582.0L1097.3 1582.1L1098.9 1582.1L1100.6 1582.2L1102.3 1582.3L1104.0 1582.4L1105.7 1582.4L1107.4 1582.5L1109.1 1582.6L1110.8 1582.7L1112.5 1582.7L1114.2 1582.8L1115.9 1582.9L1117.5 1583.0L1119.2 1583.1L1120.9 1583.1L1122.6 1583.2L1124.3 1583.3L1126.0 1583.4L1127.7 1583.5L1129.4 1583.6L1131.1 1583.7L1132.8 1583.7L1134.5 1583.8L1136.2 1583.9L1137.8 1584.0L1139.5 1584.1L1141.2 1584.2L1142.9 1584.3L1144.6 1584.4L1146.3 1584.5L1148.0 1584.6L1149.7 1584.7L1151.4 1584.8L1153.1 1584.9L1154.8 1585.0L1156.4 1585.1L1158.1 1585.2L1159.8 1585.4L1161.5 1585.5L1163.2 1585.6L1164.9 1585.7L1166.6 1585.8L1168.3 1585.9L1170.0 1586.1L1171.7 1586.2L1173.4 1586.3L1175.1 1586.4L1176.7 1586.5L1178.4 1586.7L1180.1 1586.8L1181.8 1586.9L1183.5 1587.1L1185.2 1587.2L1186.9 1587.3L1188.6 1587.5L1190.3 1587.6L1192.0 1587.8L1193.7 1587.9L1195.3 1588.0L1197.0 1588.2L1198.7 1588.3L1200.4 1588.5L1202.1 1588.6L1203.8 1588.8L1205.5 1588.9L1207.2 1589.1L1208.9 1589.3L1210.6 1589.4L1212.3 1589.6L1214.0 1589.7L1215.6 1589.9L1217.3 1590.1L1219.0 1590.2L1220.7 1590.4L1222.4 1590.6L1224.1 1590.7L1225.8 1590.9L1227.5 1591.1L1229.2 1591.3L1230.9 1591.4L1232.6 1591.6L1234.3 1591.8L1235.9 1592.0L1237.6 1592.2L1239.3 1592.3L1241.0 1592.5L1242.7 1592.7L1244.4 1592.9L1246.1 1593.1L1247.8 1593.3L1249.5 1593.4L1251.2 1593.6L1252.9 1593.8L1254.5 1594.0L1256.2 1594.2L1257.9 1594.4L1259.6 1594.6L1261.3 1594.7L1263.0 1594.9L1264.7 1595.1L1266.4 1595.3L1268.1 1595.5L1269.8 1595.6L1271.5 1595.8L1273.2 1596.0L1274.8 1596.2L1276.5 1596.3L1278.2 1596.5L1279.9 1596.7L1281.6 1596.8L1283.3 1597.0L1285.0 1597.1L1286.7 1597.3L1288.4 1597.4L1290.1 1597.6L1291.8 1597.7L1293.4 1597.8L1295.1 1598.0L1296.8 1598.1L1298.5 1598.2L1300.2 1598.3L1301.9 1598.4L1303.6 1598.5L1305.3 1598.6L1307.0 1598.7L1308.7 1598.8L1310.4 1598.9L1312.1 1599.0L1313.7 1599.0L1315.4 1599.1L1317.1 1599.1L1318.8 1599.2L1320.5 1599.2L1322.2 1599.2L1323.9 1599.3L1325.6 1599.3L1327.3 1599.3L1329.0 1599.3L1330.7 1599.3L1332.3 1599.3L1334.0 1599.3L1335.7 1599.2L1337.4 1599.2L1339.1 1599.2L1340.8 1599.1L1342.5 1599.1L1344.2 1599.0L1345.9 1598.9L1347.6 1598.8L1349.3 1598.8L1351.0 1598.7L1352.6 1598.6L1354.3 1598.5L1356.0 1598.4L1357.7 1598.3L1359.4 1598.1L1361.1 1598.0L1362.8 1597.9L1364.5 1597.8L1366.2 1597.6L1367.9 1597.5L1369.6 1597.3L1371.2 1597.2L1372.9 1597.0L1374.6 1596.9L1376.3 1596.7L1378.0 1596.6L1379.7 1596.4L1381.4 1596.2L1383.1 1596.1L1384.8 1595.9L1386.5 1595.7L1388.2 1595.5L1389.9 1595.4L1391.5 1595.2L1393.2 1595.0L1394.9 1594.8L1396.6 1594.6L1398.3 1594.4L1400.0 1594.3L1401.7 1594.1L1403.4 1593.9L1405.1 1593.7L1406.8 1593.5L1408.5 1593.3L1410.2 1593.2L1411.8 1593.0L1413.5 1592.8L1415.2 1592.6L1416.9 1592.4L1418.6 1592.2L1420.3 1592.1L1422.0 1591.9L1423.7 1591.7L1425.4 1591.5L1427.1 1591.3L1428.8 1591.2L1430.4 1591.0L1432.1 1590.8L1433.8 1590.6L1435.5 1590.5L1437.2 1590.3L1438.9 1590.1L1440.6 1590.0L1442.3 1589.8L1444.0 1589.6L1445.7 1589.5L1447.4 1589.3L1449.1 1589.2L1450.7 1589.0L1452.4 1588.8L1454.1 1588.7L1455.8 1588.5L1457.5 1588.4L1459.2 1588.2L1460.9 1588.1L1462.6 1587.9L1464.3 1587.8L1466.0 1587.7L1467.7 1587.5L1469.3 1587.4L1471.0 1587.2L1472.7 1587.1L1474.4 1587.0L1476.1 1586.8L1477.8 1586.7L1479.5 1586.6L1481.2 1586.5L1482.9 1586.3L1484.6 1586.2L1486.3 1586.1L1488.0 1586.0L1489.6 1585.9L1491.3 1585.7L1493.0 1585.6L1494.7 1585.5L1496.4 1585.4L1498.1 1585.3L1499.8 1585.2L1501.5 1585.1L1503.2 1585.0L1504.9 1584.8L1506.6 1584.7L1508.2 1584.6L1509.9 1584.5L1511.6 1584.4L1513.3 1584.3L1515.0 1584.2L1516.7 1584.1L1518.4 1584.0L1520.1 1583.9L1521.8 1583.9L1523.5 1583.8L1525.2 1583.7L1526.9 1583.6L1528.5 1583.5L1530.2 1583.4L1531.9 1583.3L1533.6 1583.2L1535.3 1583.2L1537.0 1583.1L1538.7 1583.0L1540.4 1582.9L1542.1 1582.8L1543.8 1582.7L1545.5 1582.7L1547.1 1582.6L1548.8 1582.5L1550.5 1582.4L1552.2 1582.4L1553.9 1582.3L1555.6 1582.2L1557.3 1582.1L1559.0 1582.1L1560.7 1582.0L1562.4 1581.9L1564.1 1581.9L1565.8 1581.8L1567.4 1581.7L1569.1 1581.7L1570.8 1581.6L1572.5 1581.5L1574.2 1581.5L1575.9 1581.4L1577.6 1581.3L1579.3 1581.3L1581.0 1581.2L1582.7 1581.2L1584.4 1581.1L1586.0 1581.0L1587.7 1581.0L1589.4 1580.9L1591.1 1580.9L1592.8 1580.8L1594.5 1580.8L1596.2 1580.7L1597.9 1580.6L1599.6 1580.6L1601.3 1580.5L1603.0 1580.5L1604.7 1580.4L1606.3 1580.4L1608.0 1580.3L1609.7 1580.3L1611.4 1580.2L1613.1 1580.2L1614.8 1580.1L1616.5 1580.1L1618.2 1580.0L1619.9 1580.0L1621.6 1579.9L1623.3 1579.9L1625.0 1579.8L1626.6 1579.8L1628.3 1579.7L1630.0 1579.7L1631.7 1579.7L1633.4 1579.6L1635.1 1579.6L1636.8 1579.5L1638.5 1579.5L1640.2 1579.4L1641.9 1579.4L1643.6 1579.4L1645.2 1579.3L1646.9 1579.3L1648.6 1579.2L1650.3 1579.2L1652.0 1579.2L1653.7 1579.1L1655.4 1579.1L1657.1 1579.0L1658.8 1579.0L1660.5 1579.0L1662.2 1578.9L1663.9 1578.9L1665.5 1578.8L1667.2 1578.8L1668.9 1578.8L1670.6 1578.7L1672.3 1578.7L1674.0 1578.7L1675.7 1578.6L1677.4 1578.6L1679.1 1578.6L1680.8 1578.5L1682.5 1578.5L1684.1 1578.5L1685.8 1578.4L1687.5 1578.4L1689.2 1578.4L1690.9 1578.3L1692.6 1578.3L1694.3 1578.3L1696.0 1578.2L1697.7 1578.2L1699.4 1578.2L1701.1 1578.1L1702.8 1578.1L1704.4 1578.1L1706.1 1578.0L1707.8 1578.0L1709.5 1578.0L1711.2 1577.9L1712.9 1577.9L1714.6 1577.9L1716.3 1577.9L1718.0 1577.8L1719.7 1577.8L1721.4 1577.8L1723.0 1577.7L1724.7 1577.7L1726.4 1577.7L1728.1 1577.7L1729.8 1577.6L1731.5 1577.6L1733.2 1577.6L1734.9 1577.6L1736.6 1577.5L1738.3 1577.5L1740.0 1577.5L1741.7 1577.5L1743.3 1577.4L1745.0 1577.4L1746.7 1577.4L1748.4 1577.3L1750.1 1577.3L1751.8 1577.3L1753.5 1577.3L1755.2 1577.3L1756.9 1577.2L1758.6 1577.2L1760.3 1577.2L1761.9 1577.2L1763.6 1577.1L1765.3 1577.1L1767.0 1577.1L1768.7 1577.1L1770.4 1577.0L1772.1 1577.0L1773.8 1577.0L1775.5 1577.0L1777.2 1576.9L1778.9 1576.9L1780.6 1576.9L1782.2 1576.9L1783.9 1576.9L1785.6 1576.8L1787.3 1576.8L1789.0 1576.8L1790.7 1576.8L1792.4 1576.8L1794.1 1576.7L1795.8 1576.7L1797.5 1576.7L1799.2 1576.7L1800.9 1576.7L1802.5 1576.6L1804.2 1576.6L1805.9 1576.6L1807.6 1576.6L1809.3 1576.6L1811.0 1576.5L1812.7 1576.5L1814.4 1576.5L1816.1 1576.5L1817.8 1576.5L1819.5 1576.4L1821.1 1576.4L1822.8 1576.4L1824.5 1576.4L1826.2 1576.4L1827.9 1576.3L1829.6 1576.3L1831.3 1576.3L1833.0 1576.3L1834.7 1576.3L1836.4 1576.3L1838.1 1576.2L1839.8 1576.2L1841.4 1576.2L1843.1 1576.2L1844.8 1576.2L1846.5 1576.2L1848.2 1576.1L1849.9 1576.1L1851.6 1576.1L1853.3 1576.1L1855.0 1576.1L1856.7 1576.1L1858.4 1576.0L1860.0 1576.0L1861.7 1576.0L1863.4 1576.0L1865.1 1576.0L1866.8 1576.0L1868.5 1575.9L1870.2 1575.9L1871.9 1575.9L1873.6 1575.9L1875.3 1575.9L1877.0 1575.9L1878.7 1575.8L1880.3 1575.8L1882.0 1575.8L1883.7 1575.8L1885.4 1575.8L1887.1 1575.8L1888.8 1575.8L1890.5 1575.7L1892.2 1575.7L1893.9 1575.7L1895.6 1575.7L1897.3 1575.7L1898.9 1575.7L1900.6 1575.7L1902.3 1575.6L1904.0 1575.6L1905.7 1575.6L1907.4 1575.6L1909.1 1575.6L1910.8 1575.6L1912.5 1575.6L1914.2 1575.6L1915.9 1575.5L1917.6 1575.5L1919.2 1575.5L1920.9 1575.5L1922.6 1575.5L1924.3 1575.5L1926.0 1575.5L1927.7 1575.4L1929.4 1575.4L1931.1 1575.4L1932.8 1575.4L1934.5 1575.4L1936.2 1575.4L1937.8 1575.4L1939.5 1575.4L1941.2 1575.3L1942.9 1575.3L1944.6 1575.3L1946.3 1575.3L1948.0 1575.3L1949.7 1575.3L1951.4 1575.3L1953.1 1575.3L1954.8 1575.3L1956.5 1575.2L1958.1 1575.2L1959.8 1575.2L1961.5 1575.2L1963.2 1575.2L1964.9 1575.2L1966.6 1575.2L1968.3 1575.2L1970.0 1575.2L1971.7 1575.1L1973.4 1575.1L1975.1 1575.1L1976.8 1575.1L1978.4 1575.1L1979.7 1575.1" stroke="#ff00ff" stroke-width="8.4"/>
</g>
<path d="M579.5 501.7V474.2M579.5 80.8V108.3M859.4 501.7V474.2M859.4 80.8V108.3M1139.3 501.7V474.2M1139.3 80.8V108.3M1419.2 501.7V474.2M1419.2 80.8V108.3M1699.1 501.7V474.2M1699.1 80.8V108.3M299.6 291.2H327.1M1979.0 291.2H1951.5" stroke="#212121" stroke-width="5.6" fill="none"/>
<rect x="299.6" y="80.8" width="1679.4" height="420.9" stroke="#212121" stroke-width="5.6" fill="none" stroke-linejoin="round"/>
<path d="M634.3 1069.3V1041.8M634.3 650.3V677.8M970.1 1069.3V1041.8M970.1 650.3V677.8M1305.9 1069.3V1041.8M1305.9 650.3V677.8M1641.7 1069.3V1041.8M1641.7 650.3V677.8M298.5 901.7H326.0M1977.5 901.7H1950.0M298.5 734.1H326.0M1977.5 734.1H1950.0" stroke="#212121" stroke-width="5.6" fill="none"/>
<rect x="298.5" y="650.3" width="1679.0" height="419.0" stroke="#212121" stroke-width="5.6" fill="none" stroke-linejoin="round"/>
<path d="M634.3 1530.0V1502.5M634.3 1110.3V1137.8M969.8 1530.0V1502.5M969.8 1110.3V1137.8M1305.4 1530.0V1502.5M1305.4 1110.3V1137.8M1640.9 1530.0V1502.5M1640.9 1110.3V1137.8M298.8 1195.7H326.3M1976.4 1195.7H1948.9M298.8 1307.1H326.3M1976.4 1307.1H1948.9M298.8 1418.6H326.3M1976.4 1418.6H1948.9" stroke="#212121" stroke-width="5.6" fill="none"/>
<rect x="298.8" y="1110.3" width="1677.6" height="419.7" stroke="#212121" stroke-width="5.6" fill="none" stroke-linejoin="round"/>
<path d="M631.0 1992.9V1965.4M631.0 1573.5V1601.0M966.5 1992.9V1965.4M966.5 1573.5V1601.0M1302.0 1992.9V1965.4M1302.0 1573.5V1601.0M1637.5 1992.9V1965.4M1637.5 1573.5V1601.0M295.5 1713.3H323.0M1973.0 1713.3H1945.5M295.5 1853.1H323.0M1973.0 1853.1H1945.5" stroke="#212121" stroke-width="5.6" fill="none"/>
<rect x="295.5" y="1573.5" width="1677.5" height="419.4" stroke="#212121" stroke-width="5.6" fill="none" stroke-linejoin="round"/>
<text fill="#222222"><tspan x="270.37" y="568.95" font-size="66.5" font-family="'Liberation Sans', Arial, sans-serif">40</tspan></text>
<text fill="#222222"><tspan x="528.17" y="568.95" font-size="66.5" font-family="'Liberation Sans', Arial, sans-serif">45</tspan></text>
<text fill="#222222"><tspan x="816.34" y="568.95" font-size="66.5" font-family="'Liberation Sans', Arial, sans-serif">50</tspan></text>
<text fill="#222222"><tspan x="1103.64" y="568.95" font-size="66.5" font-family="'Liberation Sans', Arial, sans-serif">55</tspan></text>
<text fill="#222222"><tspan x="1383.32" y="568.95" font-size="66.5" font-family="'Liberation Sans', Arial, sans-serif">60</tspan></text>
<text fill="#222222"><tspan x="1669.22" y="568.95" font-size="66.5" font-family="'Liberation Sans', Arial, sans-serif">65</tspan></text>
<text fill="#222222"><tspan x="1935.09" y="568.95" font-size="66.5" font-family="'Liberation Sans', Arial, sans-serif">70</tspan></text>
<text fill="#222222"><tspan x="174.50" y="99.75" font-size="66.5" font-family="'Liberation Sans', Arial, sans-serif">0.1</tspan></text>
<text fill="#222222"><tspan x="155.06" y="310.15" font-size="66.5" font-family="'Liberation Sans', Arial, sans-serif">0.05</tspan></text>
<text fill="#222222"><tspan x="235.51" y="519.25" font-size="66.5" font-family="'Liberation Sans', Arial, sans-serif">0</tspan></text>
<text fill="#222222"><tspan x="237.11" y="1088.35" font-size="66.5" font-family="'Liberation Sans', Arial, sans-serif">0</tspan></text>
<text fill="#222222"><tspan x="236.56" y="921.60" font-size="66.5" font-family="'Liberation Sans', Arial, sans-serif">2</tspan></text>
<text fill="#222222"><tspan x="236.66" y="753.60" font-size="66.5" font-family="'Liberation Sans', Arial, sans-serif">4</tspan></text>
<text fill="#222222"><tspan x="301.39" y="646.51" font-size="66.5" font-family="'Liberation Sans', Arial, sans-serif">×</tspan><tspan x="327.95" y="643.60" font-size="66.5" font-family="'Liberation Sans', Arial, sans-serif">1</tspan><tspan x="369.10" y="642.95" font-size="66.5" font-family="'Liberation Sans', Arial, sans-serif">0</tspan></text>
<text fill="#222222"><tspan x="391.21" y="607.65" font-size="56.5" font-family="'Liberation Sans', Arial, sans-serif">−5</tspan></text>
<text fill="#222222"><tspan x="237.81" y="1214.35" font-size="66.5" font-family="'Liberation Sans', Arial, sans-serif">0</tspan></text>
<text fill="#222222"><tspan x="200.72" y="1327.20" font-size="66.5" font-family="'Liberation Sans', Arial, sans-serif">−1</tspan></text>
<text fill="#222222"><tspan x="196.33" y="1441.00" font-size="66.5" font-family="'Liberation Sans', Arial, sans-serif">−2</tspan></text>
<text fill="#222222"><tspan x="197.10" y="1540.55" font-size="66.5" font-family="'Liberation Sans', Arial, sans-serif">−3</tspan></text>
<text fill="#222222"><tspan x="233.61" y="1613.85" font-size="66.5" font-family="'Liberation Sans', Arial, sans-serif">0</tspan></text>
<text fill="#222222"><tspan x="138.61" y="1731.35" font-size="66.5" font-family="'Liberation Sans', Arial, sans-serif">−100</tspan></text>
<text fill="#222222"><tspan x="138.61" y="1871.05" font-size="66.5" font-family="'Liberation Sans', Arial, sans-serif">−200</tspan></text>
<text fill="#222222"><tspan x="138.61" y="2012.25" font-size="66.5" font-family="'Liberation Sans', Arial, sans-serif">−300</tspan></text>
<text fill="#222222"><tspan x="267.04" y="2065.95" font-size="66.5" font-family="'Liberation Sans', Arial, sans-serif">51</tspan></text>
<text fill="#222222"><tspan x="588.74" y="2065.95" font-size="66.5" font-family="'Liberation Sans', Arial, sans-serif">52</tspan></text>
<text fill="#222222"><tspan x="923.14" y="2065.95" font-size="66.5" font-family="'Liberation Sans', Arial, sans-serif">53</tspan></text>
<text fill="#222222"><tspan x="1257.74" y="2065.95" font-size="66.5" font-family="'Liberation Sans', Arial, sans-serif">54</tspan></text>
<text fill="#222222"><tspan x="1601.64" y="2065.95" font-size="66.5" font-family="'Liberation Sans', Arial, sans-serif">55</tspan></text>
<text fill="#222222"><tspan x="1931.44" y="2065.95" font-size="66.5" font-family="'Liberation Sans', Arial, sans-serif">56</tspan></text>
<text fill="#222222"><tspan x="947.06" y="2151.34" font-size="78" font-family="'Liberation Sans', Arial, sans-serif">θ</tspan><tspan x="956.74" y="2150.76" font-size="72.5" font-family="'Noto Sans CJK SC', 'Liberation Sans', sans-serif" font-weight="300">（</tspan><tspan x="1029.62" y="2151.30" font-size="78" font-family="'Liberation Sans', Arial, sans-serif">degree</tspan><tspan x="1277.94" y="2152.62" font-size="78" font-family="'Liberation Sans', Arial, sans-serif">)</tspan></text>
<g transform="translate(123.10,300.00) rotate(-90)"><text fill="#222222"><tspan x="17.66" y="0.00" font-size="81" font-family="'Liberation Sans', Arial, sans-serif">R</tspan></text></g>
<g transform="translate(129.80,900.00) rotate(-90)"><text fill="#222222"><tspan x="10.66" y="0.00" font-size="81" font-family="'Liberation Sans', Arial, sans-serif">R</tspan></text></g>
<g transform="translate(137.90,1470.00) rotate(-90)"><text fill="#222222"><tspan x="2.30" y="0.00" font-size="77" font-family="'Liberation Sans', Arial, sans-serif">Φ</tspan><tspan x="64.14" y="15.90" font-size="37" font-family="'Liberation Sans', Arial, sans-serif">r</tspan><tspan x="27.84" y="8.83" font-size="76" font-family="'Noto Sans CJK SC', 'Liberation Sans', sans-serif" font-weight="300">（</tspan><tspan x="104.79" y="0.00" font-size="75.5" font-family="'Liberation Sans', Arial, sans-serif">rad</tspan><tspan x="216.53" y="8.83" font-size="76" font-family="'Noto Sans CJK SC', 'Liberation Sans', sans-serif" font-weight="300">）</tspan></text></g>
<g transform="translate(119.30,1900.00) rotate(-90)"><text fill="#222222"><tspan x="7.50" y="0.00" font-size="77.5" font-family="'Liberation Sans', Arial, sans-serif">GH</tspan><tspan x="137.99" y="-7.77" font-size="68" font-family="'Noto Sans CJK SC', 'Liberation Sans', sans-serif" font-weight="100">/</tspan><tspan x="174.79" y="-1.10" font-size="74" font-family="'Liberation Sans', Arial, sans-serif">λ</tspan></text></g>
<text transform="matrix(0.9704,0,0,0.7840,-2.63,62.13)" font-size="100" font-family="'Noto Sans CJK SC', 'Liberation Sans', sans-serif" fill="#332a28">(</text>
<text transform="matrix(0.9804,0,0,0.7840,85.88,62.13)" font-size="100" font-family="'Noto Sans CJK SC', 'Liberation Sans', sans-serif" fill="#332a28">)</text>
<text fill="#332a28"><tspan x="33.19" y="62.44" font-size="81.5" font-family="'Noto Sans CJK SC', 'Liberation Sans', sans-serif">a</tspan></text>
<text transform="matrix(1.0000,0,0,0.7860,-5.70,696.29)" font-size="100" font-family="'Noto Sans CJK SC', 'Liberation Sans', sans-serif" fill="#332a28">(</text>
<text transform="matrix(0.9755,0,0,0.7860,82.00,696.29)" font-size="100" font-family="'Noto Sans CJK SC', 'Liberation Sans', sans-serif" fill="#332a28">)</text>
<text fill="#332a28"><tspan x="29.70" y="696.74" font-size="81.5" font-family="'Noto Sans CJK SC', 'Liberation Sans', sans-serif">b</tspan></text>
<text transform="matrix(0.9901,0,0,0.7722,-10.61,1146.67)" font-size="100" font-family="'Noto Sans CJK SC', 'Liberation Sans', sans-serif" fill="#332a28">(</text>
<text transform="matrix(0.9755,0,0,0.7722,72.10,1146.67)" font-size="100" font-family="'Noto Sans CJK SC', 'Liberation Sans', sans-serif" fill="#332a28">)</text>
<text fill="#332a28"><tspan x="24.76" y="1147.24" font-size="81.5" font-family="'Noto Sans CJK SC', 'Liberation Sans', sans-serif">c</tspan></text>
<text transform="matrix(1.0000,0,0,0.7771,-7.50,1627.37)" font-size="100" font-family="'Noto Sans CJK SC', 'Liberation Sans', sans-serif" fill="#332a28">(</text>
<text transform="matrix(0.9755,0,0,0.7771,81.20,1627.37)" font-size="100" font-family="'Noto Sans CJK SC', 'Liberation Sans', sans-serif" fill="#332a28">)</text>
<text fill="#332a28"><tspan x="28.18" y="1628.04" font-size="81.5" font-family="'Noto Sans CJK SC', 'Liberation Sans', sans-serif">d</tspan></text>
<rect x="853.5" y="454.1" width="464.4" height="63.9" fill="none" stroke="#f5d31a" stroke-width="8.2" stroke-linejoin="round"/>
<rect x="339.7" y="199.4" width="275.2" height="216.2" rx="7" ry="7" fill="#ffffff" stroke="#433c3a" stroke-width="2.3"/>
<path d="M349.5 223.8H443.6" stroke="#ff0000" stroke-width="5.6"/>
<text fill="#000"><tspan x="450.53" y="237.40" font-size="44" font-family="'Liberation Sans', Arial, sans-serif">t</tspan><tspan x="462.98" y="246.39" font-size="22" font-family="'Liberation Sans', Arial, sans-serif" fill="#3a3a3a">d</tspan><tspan x="474.37" y="237.40" font-size="44" font-family="'Noto Sans CJK SC', 'Liberation Sans', sans-serif" font-weight="100" fill="#555555">=</tspan><tspan x="498.14" y="237.40" font-size="44" font-family="'Liberation Sans', Arial, sans-serif">50nm</tspan></text>
<path d="M349.5 278.5H443.6" stroke="#0000ff" stroke-width="8.4"/>
<text fill="#000"><tspan x="450.53" y="292.10" font-size="44" font-family="'Liberation Sans', Arial, sans-serif">t</tspan><tspan x="462.98" y="301.09" font-size="22" font-family="'Liberation Sans', Arial, sans-serif" fill="#3a3a3a">d</tspan><tspan x="474.37" y="292.10" font-size="44" font-family="'Noto Sans CJK SC', 'Liberation Sans', sans-serif" font-weight="100" fill="#555555">=</tspan><tspan x="498.14" y="292.10" font-size="44" font-family="'Liberation Sans', Arial, sans-serif">55nm</tspan></text>
<path d="M349.5 333.2H443.6" stroke="#00ff00" stroke-width="8.4"/>
<text fill="#000"><tspan x="450.53" y="346.80" font-size="44" font-family="'Liberation Sans', Arial, sans-serif">t</tspan><tspan x="462.98" y="355.79" font-size="22" font-family="'Liberation Sans', Arial, sans-serif" fill="#3a3a3a">d</tspan><tspan x="474.37" y="346.80" font-size="44" font-family="'Noto Sans CJK SC', 'Liberation Sans', sans-serif" font-weight="100" fill="#555555">=</tspan><tspan x="497.67" y="346.80" font-size="44" font-family="'Liberation Sans', Arial, sans-serif">60nm</tspan></text>
<path d="M349.5 388.4H443.6" stroke="#ff00ff" stroke-width="8.4"/>
<text fill="#000"><tspan x="450.53" y="402.00" font-size="44" font-family="'Liberation Sans', Arial, sans-serif">t</tspan><tspan x="462.98" y="410.99" font-size="22" font-family="'Liberation Sans', Arial, sans-serif" fill="#3a3a3a">d</tspan><tspan x="474.37" y="402.00" font-size="44" font-family="'Noto Sans CJK SC', 'Liberation Sans', sans-serif" font-weight="100" fill="#555555">=</tspan><tspan x="497.67" y="402.00" font-size="44" font-family="'Liberation Sans', Arial, sans-serif">65nm</tspan></text>
<rect x="342.7" y="794.9" width="274.6" height="216.4" rx="7" ry="7" fill="#ffffff" stroke="#433c3a" stroke-width="2.3"/>
<path d="M351.9 819.3H446.9" stroke="#ff0000" stroke-width="5.6"/>
<text fill="#000"><tspan x="453.53" y="832.90" font-size="44" font-family="'Liberation Sans', Arial, sans-serif">t</tspan><tspan x="465.98" y="841.89" font-size="22" font-family="'Liberation Sans', Arial, sans-serif" fill="#3a3a3a">d</tspan><tspan x="477.37" y="832.90" font-size="44" font-family="'Noto Sans CJK SC', 'Liberation Sans', sans-serif" font-weight="100" fill="#555555">=</tspan><tspan x="501.14" y="832.90" font-size="44" font-family="'Liberation Sans', Arial, sans-serif">50nm</tspan></text>
<path d="M351.9 874.2H446.9" stroke="#0000ff" stroke-width="8.4"/>
<text fill="#000"><tspan x="453.53" y="887.80" font-size="44" font-family="'Liberation Sans', Arial, sans-serif">t</tspan><tspan x="465.98" y="896.79" font-size="22" font-family="'Liberation Sans', Arial, sans-serif" fill="#3a3a3a">d</tspan><tspan x="477.37" y="887.80" font-size="44" font-family="'Noto Sans CJK SC', 'Liberation Sans', sans-serif" font-weight="100" fill="#555555">=</tspan><tspan x="501.14" y="887.80" font-size="44" font-family="'Liberation Sans', Arial, sans-serif">55nm</tspan></text>
<path d="M351.9 929.0H446.9" stroke="#00ff00" stroke-width="8.4"/>
<text fill="#000"><tspan x="453.53" y="942.60" font-size="44" font-family="'Liberation Sans', Arial, sans-serif">t</tspan><tspan x="465.98" y="951.59" font-size="22" font-family="'Liberation Sans', Arial, sans-serif" fill="#3a3a3a">d</tspan><tspan x="477.37" y="942.60" font-size="44" font-family="'Noto Sans CJK SC', 'Liberation Sans', sans-serif" font-weight="100" fill="#555555">=</tspan><tspan x="500.67" y="942.60" font-size="44" font-family="'Liberation Sans', Arial, sans-serif">60nm</tspan></text>
<path d="M351.9 983.7H446.9" stroke="#ff00ff" stroke-width="8.4"/>
<text fill="#000"><tspan x="453.53" y="997.30" font-size="44" font-family="'Liberation Sans', Arial, sans-serif">t</tspan><tspan x="465.98" y="1006.29" font-size="22" font-family="'Liberation Sans', Arial, sans-serif" fill="#3a3a3a">d</tspan><tspan x="477.37" y="997.30" font-size="44" font-family="'Noto Sans CJK SC', 'Liberation Sans', sans-serif" font-weight="100" fill="#555555">=</tspan><tspan x="500.67" y="997.30" font-size="44" font-family="'Liberation Sans', Arial, sans-serif">65nm</tspan></text>
<rect x="344.9" y="1201.1" width="275.7" height="216.7" rx="7" ry="7" fill="#ffffff" stroke="#433c3a" stroke-width="2.3"/>
<path d="M354.4 1225.5H449.3" stroke="#ff0000" stroke-width="5.6"/>
<text fill="#000"><tspan x="455.73" y="1239.10" font-size="44" font-family="'Liberation Sans', Arial, sans-serif">t</tspan><tspan x="468.18" y="1248.09" font-size="22" font-family="'Liberation Sans', Arial, sans-serif" fill="#3a3a3a">d</tspan><tspan x="479.57" y="1239.10" font-size="44" font-family="'Noto Sans CJK SC', 'Liberation Sans', sans-serif" font-weight="100" fill="#555555">=</tspan><tspan x="503.34" y="1239.10" font-size="44" font-family="'Liberation Sans', Arial, sans-serif">50nm</tspan></text>
<path d="M354.4 1280.2H449.3" stroke="#0000ff" stroke-width="8.4"/>
<text fill="#000"><tspan x="455.73" y="1293.80" font-size="44" font-family="'Liberation Sans', Arial, sans-serif">t</tspan><tspan x="468.18" y="1302.79" font-size="22" font-family="'Liberation Sans', Arial, sans-serif" fill="#3a3a3a">d</tspan><tspan x="479.57" y="1293.80" font-size="44" font-family="'Noto Sans CJK SC', 'Liberation Sans', sans-serif" font-weight="100" fill="#555555">=</tspan><tspan x="503.34" y="1293.80" font-size="44" font-family="'Liberation Sans', Arial, sans-serif">55nm</tspan></text>
<path d="M354.4 1335.0H449.3" stroke="#00ff00" stroke-width="8.4"/>
<text fill="#000"><tspan x="455.73" y="1348.60" font-size="44" font-family="'Liberation Sans', Arial, sans-serif">t</tspan><tspan x="468.18" y="1357.59" font-size="22" font-family="'Liberation Sans', Arial, sans-serif" fill="#3a3a3a">d</tspan><tspan x="479.57" y="1348.60" font-size="44" font-family="'Noto Sans CJK SC', 'Liberation Sans', sans-serif" font-weight="100" fill="#555555">=</tspan><tspan x="502.87" y="1348.60" font-size="44" font-family="'Liberation Sans', Arial, sans-serif">60nm</tspan></text>
<path d="M354.4 1389.9H449.3" stroke="#ff00ff" stroke-width="8.4"/>
<text fill="#000"><tspan x="455.73" y="1403.50" font-size="44" font-family="'Liberation Sans', Arial, sans-serif">t</tspan><tspan x="468.18" y="1412.49" font-size="22" font-family="'Liberation Sans', Arial, sans-serif" fill="#3a3a3a">d</tspan><tspan x="479.57" y="1403.50" font-size="44" font-family="'Noto Sans CJK SC', 'Liberation Sans', sans-serif" font-weight="100" fill="#555555">=</tspan><tspan x="502.87" y="1403.50" font-size="44" font-family="'Liberation Sans', Arial, sans-serif">65nm</tspan></text>
<rect x="335.4" y="1697.0" width="275.2" height="216.8" rx="7" ry="7" fill="#ffffff" stroke="#433c3a" stroke-width="2.3"/>
<path d="M345.2 1721.4H440.1" stroke="#ff0000" stroke-width="5.6"/>
<text fill="#000"><tspan x="446.23" y="1735.00" font-size="44" font-family="'Liberation Sans', Arial, sans-serif">t</tspan><tspan x="458.68" y="1743.99" font-size="22" font-family="'Liberation Sans', Arial, sans-serif" fill="#3a3a3a">d</tspan><tspan x="470.07" y="1735.00" font-size="44" font-family="'Noto Sans CJK SC', 'Liberation Sans', sans-serif" font-weight="100" fill="#555555">=</tspan><tspan x="493.84" y="1735.00" font-size="44" font-family="'Liberation Sans', Arial, sans-serif">50nm</tspan></text>
<path d="M345.2 1776.3H440.1" stroke="#0000ff" stroke-width="8.4"/>
<text fill="#000"><tspan x="446.23" y="1789.90" font-size="44" font-family="'Liberation Sans', Arial, sans-serif">t</tspan><tspan x="458.68" y="1798.89" font-size="22" font-family="'Liberation Sans', Arial, sans-serif" fill="#3a3a3a">d</tspan><tspan x="470.07" y="1789.90" font-size="44" font-family="'Noto Sans CJK SC', 'Liberation Sans', sans-serif" font-weight="100" fill="#555555">=</tspan><tspan x="493.84" y="1789.90" font-size="44" font-family="'Liberation Sans', Arial, sans-serif">55nm</tspan></text>
<path d="M345.2 1831.0H440.1" stroke="#00ff00" stroke-width="8.4"/>
<text fill="#000"><tspan x="446.23" y="1844.60" font-size="44" font-family="'Liberation Sans', Arial, sans-serif">t</tspan><tspan x="458.68" y="1853.59" font-size="22" font-family="'Liberation Sans', Arial, sans-serif" fill="#3a3a3a">d</tspan><tspan x="470.07" y="1844.60" font-size="44" font-family="'Noto Sans CJK SC', 'Liberation Sans', sans-serif" font-weight="100" fill="#555555">=</tspan><tspan x="493.37" y="1844.60" font-size="44" font-family="'Liberation Sans', Arial, sans-serif">60nm</tspan></text>
<path d="M345.2 1885.8H440.1" stroke="#ff00ff" stroke-width="8.4"/>
<text fill="#000"><tspan x="446.23" y="1899.40" font-size="44" font-family="'Liberation Sans', Arial, sans-serif">t</tspan><tspan x="458.68" y="1908.39" font-size="22" font-family="'Liberation Sans', Arial, sans-serif" fill="#3a3a3a">d</tspan><tspan x="470.07" y="1899.40" font-size="44" font-family="'Noto Sans CJK SC', 'Liberation Sans', sans-serif" font-weight="100" fill="#555555">=</tspan><tspan x="493.37" y="1899.40" font-size="44" font-family="'Liberation Sans', Arial, sans-serif">65nm</tspan></text></svg>
</body></html>
